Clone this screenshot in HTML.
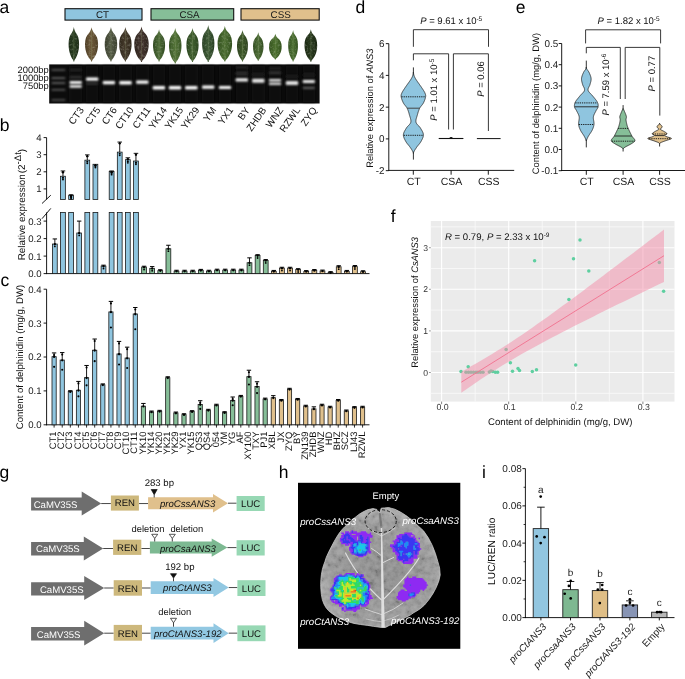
<!DOCTYPE html>
<html><head><meta charset="utf-8"><style>
html,body{margin:0;padding:0;background:#fff;}
svg{display:block;font-family:"Liberation Sans", sans-serif;}
text{opacity:0.999;text-rendering:geometricPrecision;}
</style></head><body>
<svg width="685" height="679" viewBox="0 0 685 679">
<rect x="0" y="0" width="685" height="679" fill="#fff"/>
<text x="-0.6" y="12.9" font-size="17.5" text-anchor="start" fill="#000" >a</text>
<text x="-0.3" y="130.9" font-size="17.5" text-anchor="start" fill="#000" >b</text>
<text x="0.4" y="285.8" font-size="17.5" text-anchor="start" fill="#000" >c</text>
<text x="355.6" y="12.9" font-size="17.5" text-anchor="start" fill="#000" >d</text>
<text x="515.8" y="12.9" font-size="17.5" text-anchor="start" fill="#000" >e</text>
<text x="390.8" y="222.4" font-size="17.5" text-anchor="start" fill="#000" >f</text>
<text x="-0.5" y="478" font-size="17.5" text-anchor="start" fill="#000" >g</text>
<text x="278.8" y="478" font-size="17.5" text-anchor="start" fill="#000" >h</text>
<text x="481.9" y="478" font-size="17.5" text-anchor="start" fill="#000" >i</text>
<rect x="65" y="8.7" width="77" height="11.4" fill="#8FC5DF" stroke="#111" stroke-width="1.1" />
<text x="102.5" y="17.8" font-size="9.8" text-anchor="middle" fill="#1A1A1A" >CT</text>
<rect x="151" y="8.7" width="82.7" height="11.4" fill="#86BE98" stroke="#111" stroke-width="1.1" />
<text x="189.5" y="17.8" font-size="9.8" text-anchor="middle" fill="#1A1A1A" >CSA</text>
<rect x="241" y="8.7" width="78.2" height="11.4" fill="#E0C08C" stroke="#111" stroke-width="1.1" />
<text x="280.65" y="17.8" font-size="9.8" text-anchor="middle" fill="#1A1A1A" >CSS</text>
<defs><filter id="ltexa" x="0" y="0" width="100%" height="100%"><feTurbulence type="fractalNoise" baseFrequency="0.45" numOctaves="2" seed="3"/><feColorMatrix type="matrix" values="0 0 0 0 0.85  0 0 0 0 0.88  0 0 0 0 0.8  1.8 0 0 0 -0.85"/><feComposite in2="SourceGraphic" operator="in"/></filter>
<linearGradient id="lg0" x1="0" y1="0" x2="1" y2="0"><stop offset="0" stop-color="#1A2A14"/><stop offset="0.5" stop-color="#2A3E22"/><stop offset="1" stop-color="#1A2A14"/></linearGradient>
<linearGradient id="lg1" x1="0" y1="0" x2="1" y2="0"><stop offset="0" stop-color="#4E3E26"/><stop offset="0.5" stop-color="#6E5A3A"/><stop offset="1" stop-color="#4E3E26"/></linearGradient>
<linearGradient id="lg2" x1="0" y1="0" x2="1" y2="0"><stop offset="0" stop-color="#3A3F2E"/><stop offset="0.5" stop-color="#545A45"/><stop offset="1" stop-color="#3A3F2E"/></linearGradient>
<linearGradient id="lg3" x1="0" y1="0" x2="1" y2="0"><stop offset="0" stop-color="#2E261A"/><stop offset="0.5" stop-color="#473C2C"/><stop offset="1" stop-color="#2E261A"/></linearGradient>
<linearGradient id="lg4" x1="0" y1="0" x2="1" y2="0"><stop offset="0" stop-color="#2C221C"/><stop offset="0.5" stop-color="#45362F"/><stop offset="1" stop-color="#2C221C"/></linearGradient>
<linearGradient id="lg5" x1="0" y1="0" x2="1" y2="0"><stop offset="0" stop-color="#314A22"/><stop offset="0.5" stop-color="#4C6B36"/><stop offset="1" stop-color="#314A22"/></linearGradient>
<linearGradient id="lg6" x1="0" y1="0" x2="1" y2="0"><stop offset="0" stop-color="#375424"/><stop offset="0.5" stop-color="#557539"/><stop offset="1" stop-color="#375424"/></linearGradient>
<linearGradient id="lg7" x1="0" y1="0" x2="1" y2="0"><stop offset="0" stop-color="#2A441E"/><stop offset="0.5" stop-color="#41602F"/><stop offset="1" stop-color="#2A441E"/></linearGradient>
<linearGradient id="lg8" x1="0" y1="0" x2="1" y2="0"><stop offset="0" stop-color="#273E22"/><stop offset="0.5" stop-color="#3E5A36"/><stop offset="1" stop-color="#273E22"/></linearGradient>
<linearGradient id="lg9" x1="0" y1="0" x2="1" y2="0"><stop offset="0" stop-color="#33501F"/><stop offset="0.5" stop-color="#4C6E31"/><stop offset="1" stop-color="#33501F"/></linearGradient>
<linearGradient id="lg10" x1="0" y1="0" x2="1" y2="0"><stop offset="0" stop-color="#2A3F1B"/><stop offset="0.5" stop-color="#405B2B"/><stop offset="1" stop-color="#2A3F1B"/></linearGradient>
<linearGradient id="lg11" x1="0" y1="0" x2="1" y2="0"><stop offset="0" stop-color="#334D22"/><stop offset="0.5" stop-color="#4C6C35"/><stop offset="1" stop-color="#334D22"/></linearGradient>
<linearGradient id="lg12" x1="0" y1="0" x2="1" y2="0"><stop offset="0" stop-color="#34521E"/><stop offset="0.5" stop-color="#4D712F"/><stop offset="1" stop-color="#34521E"/></linearGradient>
<linearGradient id="lg13" x1="0" y1="0" x2="1" y2="0"><stop offset="0" stop-color="#335120"/><stop offset="0.5" stop-color="#4C7032"/><stop offset="1" stop-color="#335120"/></linearGradient>
<linearGradient id="lg14" x1="0" y1="0" x2="1" y2="0"><stop offset="0" stop-color="#1A2712"/><stop offset="0.5" stop-color="#28391D"/><stop offset="1" stop-color="#1A2712"/></linearGradient>
</defs>
<path d="M73.85,27 C74.11,28.72 74.48,30.44 75.53,32.16 C78.05,35.26 79.1,38.7 79.1,44.2 C79.1,51.77 76.74,57.27 74.48,60.02 L74.25,61.4 L73.45,61.4 L73.22,60.02 C70.96,57.27 68.6,51.77 68.6,44.2 C68.6,38.7 69.65,35.26 72.17,32.16 C73.22,30.44 73.59,28.72 73.85,27 Z" fill="url(#lg0)"/>
<path d="M73.85,27 C74.11,28.72 74.48,30.44 75.53,32.16 C78.05,35.26 79.1,38.7 79.1,44.2 C79.1,51.77 76.74,57.27 74.48,60.02 L74.25,61.4 L73.45,61.4 L73.22,60.02 C70.96,57.27 68.6,51.77 68.6,44.2 C68.6,38.7 69.65,35.26 72.17,32.16 C73.22,30.44 73.59,28.72 73.85,27 Z" fill="#000" filter="url(#ltexa)" opacity="0.35"/>
<line x1="73.85" y1="30" x2="73.85" y2="60.4" stroke="#8A9A70" stroke-width="0.5" opacity="0.5"/>
<path d="M91.55,27.3 C91.88,29 92.34,30.71 93.65,32.41 C96.79,35.48 98.1,38.89 98.1,44.35 C98.1,51.85 95.15,57.31 92.34,60.04 L91.95,61.4 L91.15,61.4 L90.76,60.04 C87.95,57.31 85,51.85 85,44.35 C85,38.89 86.31,35.48 89.45,32.41 C90.76,30.71 91.22,29 91.55,27.3 Z" fill="url(#lg1)"/>
<path d="M91.55,27.3 C91.88,29 92.34,30.71 93.65,32.41 C96.79,35.48 98.1,38.89 98.1,44.35 C98.1,51.85 95.15,57.31 92.34,60.04 L91.95,61.4 L91.15,61.4 L90.76,60.04 C87.95,57.31 85,51.85 85,44.35 C85,38.89 86.31,35.48 89.45,32.41 C90.76,30.71 91.22,29 91.55,27.3 Z" fill="#000" filter="url(#ltexa)" opacity="0.35"/>
<line x1="91.55" y1="30.3" x2="91.55" y2="60.4" stroke="#8A9A70" stroke-width="0.5" opacity="0.5"/>
<path d="M110.95,27 C111.26,28.72 111.7,30.44 112.95,32.16 C115.95,35.26 117.2,38.7 117.2,44.2 C117.2,51.77 114.39,57.27 111.7,60.02 L111.35,61.4 L110.55,61.4 L110.2,60.02 C107.51,57.27 104.7,51.77 104.7,44.2 C104.7,38.7 105.95,35.26 108.95,32.16 C110.2,30.44 110.64,28.72 110.95,27 Z" fill="url(#lg2)"/>
<path d="M110.95,27 C111.26,28.72 111.7,30.44 112.95,32.16 C115.95,35.26 117.2,38.7 117.2,44.2 C117.2,51.77 114.39,57.27 111.7,60.02 L111.35,61.4 L110.55,61.4 L110.2,60.02 C107.51,57.27 104.7,51.77 104.7,44.2 C104.7,38.7 105.95,35.26 108.95,32.16 C110.2,30.44 110.64,28.72 110.95,27 Z" fill="#000" filter="url(#ltexa)" opacity="0.35"/>
<line x1="110.95" y1="30" x2="110.95" y2="60.4" stroke="#8A9A70" stroke-width="0.5" opacity="0.5"/>
<path d="M125.4,27 C125.71,28.72 126.14,30.44 127.38,32.16 C130.36,35.26 131.6,38.7 131.6,44.2 C131.6,51.77 128.81,57.27 126.14,60.02 L125.8,61.4 L125,61.4 L124.66,60.02 C121.99,57.27 119.2,51.77 119.2,44.2 C119.2,38.7 120.44,35.26 123.42,32.16 C124.66,30.44 125.09,28.72 125.4,27 Z" fill="url(#lg3)"/>
<path d="M125.4,27 C125.71,28.72 126.14,30.44 127.38,32.16 C130.36,35.26 131.6,38.7 131.6,44.2 C131.6,51.77 128.81,57.27 126.14,60.02 L125.8,61.4 L125,61.4 L124.66,60.02 C121.99,57.27 119.2,51.77 119.2,44.2 C119.2,38.7 120.44,35.26 123.42,32.16 C124.66,30.44 125.09,28.72 125.4,27 Z" fill="#000" filter="url(#ltexa)" opacity="0.35"/>
<line x1="125.4" y1="30" x2="125.4" y2="60.4" stroke="#8A9A70" stroke-width="0.5" opacity="0.5"/>
<path d="M141.5,26.6 C141.86,28.37 142.36,30.14 143.8,31.91 C147.26,35.1 148.7,38.64 148.7,44.3 C148.7,52.09 145.46,57.75 142.36,60.58 L141.9,62 L141.1,62 L140.64,60.58 C137.54,57.75 134.3,52.09 134.3,44.3 C134.3,38.64 135.74,35.1 139.2,31.91 C140.64,30.14 141.14,28.37 141.5,26.6 Z" fill="url(#lg4)"/>
<path d="M141.5,26.6 C141.86,28.37 142.36,30.14 143.8,31.91 C147.26,35.1 148.7,38.64 148.7,44.3 C148.7,52.09 145.46,57.75 142.36,60.58 L141.9,62 L141.1,62 L140.64,60.58 C137.54,57.75 134.3,52.09 134.3,44.3 C134.3,38.64 135.74,35.1 139.2,31.91 C140.64,30.14 141.14,28.37 141.5,26.6 Z" fill="#000" filter="url(#ltexa)" opacity="0.35"/>
<line x1="141.5" y1="29.6" x2="141.5" y2="61" stroke="#8A9A70" stroke-width="0.5" opacity="0.5"/>
<path d="M159.05,29.2 C159.35,30.81 159.78,32.42 160.99,34.03 C163.89,36.93 165.1,40.15 165.1,45.3 C165.1,52.38 162.38,57.54 159.78,60.11 L159.45,61.4 L158.65,61.4 L158.32,60.11 C155.72,57.54 153,52.38 153,45.3 C153,40.15 154.21,36.93 157.11,34.03 C158.32,32.42 158.75,30.81 159.05,29.2 Z" fill="url(#lg5)"/>
<path d="M159.05,29.2 C159.35,30.81 159.78,32.42 160.99,34.03 C163.89,36.93 165.1,40.15 165.1,45.3 C165.1,52.38 162.38,57.54 159.78,60.11 L159.45,61.4 L158.65,61.4 L158.32,60.11 C155.72,57.54 153,52.38 153,45.3 C153,40.15 154.21,36.93 157.11,34.03 C158.32,32.42 158.75,30.81 159.05,29.2 Z" fill="#000" filter="url(#ltexa)" opacity="0.35"/>
<line x1="159.05" y1="32.2" x2="159.05" y2="60.4" stroke="#8A9A70" stroke-width="0.5" opacity="0.5"/>
<path d="M175.25,27.9 C175.56,29.67 176,31.45 177.25,33.23 C180.25,36.42 181.5,39.97 181.5,45.65 C181.5,53.46 178.69,59.14 176,61.98 L175.65,63.4 L174.85,63.4 L174.5,61.98 C171.81,59.14 169,53.46 169,45.65 C169,39.97 170.25,36.42 173.25,33.23 C174.5,31.45 174.94,29.67 175.25,27.9 Z" fill="url(#lg6)"/>
<path d="M175.25,27.9 C175.56,29.67 176,31.45 177.25,33.23 C180.25,36.42 181.5,39.97 181.5,45.65 C181.5,53.46 178.69,59.14 176,61.98 L175.65,63.4 L174.85,63.4 L174.5,61.98 C171.81,59.14 169,53.46 169,45.65 C169,39.97 170.25,36.42 173.25,33.23 C174.5,31.45 174.94,29.67 175.25,27.9 Z" fill="#000" filter="url(#ltexa)" opacity="0.35"/>
<line x1="175.25" y1="30.9" x2="175.25" y2="62.4" stroke="#8A9A70" stroke-width="0.5" opacity="0.5"/>
<path d="M192.5,27.9 C192.81,29.6 193.23,31.31 194.45,33.02 C197.38,36.08 198.6,39.49 198.6,44.95 C198.6,52.45 195.85,57.91 193.23,60.64 L192.9,62 L192.1,62 L191.77,60.64 C189.15,57.91 186.4,52.45 186.4,44.95 C186.4,39.49 187.62,36.08 190.55,33.02 C191.77,31.31 192.19,29.6 192.5,27.9 Z" fill="url(#lg7)"/>
<path d="M192.5,27.9 C192.81,29.6 193.23,31.31 194.45,33.02 C197.38,36.08 198.6,39.49 198.6,44.95 C198.6,52.45 195.85,57.91 193.23,60.64 L192.9,62 L192.1,62 L191.77,60.64 C189.15,57.91 186.4,52.45 186.4,44.95 C186.4,39.49 187.62,36.08 190.55,33.02 C191.77,31.31 192.19,29.6 192.5,27.9 Z" fill="#000" filter="url(#ltexa)" opacity="0.35"/>
<line x1="192.5" y1="30.9" x2="192.5" y2="61" stroke="#8A9A70" stroke-width="0.5" opacity="0.5"/>
<path d="M208.25,24.9 C208.56,26.75 208.99,28.61 210.22,30.46 C213.17,33.8 214.4,37.51 214.4,43.45 C214.4,51.61 211.63,57.55 208.99,60.52 L208.65,62 L207.85,62 L207.51,60.52 C204.87,57.55 202.1,51.61 202.1,43.45 C202.1,37.51 203.33,33.8 206.28,30.46 C207.51,28.61 207.94,26.75 208.25,24.9 Z" fill="url(#lg8)"/>
<path d="M208.25,24.9 C208.56,26.75 208.99,28.61 210.22,30.46 C213.17,33.8 214.4,37.51 214.4,43.45 C214.4,51.61 211.63,57.55 208.99,60.52 L208.65,62 L207.85,62 L207.51,60.52 C204.87,57.55 202.1,51.61 202.1,43.45 C202.1,37.51 203.33,33.8 206.28,30.46 C207.51,28.61 207.94,26.75 208.25,24.9 Z" fill="#000" filter="url(#ltexa)" opacity="0.35"/>
<line x1="208.25" y1="27.9" x2="208.25" y2="61" stroke="#8A9A70" stroke-width="0.5" opacity="0.5"/>
<path d="M224.85,25.9 C225.21,27.67 225.72,29.45 227.17,31.22 C230.65,34.42 232.1,37.97 232.1,43.65 C232.1,51.46 228.84,57.14 225.72,59.98 L225.25,61.4 L224.45,61.4 L223.98,59.98 C220.86,57.14 217.6,51.46 217.6,43.65 C217.6,37.97 219.05,34.42 222.53,31.22 C223.98,29.45 224.49,27.67 224.85,25.9 Z" fill="url(#lg9)"/>
<path d="M224.85,25.9 C225.21,27.67 225.72,29.45 227.17,31.22 C230.65,34.42 232.1,37.97 232.1,43.65 C232.1,51.46 228.84,57.14 225.72,59.98 L225.25,61.4 L224.45,61.4 L223.98,59.98 C220.86,57.14 217.6,51.46 217.6,43.65 C217.6,37.97 219.05,34.42 222.53,31.22 C223.98,29.45 224.49,27.67 224.85,25.9 Z" fill="#000" filter="url(#ltexa)" opacity="0.35"/>
<line x1="224.85" y1="28.9" x2="224.85" y2="60.4" stroke="#8A9A70" stroke-width="0.5" opacity="0.5"/>
<path d="M242.5,30.1 C242.78,31.67 243.16,33.23 244.26,34.8 C246.9,37.61 248,40.74 248,45.75 C248,52.64 245.53,57.64 243.16,60.15 L242.9,61.4 L242.1,61.4 L241.84,60.15 C239.47,57.64 237,52.64 237,45.75 C237,40.74 238.1,37.61 240.74,34.8 C241.84,33.23 242.22,31.67 242.5,30.1 Z" fill="url(#lg10)"/>
<path d="M242.5,30.1 C242.78,31.67 243.16,33.23 244.26,34.8 C246.9,37.61 248,40.74 248,45.75 C248,52.64 245.53,57.64 243.16,60.15 L242.9,61.4 L242.1,61.4 L241.84,60.15 C239.47,57.64 237,52.64 237,45.75 C237,40.74 238.1,37.61 240.74,34.8 C241.84,33.23 242.22,31.67 242.5,30.1 Z" fill="#000" filter="url(#ltexa)" opacity="0.35"/>
<line x1="242.5" y1="33.1" x2="242.5" y2="60.4" stroke="#8A9A70" stroke-width="0.5" opacity="0.5"/>
<path d="M258.25,32.2 C258.51,33.63 258.88,35.06 259.93,36.49 C262.45,39.06 263.5,41.92 263.5,46.5 C263.5,52.79 261.14,57.37 258.88,59.66 L258.65,60.8 L257.85,60.8 L257.62,59.66 C255.36,57.37 253,52.79 253,46.5 C253,41.92 254.05,39.06 256.57,36.49 C257.62,35.06 257.99,33.63 258.25,32.2 Z" fill="url(#lg11)"/>
<path d="M258.25,32.2 C258.51,33.63 258.88,35.06 259.93,36.49 C262.45,39.06 263.5,41.92 263.5,46.5 C263.5,52.79 261.14,57.37 258.88,59.66 L258.65,60.8 L257.85,60.8 L257.62,59.66 C255.36,57.37 253,52.79 253,46.5 C253,41.92 254.05,39.06 256.57,36.49 C257.62,35.06 257.99,33.63 258.25,32.2 Z" fill="#000" filter="url(#ltexa)" opacity="0.35"/>
<line x1="258.25" y1="35.2" x2="258.25" y2="59.8" stroke="#8A9A70" stroke-width="0.5" opacity="0.5"/>
<path d="M275.35,33.8 C275.67,35.08 276.11,36.37 277.38,37.66 C280.43,39.97 281.7,42.54 281.7,46.65 C281.7,52.3 278.84,56.42 276.11,58.47 L275.75,59.5 L274.95,59.5 L274.59,58.47 C271.86,56.42 269,52.3 269,46.65 C269,42.54 270.27,39.97 273.32,37.66 C274.59,36.37 275.03,35.08 275.35,33.8 Z" fill="url(#lg12)"/>
<path d="M275.35,33.8 C275.67,35.08 276.11,36.37 277.38,37.66 C280.43,39.97 281.7,42.54 281.7,46.65 C281.7,52.3 278.84,56.42 276.11,58.47 L275.75,59.5 L274.95,59.5 L274.59,58.47 C271.86,56.42 269,52.3 269,46.65 C269,42.54 270.27,39.97 273.32,37.66 C274.59,36.37 275.03,35.08 275.35,33.8 Z" fill="#000" filter="url(#ltexa)" opacity="0.35"/>
<line x1="275.35" y1="36.8" x2="275.35" y2="58.5" stroke="#8A9A70" stroke-width="0.5" opacity="0.5"/>
<path d="M293.1,29.9 C293.35,31.47 293.69,33.05 294.67,34.62 C297.02,37.46 298,40.61 298,45.65 C298,52.58 295.8,57.62 293.69,60.14 L293.5,61.4 L292.7,61.4 L292.51,60.14 C290.41,57.62 288.2,52.58 288.2,45.65 C288.2,40.61 289.18,37.46 291.53,34.62 C292.51,33.05 292.86,31.47 293.1,29.9 Z" fill="url(#lg13)"/>
<path d="M293.1,29.9 C293.35,31.47 293.69,33.05 294.67,34.62 C297.02,37.46 298,40.61 298,45.65 C298,52.58 295.8,57.62 293.69,60.14 L293.5,61.4 L292.7,61.4 L292.51,60.14 C290.41,57.62 288.2,52.58 288.2,45.65 C288.2,40.61 289.18,37.46 291.53,34.62 C292.51,33.05 292.86,31.47 293.1,29.9 Z" fill="#000" filter="url(#ltexa)" opacity="0.35"/>
<line x1="293.1" y1="32.9" x2="293.1" y2="60.4" stroke="#8A9A70" stroke-width="0.5" opacity="0.5"/>
<path d="M310.85,29.2 C311.17,30.82 311.61,32.45 312.88,34.08 C315.93,37 317.2,40.25 317.2,45.45 C317.2,52.6 314.34,57.8 311.61,60.4 L311.25,61.7 L310.45,61.7 L310.09,60.4 C307.36,57.8 304.5,52.6 304.5,45.45 C304.5,40.25 305.77,37 308.82,34.08 C310.09,32.45 310.53,30.82 310.85,29.2 Z" fill="url(#lg14)"/>
<path d="M310.85,29.2 C311.17,30.82 311.61,32.45 312.88,34.08 C315.93,37 317.2,40.25 317.2,45.45 C317.2,52.6 314.34,57.8 311.61,60.4 L311.25,61.7 L310.45,61.7 L310.09,60.4 C307.36,57.8 304.5,52.6 304.5,45.45 C304.5,40.25 305.77,37 308.82,34.08 C310.09,32.45 310.53,30.82 310.85,29.2 Z" fill="#000" filter="url(#ltexa)" opacity="0.35"/>
<line x1="310.85" y1="32.2" x2="310.85" y2="60.7" stroke="#8A9A70" stroke-width="0.5" opacity="0.5"/>
<defs><filter id="blur1" x="-30%" y="-150%" width="160%" height="400%"><feGaussianBlur stdDeviation="0.95"/></filter><filter id="blur2" x="-30%" y="-30%" width="160%" height="160%"><feGaussianBlur stdDeviation="1.5"/></filter></defs>
<rect x="49.2" y="64.4" width="270.4" height="39.1" fill="#0C0C0C" stroke="none" stroke-width="0.8" />
<rect x="69.5" y="66" width="12.4" height="36" fill="#111111" stroke="none" stroke-width="0.8" filter="url(#blur2)"/>
<rect x="86" y="66" width="12.4" height="36" fill="#111111" stroke="none" stroke-width="0.8" filter="url(#blur2)"/>
<rect x="102.7" y="66" width="12.4" height="36" fill="#111111" stroke="none" stroke-width="0.8" filter="url(#blur2)"/>
<rect x="119.3" y="66" width="12.4" height="36" fill="#111111" stroke="none" stroke-width="0.8" filter="url(#blur2)"/>
<rect x="136.1" y="66" width="12.4" height="36" fill="#111111" stroke="none" stroke-width="0.8" filter="url(#blur2)"/>
<rect x="152.7" y="66" width="12.4" height="36" fill="#111111" stroke="none" stroke-width="0.8" filter="url(#blur2)"/>
<rect x="168.8" y="66" width="12.4" height="36" fill="#111111" stroke="none" stroke-width="0.8" filter="url(#blur2)"/>
<rect x="185.1" y="66" width="12.4" height="36" fill="#111111" stroke="none" stroke-width="0.8" filter="url(#blur2)"/>
<rect x="202" y="66" width="12.4" height="36" fill="#111111" stroke="none" stroke-width="0.8" filter="url(#blur2)"/>
<rect x="218.8" y="66" width="12.4" height="36" fill="#111111" stroke="none" stroke-width="0.8" filter="url(#blur2)"/>
<rect x="235.6" y="66" width="12.4" height="36" fill="#111111" stroke="none" stroke-width="0.8" filter="url(#blur2)"/>
<rect x="252.1" y="66" width="12.4" height="36" fill="#111111" stroke="none" stroke-width="0.8" filter="url(#blur2)"/>
<rect x="268.8" y="66" width="12.4" height="36" fill="#111111" stroke="none" stroke-width="0.8" filter="url(#blur2)"/>
<rect x="285.8" y="66" width="12.4" height="36" fill="#111111" stroke="none" stroke-width="0.8" filter="url(#blur2)"/>
<rect x="302.6" y="66" width="12.4" height="36" fill="#111111" stroke="none" stroke-width="0.8" filter="url(#blur2)"/>
<rect x="51.6" y="69.2" width="13.6" height="1.4" fill="#6A6A6A" stroke="none" stroke-width="0.8" filter="url(#blur1)"/>
<rect x="51.6" y="77.4" width="13.6" height="1.4" fill="#7A7A7A" stroke="none" stroke-width="0.8" filter="url(#blur1)"/>
<rect x="51.6" y="82.3" width="13.6" height="1.4" fill="#7A7A7A" stroke="none" stroke-width="0.8" filter="url(#blur1)"/>
<rect x="51.6" y="89.1" width="13.6" height="1.4" fill="#6A6A6A" stroke="none" stroke-width="0.8" filter="url(#blur1)"/>
<rect x="51.6" y="99.3" width="13.6" height="1.4" fill="#606060" stroke="none" stroke-width="0.8" filter="url(#blur1)"/>
<rect x="69.5" y="80.9" width="12.4" height="3" rx="1.2" fill="#F4F4F4" filter="url(#blur1)"/>
<rect x="69.5" y="84.9" width="12.4" height="2.8" rx="1.2" fill="#EAEAEA" filter="url(#blur1)"/>
<rect x="69.5" y="76.2" width="12.4" height="2" rx="1.2" fill="#3A3A3A" filter="url(#blur1)"/>
<rect x="69.5" y="69.2" width="12.4" height="1.6" rx="1.2" fill="#303030" filter="url(#blur1)"/>
<rect x="86" y="77.6" width="12.4" height="3.2" rx="1.2" fill="#FFFFFF" filter="url(#blur1)"/>
<rect x="86" y="82.5" width="12.4" height="2" rx="1.2" fill="#3A3A3A" filter="url(#blur1)"/>
<rect x="102.7" y="80.9" width="12.4" height="3.4" rx="1.2" fill="#FFFFFF" filter="url(#blur1)"/>
<rect x="119.3" y="81" width="12.4" height="3.4" rx="1.2" fill="#FFFFFF" filter="url(#blur1)"/>
<rect x="136.1" y="80.5" width="12.4" height="3.2" rx="1.2" fill="#FFFFFF" filter="url(#blur1)"/>
<rect x="152.7" y="86" width="12.4" height="3.4" rx="1.2" fill="#FFFFFF" filter="url(#blur1)"/>
<rect x="168.8" y="86.1" width="12.4" height="3.4" rx="1.2" fill="#FFFFFF" filter="url(#blur1)"/>
<rect x="185.1" y="86.1" width="12.4" height="3.4" rx="1.2" fill="#FFFFFF" filter="url(#blur1)"/>
<rect x="202" y="85.6" width="12.4" height="3.2" rx="1.2" fill="#FFFFFF" filter="url(#blur1)"/>
<rect x="218.8" y="85.9" width="12.4" height="3.2" rx="1.2" fill="#FFFFFF" filter="url(#blur1)"/>
<rect x="235.6" y="78.2" width="12.4" height="3.4" rx="1.2" fill="#F4F4F4" filter="url(#blur1)"/>
<rect x="235.6" y="71.5" width="12.4" height="4" rx="1.2" fill="#2C2C2C" filter="url(#blur1)"/>
<rect x="235.6" y="66.25" width="12.4" height="2.5" rx="1.2" fill="#222222" filter="url(#blur1)"/>
<rect x="252.1" y="78.7" width="12.4" height="4" rx="1.2" fill="#E8E8E8" filter="url(#blur1)"/>
<rect x="252.1" y="73" width="12.4" height="3" rx="1.2" fill="#1E1E1E" filter="url(#blur1)"/>
<rect x="268.8" y="78.9" width="12.4" height="2.6" rx="1.2" fill="#EAEAEA" filter="url(#blur1)"/>
<rect x="268.8" y="82.5" width="12.4" height="2.6" rx="1.2" fill="#DEDEDE" filter="url(#blur1)"/>
<rect x="268.8" y="71.2" width="12.4" height="3" rx="1.2" fill="#333333" filter="url(#blur1)"/>
<rect x="268.8" y="67.5" width="12.4" height="2" rx="1.2" fill="#262626" filter="url(#blur1)"/>
<rect x="285.8" y="81.1" width="12.4" height="4" rx="1.2" fill="#E4E4E4" filter="url(#blur1)"/>
<rect x="285.8" y="75" width="12.4" height="3" rx="1.2" fill="#1E1E1E" filter="url(#blur1)"/>
<rect x="302.6" y="80.1" width="12.4" height="2.8" rx="1.2" fill="#EEEEEE" filter="url(#blur1)"/>
<rect x="302.6" y="87.1" width="12.4" height="1.6" rx="1.2" fill="#707070" filter="url(#blur1)"/>
<rect x="302.6" y="73.5" width="12.4" height="3" rx="1.2" fill="#1E1E1E" filter="url(#blur1)"/>
<text x="48.8" y="72.5" font-size="9.4" text-anchor="end" fill="#111" >2000bp</text>
<text x="48.8" y="80.6" font-size="9.4" text-anchor="end" fill="#111" >1000bp</text>
<text x="48.8" y="88.8" font-size="9.4" text-anchor="end" fill="#111" >750bp</text>
<text transform="translate(84.3,110) rotate(-55)" font-size="9.9" text-anchor="end" fill="#111" >CT3</text>
<text transform="translate(100.8,110) rotate(-55)" font-size="9.9" text-anchor="end" fill="#111" >CT5</text>
<text transform="translate(117.5,110) rotate(-55)" font-size="9.9" text-anchor="end" fill="#111" >CT6</text>
<text transform="translate(134.1,110) rotate(-55)" font-size="9.9" text-anchor="end" fill="#111" >CT10</text>
<text transform="translate(150.9,110) rotate(-55)" font-size="9.9" text-anchor="end" fill="#111" >CT11</text>
<text transform="translate(167.5,110) rotate(-55)" font-size="9.9" text-anchor="end" fill="#111" >YK14</text>
<text transform="translate(183.6,110) rotate(-55)" font-size="9.9" text-anchor="end" fill="#111" >YK15</text>
<text transform="translate(199.9,110) rotate(-55)" font-size="9.9" text-anchor="end" fill="#111" >YK29</text>
<text transform="translate(216.8,110) rotate(-55)" font-size="9.9" text-anchor="end" fill="#111" >YM</text>
<text transform="translate(233.6,110) rotate(-55)" font-size="9.9" text-anchor="end" fill="#111" >YX1</text>
<text transform="translate(250.4,110) rotate(-55)" font-size="9.9" text-anchor="end" fill="#111" >BY</text>
<text transform="translate(266.9,110) rotate(-55)" font-size="9.9" text-anchor="end" fill="#111" >ZHDB</text>
<text transform="translate(283.6,110) rotate(-55)" font-size="9.9" text-anchor="end" fill="#111" >WNZ</text>
<text transform="translate(300.6,110) rotate(-55)" font-size="9.9" text-anchor="end" fill="#111" >RZWL</text>
<text transform="translate(317.4,110) rotate(-55)" font-size="9.9" text-anchor="end" fill="#111" >ZYQ</text>
<line x1="46.6" y1="137.6" x2="46.6" y2="199.5" stroke="#000" stroke-width="0.9" />
<line x1="46.6" y1="212.4" x2="46.6" y2="274.05" stroke="#000" stroke-width="0.9" />
<line x1="46.15" y1="273.6" x2="369.5" y2="273.6" stroke="#000" stroke-width="0.9" />
<line x1="43.6" y1="188.9" x2="46.6" y2="188.9" stroke="#000" stroke-width="0.9" />
<text x="41.6" y="192.3" font-size="9.6" text-anchor="end" fill="#222" >1</text>
<line x1="43.6" y1="171.8" x2="46.6" y2="171.8" stroke="#000" stroke-width="0.9" />
<text x="41.6" y="175.2" font-size="9.6" text-anchor="end" fill="#222" >2</text>
<line x1="43.6" y1="154.7" x2="46.6" y2="154.7" stroke="#000" stroke-width="0.9" />
<text x="41.6" y="158.1" font-size="9.6" text-anchor="end" fill="#222" >3</text>
<line x1="43.6" y1="137.6" x2="46.6" y2="137.6" stroke="#000" stroke-width="0.9" />
<text x="41.6" y="141" font-size="9.6" text-anchor="end" fill="#222" >4</text>
<line x1="43.6" y1="273.6" x2="46.6" y2="273.6" stroke="#000" stroke-width="0.9" />
<text x="41.6" y="277" font-size="9.6" text-anchor="end" fill="#222" >0.0</text>
<line x1="43.6" y1="256.1" x2="46.6" y2="256.1" stroke="#000" stroke-width="0.9" />
<text x="41.6" y="259.5" font-size="9.6" text-anchor="end" fill="#222" >0.1</text>
<line x1="43.6" y1="238.6" x2="46.6" y2="238.6" stroke="#000" stroke-width="0.9" />
<text x="41.6" y="242" font-size="9.6" text-anchor="end" fill="#222" >0.2</text>
<line x1="43.6" y1="221.1" x2="46.6" y2="221.1" stroke="#000" stroke-width="0.9" />
<text x="41.6" y="224.5" font-size="9.6" text-anchor="end" fill="#222" >0.3</text>
<line x1="42" y1="203.5" x2="50.8" y2="195.2" stroke="#000" stroke-width="0.9" />
<line x1="42" y1="218.7" x2="50.8" y2="208.4" stroke="#000" stroke-width="0.9" />
<text transform="translate(25.2,204.6) rotate(-90)" font-size="9.9" text-anchor="middle" fill="#111">Relative expression<tspan dx="1">(2</tspan><tspan dy="-4.6" font-size="9.6">-Δt</tspan><tspan dy="4.6">)</tspan></text>
<rect x="52.45" y="244.03" width="4.8" height="29.57" fill="#8FC5DF" stroke="#1A1A1A" stroke-width="0.8" />
<line x1="54.85" y1="238.95" x2="54.85" y2="244.03" stroke="#000" stroke-width="0.9" />
<line x1="52.65" y1="238.95" x2="57.05" y2="238.95" stroke="#000" stroke-width="1.0" />
<circle cx="54.85" cy="244.23" r="1.15" fill="#000" />
<circle cx="54.85" cy="246.43" r="0.9" fill="#000" />
<rect x="60.56" y="212.4" width="4.8" height="61.2" fill="#8FC5DF" stroke="#1A1A1A" stroke-width="0.8" />
<rect x="60.56" y="176.25" width="4.8" height="23.25" fill="#8FC5DF" stroke="#1A1A1A" stroke-width="0.8" />
<line x1="62.96" y1="170.94" x2="62.96" y2="176.25" stroke="#000" stroke-width="0.9" />
<line x1="60.66" y1="170.94" x2="65.26" y2="170.94" stroke="#000" stroke-width="0.9" />
<circle cx="62.96" cy="177.85" r="1.05" fill="#000" />
<circle cx="62.96" cy="179.45" r="0.95" fill="#000" />
<circle cx="62.96" cy="172.25" r="1.2" fill="#000" />
<rect x="68.67" y="212.4" width="4.8" height="61.2" fill="#8FC5DF" stroke="#1A1A1A" stroke-width="0.8" />
<rect x="68.67" y="195.57" width="4.8" height="3.93" fill="#8FC5DF" stroke="#1A1A1A" stroke-width="0.8" />
<line x1="71.07" y1="194.71" x2="71.07" y2="195.57" stroke="#000" stroke-width="0.9" />
<line x1="68.77" y1="194.71" x2="73.37" y2="194.71" stroke="#000" stroke-width="0.9" />
<circle cx="71.07" cy="197.17" r="1.05" fill="#000" />
<circle cx="71.07" cy="198.77" r="0.95" fill="#000" />
<circle cx="71.07" cy="196.01" r="1.2" fill="#000" />
<rect x="76.78" y="233" width="4.8" height="40.6" fill="#8FC5DF" stroke="#1A1A1A" stroke-width="0.8" />
<line x1="79.18" y1="221.1" x2="79.18" y2="233" stroke="#000" stroke-width="0.9" />
<line x1="76.98" y1="221.1" x2="81.38" y2="221.1" stroke="#000" stroke-width="1.0" />
<circle cx="79.18" cy="233.2" r="1.15" fill="#000" />
<circle cx="79.18" cy="235.4" r="0.9" fill="#000" />
<rect x="84.89" y="212.4" width="4.8" height="61.2" fill="#8FC5DF" stroke="#1A1A1A" stroke-width="0.8" />
<rect x="84.89" y="160.17" width="4.8" height="39.33" fill="#8FC5DF" stroke="#1A1A1A" stroke-width="0.8" />
<line x1="87.29" y1="154.87" x2="87.29" y2="160.17" stroke="#000" stroke-width="0.9" />
<line x1="84.99" y1="154.87" x2="89.59" y2="154.87" stroke="#000" stroke-width="0.9" />
<circle cx="87.29" cy="161.77" r="1.05" fill="#000" />
<circle cx="87.29" cy="163.37" r="0.95" fill="#000" />
<circle cx="87.29" cy="156.17" r="1.2" fill="#000" />
<rect x="93" y="212.4" width="4.8" height="61.2" fill="#8FC5DF" stroke="#1A1A1A" stroke-width="0.8" />
<rect x="93" y="164.28" width="4.8" height="35.22" fill="#8FC5DF" stroke="#1A1A1A" stroke-width="0.8" />
<circle cx="95.4" cy="165.88" r="1.05" fill="#000" />
<circle cx="95.4" cy="167.48" r="0.95" fill="#000" />
<circle cx="95.4" cy="165.23" r="1.2" fill="#000" />
<rect x="101.11" y="266.08" width="4.8" height="7.52" fill="#8FC5DF" stroke="#1A1A1A" stroke-width="0.8" />
<line x1="103.51" y1="265.18" x2="103.51" y2="266.08" stroke="#000" stroke-width="0.9" />
<line x1="101.31" y1="265.18" x2="105.71" y2="265.18" stroke="#000" stroke-width="1.0" />
<circle cx="103.51" cy="266.28" r="1.15" fill="#000" />
<circle cx="103.51" cy="268.48" r="0.9" fill="#000" />
<rect x="109.22" y="212.4" width="4.8" height="61.2" fill="#8FC5DF" stroke="#1A1A1A" stroke-width="0.8" />
<rect x="109.22" y="171.46" width="4.8" height="28.04" fill="#8FC5DF" stroke="#1A1A1A" stroke-width="0.8" />
<line x1="111.62" y1="170.94" x2="111.62" y2="171.46" stroke="#000" stroke-width="0.9" />
<line x1="109.32" y1="170.94" x2="113.92" y2="170.94" stroke="#000" stroke-width="0.9" />
<circle cx="111.62" cy="173.06" r="1.05" fill="#000" />
<circle cx="111.62" cy="174.66" r="0.95" fill="#000" />
<circle cx="111.62" cy="172.25" r="1.2" fill="#000" />
<rect x="117.33" y="212.4" width="4.8" height="61.2" fill="#8FC5DF" stroke="#1A1A1A" stroke-width="0.8" />
<rect x="117.33" y="152.13" width="4.8" height="47.37" fill="#8FC5DF" stroke="#1A1A1A" stroke-width="0.8" />
<line x1="119.73" y1="142.05" x2="119.73" y2="152.13" stroke="#000" stroke-width="0.9" />
<line x1="117.43" y1="142.05" x2="122.03" y2="142.05" stroke="#000" stroke-width="0.9" />
<circle cx="119.73" cy="153.73" r="1.05" fill="#000" />
<circle cx="119.73" cy="155.33" r="0.95" fill="#000" />
<circle cx="119.73" cy="143.35" r="1.2" fill="#000" />
<rect x="125.44" y="212.4" width="4.8" height="61.2" fill="#8FC5DF" stroke="#1A1A1A" stroke-width="0.8" />
<rect x="125.44" y="159.66" width="4.8" height="39.84" fill="#8FC5DF" stroke="#1A1A1A" stroke-width="0.8" />
<line x1="127.84" y1="157.78" x2="127.84" y2="159.66" stroke="#000" stroke-width="0.9" />
<line x1="125.54" y1="157.78" x2="130.14" y2="157.78" stroke="#000" stroke-width="0.9" />
<circle cx="127.84" cy="161.26" r="1.05" fill="#000" />
<circle cx="127.84" cy="162.86" r="0.95" fill="#000" />
<circle cx="127.84" cy="159.08" r="1.2" fill="#000" />
<rect x="133.55" y="212.4" width="4.8" height="61.2" fill="#8FC5DF" stroke="#1A1A1A" stroke-width="0.8" />
<rect x="133.55" y="161.03" width="4.8" height="38.47" fill="#8FC5DF" stroke="#1A1A1A" stroke-width="0.8" />
<line x1="135.95" y1="153.33" x2="135.95" y2="161.03" stroke="#000" stroke-width="0.9" />
<line x1="133.65" y1="153.33" x2="138.25" y2="153.33" stroke="#000" stroke-width="0.9" />
<circle cx="135.95" cy="162.63" r="1.05" fill="#000" />
<circle cx="135.95" cy="164.23" r="0.95" fill="#000" />
<circle cx="135.95" cy="154.63" r="1.2" fill="#000" />
<rect x="141.66" y="267.12" width="4.8" height="6.48" fill="#86BE98" stroke="#1A1A1A" stroke-width="0.8" />
<line x1="144.06" y1="266.23" x2="144.06" y2="267.12" stroke="#000" stroke-width="0.9" />
<line x1="141.86" y1="266.23" x2="146.26" y2="266.23" stroke="#000" stroke-width="1.0" />
<circle cx="144.06" cy="267.32" r="1.15" fill="#000" />
<circle cx="144.06" cy="269.52" r="0.9" fill="#000" />
<rect x="149.77" y="268.35" width="4.8" height="5.25" fill="#86BE98" stroke="#1A1A1A" stroke-width="0.8" />
<line x1="152.17" y1="266.6" x2="152.17" y2="268.35" stroke="#000" stroke-width="0.9" />
<line x1="149.97" y1="266.6" x2="154.37" y2="266.6" stroke="#000" stroke-width="1.0" />
<circle cx="152.17" cy="268.55" r="1.15" fill="#000" />
<circle cx="152.17" cy="270.75" r="0.9" fill="#000" />
<rect x="157.88" y="270.62" width="4.8" height="2.98" fill="#86BE98" stroke="#1A1A1A" stroke-width="0.8" />
<line x1="160.28" y1="269.73" x2="160.28" y2="270.62" stroke="#000" stroke-width="0.9" />
<line x1="158.08" y1="269.73" x2="162.48" y2="269.73" stroke="#000" stroke-width="1.0" />
<circle cx="160.28" cy="270.82" r="1.15" fill="#000" />
<rect x="165.99" y="248.75" width="4.8" height="24.85" fill="#86BE98" stroke="#1A1A1A" stroke-width="0.8" />
<line x1="168.39" y1="245.25" x2="168.39" y2="248.75" stroke="#000" stroke-width="0.9" />
<line x1="166.19" y1="245.25" x2="170.59" y2="245.25" stroke="#000" stroke-width="1.0" />
<circle cx="168.39" cy="248.95" r="1.15" fill="#000" />
<circle cx="168.39" cy="251.15" r="0.9" fill="#000" />
<rect x="174.1" y="271.15" width="4.8" height="2.45" fill="#86BE98" stroke="#1A1A1A" stroke-width="0.8" />
<line x1="176.5" y1="270.25" x2="176.5" y2="271.15" stroke="#000" stroke-width="0.9" />
<line x1="174.3" y1="270.25" x2="178.7" y2="270.25" stroke="#000" stroke-width="1.0" />
<circle cx="176.5" cy="271.35" r="1.15" fill="#000" />
<rect x="182.21" y="271.15" width="4.8" height="2.45" fill="#86BE98" stroke="#1A1A1A" stroke-width="0.8" />
<line x1="184.61" y1="270.25" x2="184.61" y2="271.15" stroke="#000" stroke-width="0.9" />
<line x1="182.41" y1="270.25" x2="186.81" y2="270.25" stroke="#000" stroke-width="1.0" />
<circle cx="184.61" cy="271.35" r="1.15" fill="#000" />
<rect x="190.32" y="271.15" width="4.8" height="2.45" fill="#86BE98" stroke="#1A1A1A" stroke-width="0.8" />
<line x1="192.72" y1="270.25" x2="192.72" y2="271.15" stroke="#000" stroke-width="0.9" />
<line x1="190.52" y1="270.25" x2="194.92" y2="270.25" stroke="#000" stroke-width="1.0" />
<circle cx="192.72" cy="271.35" r="1.15" fill="#000" />
<rect x="198.43" y="270.28" width="4.8" height="3.32" fill="#86BE98" stroke="#1A1A1A" stroke-width="0.8" />
<line x1="200.83" y1="269.38" x2="200.83" y2="270.28" stroke="#000" stroke-width="0.9" />
<line x1="198.63" y1="269.38" x2="203.03" y2="269.38" stroke="#000" stroke-width="1.0" />
<circle cx="200.83" cy="270.48" r="1.15" fill="#000" />
<rect x="206.54" y="271.15" width="4.8" height="2.45" fill="#86BE98" stroke="#1A1A1A" stroke-width="0.8" />
<line x1="208.94" y1="270.25" x2="208.94" y2="271.15" stroke="#000" stroke-width="0.9" />
<line x1="206.74" y1="270.25" x2="211.14" y2="270.25" stroke="#000" stroke-width="1.0" />
<circle cx="208.94" cy="271.35" r="1.15" fill="#000" />
<rect x="214.65" y="270.1" width="4.8" height="3.5" fill="#86BE98" stroke="#1A1A1A" stroke-width="0.8" />
<line x1="217.05" y1="269.2" x2="217.05" y2="270.1" stroke="#000" stroke-width="0.9" />
<line x1="214.85" y1="269.2" x2="219.25" y2="269.2" stroke="#000" stroke-width="1.0" />
<circle cx="217.05" cy="270.3" r="1.15" fill="#000" />
<rect x="222.76" y="270.1" width="4.8" height="3.5" fill="#86BE98" stroke="#1A1A1A" stroke-width="0.8" />
<line x1="225.16" y1="269.2" x2="225.16" y2="270.1" stroke="#000" stroke-width="0.9" />
<line x1="222.96" y1="269.2" x2="227.36" y2="269.2" stroke="#000" stroke-width="1.0" />
<circle cx="225.16" cy="270.3" r="1.15" fill="#000" />
<rect x="230.87" y="270.1" width="4.8" height="3.5" fill="#86BE98" stroke="#1A1A1A" stroke-width="0.8" />
<line x1="233.27" y1="269.2" x2="233.27" y2="270.1" stroke="#000" stroke-width="0.9" />
<line x1="231.07" y1="269.2" x2="235.47" y2="269.2" stroke="#000" stroke-width="1.0" />
<circle cx="233.27" cy="270.3" r="1.15" fill="#000" />
<rect x="238.98" y="270.1" width="4.8" height="3.5" fill="#86BE98" stroke="#1A1A1A" stroke-width="0.8" />
<line x1="241.38" y1="269.2" x2="241.38" y2="270.1" stroke="#000" stroke-width="0.9" />
<line x1="239.18" y1="269.2" x2="243.58" y2="269.2" stroke="#000" stroke-width="1.0" />
<circle cx="241.38" cy="270.3" r="1.15" fill="#000" />
<rect x="247.09" y="262.75" width="4.8" height="10.85" fill="#86BE98" stroke="#1A1A1A" stroke-width="0.8" />
<line x1="249.49" y1="257.85" x2="249.49" y2="262.75" stroke="#000" stroke-width="0.9" />
<line x1="247.29" y1="257.85" x2="251.69" y2="257.85" stroke="#000" stroke-width="1.0" />
<circle cx="249.49" cy="262.95" r="1.15" fill="#000" />
<circle cx="249.49" cy="265.15" r="0.9" fill="#000" />
<rect x="255.2" y="255.58" width="4.8" height="18.03" fill="#86BE98" stroke="#1A1A1A" stroke-width="0.8" />
<line x1="257.6" y1="254.68" x2="257.6" y2="255.58" stroke="#000" stroke-width="0.9" />
<line x1="255.4" y1="254.68" x2="259.8" y2="254.68" stroke="#000" stroke-width="1.0" />
<circle cx="257.6" cy="255.78" r="1.15" fill="#000" />
<circle cx="257.6" cy="257.98" r="0.9" fill="#000" />
<rect x="263.31" y="260.48" width="4.8" height="13.12" fill="#86BE98" stroke="#1A1A1A" stroke-width="0.8" />
<line x1="265.71" y1="259.58" x2="265.71" y2="260.48" stroke="#000" stroke-width="0.9" />
<line x1="263.51" y1="259.58" x2="267.91" y2="259.58" stroke="#000" stroke-width="1.0" />
<circle cx="265.71" cy="260.68" r="1.15" fill="#000" />
<circle cx="265.71" cy="262.88" r="0.9" fill="#000" />
<rect x="271.42" y="271.33" width="4.8" height="2.27" fill="#E0C08C" stroke="#1A1A1A" stroke-width="0.8" />
<line x1="273.82" y1="270.43" x2="273.82" y2="271.33" stroke="#000" stroke-width="0.9" />
<line x1="271.62" y1="270.43" x2="276.02" y2="270.43" stroke="#000" stroke-width="1.0" />
<circle cx="273.82" cy="271.53" r="1.15" fill="#000" />
<rect x="279.53" y="268.18" width="4.8" height="5.43" fill="#E0C08C" stroke="#1A1A1A" stroke-width="0.8" />
<line x1="281.93" y1="267.28" x2="281.93" y2="268.18" stroke="#000" stroke-width="0.9" />
<line x1="279.73" y1="267.28" x2="284.13" y2="267.28" stroke="#000" stroke-width="1.0" />
<circle cx="281.93" cy="268.38" r="1.15" fill="#000" />
<circle cx="281.93" cy="270.57" r="0.9" fill="#000" />
<rect x="287.64" y="268.18" width="4.8" height="5.43" fill="#E0C08C" stroke="#1A1A1A" stroke-width="0.8" />
<line x1="290.04" y1="267.28" x2="290.04" y2="268.18" stroke="#000" stroke-width="0.9" />
<line x1="287.84" y1="267.28" x2="292.24" y2="267.28" stroke="#000" stroke-width="1.0" />
<circle cx="290.04" cy="268.38" r="1.15" fill="#000" />
<circle cx="290.04" cy="270.57" r="0.9" fill="#000" />
<rect x="295.75" y="269.58" width="4.8" height="4.02" fill="#E0C08C" stroke="#1A1A1A" stroke-width="0.8" />
<line x1="298.15" y1="268.68" x2="298.15" y2="269.58" stroke="#000" stroke-width="0.9" />
<line x1="295.95" y1="268.68" x2="300.35" y2="268.68" stroke="#000" stroke-width="1.0" />
<circle cx="298.15" cy="269.78" r="1.15" fill="#000" />
<circle cx="298.15" cy="271.98" r="0.9" fill="#000" />
<rect x="303.86" y="271.5" width="4.8" height="2.1" fill="#E0C08C" stroke="#1A1A1A" stroke-width="0.8" />
<line x1="306.26" y1="270.6" x2="306.26" y2="271.5" stroke="#000" stroke-width="0.9" />
<line x1="304.06" y1="270.6" x2="308.46" y2="270.6" stroke="#000" stroke-width="1.0" />
<circle cx="306.26" cy="271.7" r="1.15" fill="#000" />
<rect x="311.97" y="270.45" width="4.8" height="3.15" fill="#E0C08C" stroke="#1A1A1A" stroke-width="0.8" />
<line x1="314.37" y1="269.55" x2="314.37" y2="270.45" stroke="#000" stroke-width="0.9" />
<line x1="312.17" y1="269.55" x2="316.57" y2="269.55" stroke="#000" stroke-width="1.0" />
<circle cx="314.37" cy="270.65" r="1.15" fill="#000" />
<rect x="320.08" y="270.98" width="4.8" height="2.62" fill="#E0C08C" stroke="#1A1A1A" stroke-width="0.8" />
<line x1="322.48" y1="270.08" x2="322.48" y2="270.98" stroke="#000" stroke-width="0.9" />
<line x1="320.28" y1="270.08" x2="324.68" y2="270.08" stroke="#000" stroke-width="1.0" />
<circle cx="322.48" cy="271.18" r="1.15" fill="#000" />
<rect x="328.19" y="272.55" width="4.8" height="1.05" fill="#E0C08C" stroke="#1A1A1A" stroke-width="0.8" />
<line x1="330.59" y1="271.65" x2="330.59" y2="272.55" stroke="#000" stroke-width="0.9" />
<line x1="328.39" y1="271.65" x2="332.79" y2="271.65" stroke="#000" stroke-width="1.0" />
<circle cx="330.59" cy="272.75" r="1.15" fill="#000" />
<rect x="336.3" y="266.78" width="4.8" height="6.82" fill="#E0C08C" stroke="#1A1A1A" stroke-width="0.8" />
<line x1="338.7" y1="265.73" x2="338.7" y2="266.78" stroke="#000" stroke-width="0.9" />
<line x1="336.5" y1="265.73" x2="340.9" y2="265.73" stroke="#000" stroke-width="1.0" />
<circle cx="338.7" cy="266.98" r="1.15" fill="#000" />
<circle cx="338.7" cy="269.18" r="0.9" fill="#000" />
<rect x="344.41" y="271.33" width="4.8" height="2.27" fill="#E0C08C" stroke="#1A1A1A" stroke-width="0.8" />
<line x1="346.81" y1="270.43" x2="346.81" y2="271.33" stroke="#000" stroke-width="0.9" />
<line x1="344.61" y1="270.43" x2="349.01" y2="270.43" stroke="#000" stroke-width="1.0" />
<circle cx="346.81" cy="271.53" r="1.15" fill="#000" />
<rect x="352.52" y="266.6" width="4.8" height="7" fill="#E0C08C" stroke="#1A1A1A" stroke-width="0.8" />
<line x1="354.92" y1="265.55" x2="354.92" y2="266.6" stroke="#000" stroke-width="0.9" />
<line x1="352.72" y1="265.55" x2="357.12" y2="265.55" stroke="#000" stroke-width="1.0" />
<circle cx="354.92" cy="266.8" r="1.15" fill="#000" />
<circle cx="354.92" cy="269" r="0.9" fill="#000" />
<rect x="360.63" y="271.68" width="4.8" height="1.93" fill="#E0C08C" stroke="#1A1A1A" stroke-width="0.8" />
<line x1="363.03" y1="270.78" x2="363.03" y2="271.68" stroke="#000" stroke-width="0.9" />
<line x1="360.83" y1="270.78" x2="365.23" y2="270.78" stroke="#000" stroke-width="1.0" />
<circle cx="363.03" cy="271.88" r="1.15" fill="#000" />
<line x1="46.6" y1="289.2" x2="46.6" y2="425.25" stroke="#000" stroke-width="0.9" />
<line x1="46.15" y1="424.8" x2="369.5" y2="424.8" stroke="#000" stroke-width="0.9" />
<line x1="43.6" y1="424.8" x2="46.6" y2="424.8" stroke="#000" stroke-width="0.9" />
<text x="41.6" y="428.2" font-size="9.6" text-anchor="end" fill="#222" >0.0</text>
<line x1="43.6" y1="390.9" x2="46.6" y2="390.9" stroke="#000" stroke-width="0.9" />
<text x="41.6" y="394.3" font-size="9.6" text-anchor="end" fill="#222" >0.1</text>
<line x1="43.6" y1="357" x2="46.6" y2="357" stroke="#000" stroke-width="0.9" />
<text x="41.6" y="360.4" font-size="9.6" text-anchor="end" fill="#222" >0.2</text>
<line x1="43.6" y1="323.1" x2="46.6" y2="323.1" stroke="#000" stroke-width="0.9" />
<text x="41.6" y="326.5" font-size="9.6" text-anchor="end" fill="#222" >0.3</text>
<line x1="43.6" y1="289.2" x2="46.6" y2="289.2" stroke="#000" stroke-width="0.9" />
<text x="41.6" y="292.6" font-size="9.6" text-anchor="end" fill="#222" >0.4</text>
<text transform="translate(22.9,357) rotate(-90)" font-size="9.6" text-anchor="middle" fill="#111" >Content of delphinidin (mg/g, DW)</text>
<rect x="52" y="356.66" width="4.2" height="68.14" fill="#8FC5DF" stroke="#1A1A1A" stroke-width="0.8" />
<line x1="54.1" y1="352.93" x2="54.1" y2="356.66" stroke="#000" stroke-width="0.9" />
<line x1="51.9" y1="352.93" x2="56.3" y2="352.93" stroke="#000" stroke-width="1.0" />
<circle cx="54.1" cy="356.96" r="1.15" fill="#000" />
<circle cx="54.1" cy="354.93" r="1.05" fill="#000" />
<circle cx="54.1" cy="366.84" r="1.05" fill="#000" />
<line x1="54.1" y1="424.8" x2="54.1" y2="427.6" stroke="#000" stroke-width="0.8" />
<text transform="translate(56.2,431.6) rotate(-90)" font-size="9.4" text-anchor="end" fill="#111" >CT1</text>
<rect x="60.12" y="360.05" width="4.2" height="64.75" fill="#8FC5DF" stroke="#1A1A1A" stroke-width="0.8" />
<line x1="62.22" y1="352.59" x2="62.22" y2="360.05" stroke="#000" stroke-width="0.9" />
<line x1="60.02" y1="352.59" x2="64.42" y2="352.59" stroke="#000" stroke-width="1.0" />
<circle cx="62.22" cy="360.35" r="1.15" fill="#000" />
<circle cx="62.22" cy="354.59" r="1.05" fill="#000" />
<circle cx="62.22" cy="369.82" r="1.05" fill="#000" />
<line x1="62.22" y1="424.8" x2="62.22" y2="427.6" stroke="#000" stroke-width="0.8" />
<text transform="translate(64.32,431.6) rotate(-90)" font-size="9.4" text-anchor="end" fill="#111" >CT2</text>
<rect x="68.24" y="391.58" width="4.2" height="33.22" fill="#8FC5DF" stroke="#1A1A1A" stroke-width="0.8" />
<line x1="70.34" y1="390.68" x2="70.34" y2="391.58" stroke="#000" stroke-width="0.9" />
<line x1="68.14" y1="390.68" x2="72.54" y2="390.68" stroke="#000" stroke-width="1.0" />
<circle cx="70.34" cy="391.88" r="1.15" fill="#000" />
<line x1="70.34" y1="424.8" x2="70.34" y2="427.6" stroke="#000" stroke-width="0.8" />
<text transform="translate(72.44,431.6) rotate(-90)" font-size="9.4" text-anchor="end" fill="#111" >CT3</text>
<rect x="76.35" y="390.22" width="4.2" height="34.58" fill="#8FC5DF" stroke="#1A1A1A" stroke-width="0.8" />
<line x1="78.45" y1="381.41" x2="78.45" y2="390.22" stroke="#000" stroke-width="0.9" />
<line x1="76.25" y1="381.41" x2="80.65" y2="381.41" stroke="#000" stroke-width="1.0" />
<circle cx="78.45" cy="390.52" r="1.15" fill="#000" />
<circle cx="78.45" cy="383.41" r="1.05" fill="#000" />
<circle cx="78.45" cy="396.37" r="1.05" fill="#000" />
<line x1="78.45" y1="424.8" x2="78.45" y2="427.6" stroke="#000" stroke-width="0.8" />
<text transform="translate(80.55,431.6) rotate(-90)" font-size="9.4" text-anchor="end" fill="#111" >CT4</text>
<rect x="84.47" y="377.68" width="4.2" height="47.12" fill="#8FC5DF" stroke="#1A1A1A" stroke-width="0.8" />
<line x1="86.57" y1="365.48" x2="86.57" y2="377.68" stroke="#000" stroke-width="0.9" />
<line x1="84.37" y1="365.48" x2="88.77" y2="365.48" stroke="#000" stroke-width="1.0" />
<circle cx="86.57" cy="377.98" r="1.15" fill="#000" />
<circle cx="86.57" cy="367.48" r="1.05" fill="#000" />
<circle cx="86.57" cy="385.33" r="1.05" fill="#000" />
<line x1="86.57" y1="424.8" x2="86.57" y2="427.6" stroke="#000" stroke-width="0.8" />
<text transform="translate(88.67,431.6) rotate(-90)" font-size="9.4" text-anchor="end" fill="#111" >CT5</text>
<rect x="92.59" y="350.22" width="4.2" height="74.58" fill="#8FC5DF" stroke="#1A1A1A" stroke-width="0.8" />
<line x1="94.69" y1="339.03" x2="94.69" y2="350.22" stroke="#000" stroke-width="0.9" />
<line x1="92.49" y1="339.03" x2="96.89" y2="339.03" stroke="#000" stroke-width="1.0" />
<circle cx="94.69" cy="350.52" r="1.15" fill="#000" />
<circle cx="94.69" cy="341.03" r="1.05" fill="#000" />
<circle cx="94.69" cy="361.17" r="1.05" fill="#000" />
<line x1="94.69" y1="424.8" x2="94.69" y2="427.6" stroke="#000" stroke-width="0.8" />
<text transform="translate(96.79,431.6) rotate(-90)" font-size="9.4" text-anchor="end" fill="#111" >CT6</text>
<rect x="100.71" y="384.8" width="4.2" height="40" fill="#8FC5DF" stroke="#1A1A1A" stroke-width="0.8" />
<line x1="102.81" y1="383.9" x2="102.81" y2="384.8" stroke="#000" stroke-width="0.9" />
<line x1="100.61" y1="383.9" x2="105.01" y2="383.9" stroke="#000" stroke-width="1.0" />
<circle cx="102.81" cy="385.1" r="1.15" fill="#000" />
<line x1="102.81" y1="424.8" x2="102.81" y2="427.6" stroke="#000" stroke-width="0.8" />
<text transform="translate(104.91,431.6) rotate(-90)" font-size="9.4" text-anchor="end" fill="#111" >CT7</text>
<rect x="108.83" y="311.91" width="4.2" height="112.89" fill="#8FC5DF" stroke="#1A1A1A" stroke-width="0.8" />
<line x1="110.93" y1="301.4" x2="110.93" y2="311.91" stroke="#000" stroke-width="0.9" />
<line x1="108.73" y1="301.4" x2="113.13" y2="301.4" stroke="#000" stroke-width="1.0" />
<circle cx="110.93" cy="312.21" r="1.15" fill="#000" />
<circle cx="110.93" cy="303.4" r="1.05" fill="#000" />
<circle cx="110.93" cy="327.46" r="1.05" fill="#000" />
<line x1="110.93" y1="424.8" x2="110.93" y2="427.6" stroke="#000" stroke-width="0.8" />
<text transform="translate(113.03,431.6) rotate(-90)" font-size="9.4" text-anchor="end" fill="#111" >CT8</text>
<rect x="116.94" y="353.95" width="4.2" height="70.85" fill="#8FC5DF" stroke="#1A1A1A" stroke-width="0.8" />
<line x1="119.04" y1="341.41" x2="119.04" y2="353.95" stroke="#000" stroke-width="0.9" />
<line x1="116.84" y1="341.41" x2="121.24" y2="341.41" stroke="#000" stroke-width="1.0" />
<circle cx="119.04" cy="354.25" r="1.15" fill="#000" />
<circle cx="119.04" cy="343.41" r="1.05" fill="#000" />
<circle cx="119.04" cy="364.45" r="1.05" fill="#000" />
<line x1="119.04" y1="424.8" x2="119.04" y2="427.6" stroke="#000" stroke-width="0.8" />
<text transform="translate(121.14,431.6) rotate(-90)" font-size="9.4" text-anchor="end" fill="#111" >CT9</text>
<rect x="125.06" y="358.02" width="4.2" height="66.78" fill="#8FC5DF" stroke="#1A1A1A" stroke-width="0.8" />
<line x1="127.16" y1="347.17" x2="127.16" y2="358.02" stroke="#000" stroke-width="0.9" />
<line x1="124.96" y1="347.17" x2="129.36" y2="347.17" stroke="#000" stroke-width="1.0" />
<circle cx="127.16" cy="358.32" r="1.15" fill="#000" />
<circle cx="127.16" cy="349.17" r="1.05" fill="#000" />
<circle cx="127.16" cy="368.03" r="1.05" fill="#000" />
<line x1="127.16" y1="424.8" x2="127.16" y2="427.6" stroke="#000" stroke-width="0.8" />
<text transform="translate(129.26,431.6) rotate(-90)" font-size="9.4" text-anchor="end" fill="#111" >CT10</text>
<rect x="133.18" y="313.95" width="4.2" height="110.85" fill="#8FC5DF" stroke="#1A1A1A" stroke-width="0.8" />
<line x1="135.28" y1="307.51" x2="135.28" y2="313.95" stroke="#000" stroke-width="0.9" />
<line x1="133.08" y1="307.51" x2="137.48" y2="307.51" stroke="#000" stroke-width="1.0" />
<circle cx="135.28" cy="314.25" r="1.15" fill="#000" />
<circle cx="135.28" cy="309.51" r="1.05" fill="#000" />
<circle cx="135.28" cy="329.25" r="1.05" fill="#000" />
<line x1="135.28" y1="424.8" x2="135.28" y2="427.6" stroke="#000" stroke-width="0.8" />
<text transform="translate(137.38,431.6) rotate(-90)" font-size="9.4" text-anchor="end" fill="#111" >CT11</text>
<rect x="141.3" y="406.16" width="4.2" height="18.64" fill="#86BE98" stroke="#1A1A1A" stroke-width="0.8" />
<line x1="143.4" y1="403.44" x2="143.4" y2="406.16" stroke="#000" stroke-width="0.9" />
<line x1="141.2" y1="403.44" x2="145.6" y2="403.44" stroke="#000" stroke-width="1.0" />
<circle cx="143.4" cy="406.46" r="1.15" fill="#000" />
<line x1="143.4" y1="424.8" x2="143.4" y2="427.6" stroke="#000" stroke-width="0.8" />
<text transform="translate(145.5,431.6) rotate(-90)" font-size="9.4" text-anchor="end" fill="#111" >YK10</text>
<rect x="149.42" y="411.92" width="4.2" height="12.88" fill="#86BE98" stroke="#1A1A1A" stroke-width="0.8" />
<line x1="151.52" y1="411.02" x2="151.52" y2="411.92" stroke="#000" stroke-width="0.9" />
<line x1="149.32" y1="411.02" x2="153.72" y2="411.02" stroke="#000" stroke-width="1.0" />
<circle cx="151.52" cy="412.22" r="1.15" fill="#000" />
<line x1="151.52" y1="424.8" x2="151.52" y2="427.6" stroke="#000" stroke-width="0.8" />
<text transform="translate(153.62,431.6) rotate(-90)" font-size="9.4" text-anchor="end" fill="#111" >YK14</text>
<rect x="157.53" y="411.24" width="4.2" height="13.56" fill="#86BE98" stroke="#1A1A1A" stroke-width="0.8" />
<line x1="159.63" y1="410.34" x2="159.63" y2="411.24" stroke="#000" stroke-width="0.9" />
<line x1="157.43" y1="410.34" x2="161.83" y2="410.34" stroke="#000" stroke-width="1.0" />
<circle cx="159.63" cy="411.54" r="1.15" fill="#000" />
<line x1="159.63" y1="424.8" x2="159.63" y2="427.6" stroke="#000" stroke-width="0.8" />
<text transform="translate(161.73,431.6) rotate(-90)" font-size="9.4" text-anchor="end" fill="#111" >YK20</text>
<rect x="165.65" y="377.68" width="4.2" height="47.12" fill="#86BE98" stroke="#1A1A1A" stroke-width="0.8" />
<line x1="167.75" y1="376.78" x2="167.75" y2="377.68" stroke="#000" stroke-width="0.9" />
<line x1="165.55" y1="376.78" x2="169.95" y2="376.78" stroke="#000" stroke-width="1.0" />
<circle cx="167.75" cy="377.98" r="1.15" fill="#000" />
<line x1="167.75" y1="424.8" x2="167.75" y2="427.6" stroke="#000" stroke-width="0.8" />
<text transform="translate(169.85,431.6) rotate(-90)" font-size="9.4" text-anchor="end" fill="#111" >YK21</text>
<rect x="173.77" y="412.94" width="4.2" height="11.87" fill="#86BE98" stroke="#1A1A1A" stroke-width="0.8" />
<line x1="175.87" y1="412.04" x2="175.87" y2="412.94" stroke="#000" stroke-width="0.9" />
<line x1="173.67" y1="412.04" x2="178.07" y2="412.04" stroke="#000" stroke-width="1.0" />
<circle cx="175.87" cy="413.24" r="1.15" fill="#000" />
<line x1="175.87" y1="424.8" x2="175.87" y2="427.6" stroke="#000" stroke-width="0.8" />
<text transform="translate(177.97,431.6) rotate(-90)" font-size="9.4" text-anchor="end" fill="#111" >YK29</text>
<rect x="181.89" y="414.63" width="4.2" height="10.17" fill="#86BE98" stroke="#1A1A1A" stroke-width="0.8" />
<line x1="183.99" y1="413.73" x2="183.99" y2="414.63" stroke="#000" stroke-width="0.9" />
<line x1="181.79" y1="413.73" x2="186.19" y2="413.73" stroke="#000" stroke-width="1.0" />
<circle cx="183.99" cy="414.93" r="1.15" fill="#000" />
<line x1="183.99" y1="424.8" x2="183.99" y2="427.6" stroke="#000" stroke-width="0.8" />
<text transform="translate(186.09,431.6) rotate(-90)" font-size="9.4" text-anchor="end" fill="#111" >YX1</text>
<rect x="190.01" y="411.58" width="4.2" height="13.22" fill="#86BE98" stroke="#1A1A1A" stroke-width="0.8" />
<line x1="192.11" y1="410.68" x2="192.11" y2="411.58" stroke="#000" stroke-width="0.9" />
<line x1="189.91" y1="410.68" x2="194.31" y2="410.68" stroke="#000" stroke-width="1.0" />
<circle cx="192.11" cy="411.88" r="1.15" fill="#000" />
<line x1="192.11" y1="424.8" x2="192.11" y2="427.6" stroke="#000" stroke-width="0.8" />
<text transform="translate(194.21,431.6) rotate(-90)" font-size="9.4" text-anchor="end" fill="#111" >YK15</text>
<rect x="198.12" y="404.46" width="4.2" height="20.34" fill="#86BE98" stroke="#1A1A1A" stroke-width="0.8" />
<line x1="200.22" y1="400.73" x2="200.22" y2="404.46" stroke="#000" stroke-width="0.9" />
<line x1="198.02" y1="400.73" x2="202.42" y2="400.73" stroke="#000" stroke-width="1.0" />
<circle cx="200.22" cy="404.76" r="1.15" fill="#000" />
<circle cx="200.22" cy="402.73" r="1.05" fill="#000" />
<circle cx="200.22" cy="408.9" r="1.05" fill="#000" />
<line x1="200.22" y1="424.8" x2="200.22" y2="427.6" stroke="#000" stroke-width="0.8" />
<text transform="translate(202.32,431.6) rotate(-90)" font-size="9.4" text-anchor="end" fill="#111" >QS3</text>
<rect x="206.24" y="410.22" width="4.2" height="14.58" fill="#86BE98" stroke="#1A1A1A" stroke-width="0.8" />
<line x1="208.34" y1="409.32" x2="208.34" y2="410.22" stroke="#000" stroke-width="0.9" />
<line x1="206.14" y1="409.32" x2="210.54" y2="409.32" stroke="#000" stroke-width="1.0" />
<circle cx="208.34" cy="410.52" r="1.15" fill="#000" />
<line x1="208.34" y1="424.8" x2="208.34" y2="427.6" stroke="#000" stroke-width="0.8" />
<text transform="translate(210.44,431.6) rotate(-90)" font-size="9.4" text-anchor="end" fill="#111" >QS4</text>
<rect x="214.36" y="405.14" width="4.2" height="19.66" fill="#86BE98" stroke="#1A1A1A" stroke-width="0.8" />
<line x1="216.46" y1="404.24" x2="216.46" y2="405.14" stroke="#000" stroke-width="0.9" />
<line x1="214.26" y1="404.24" x2="218.66" y2="404.24" stroke="#000" stroke-width="1.0" />
<circle cx="216.46" cy="405.44" r="1.15" fill="#000" />
<line x1="216.46" y1="424.8" x2="216.46" y2="427.6" stroke="#000" stroke-width="0.8" />
<text transform="translate(218.56,431.6) rotate(-90)" font-size="9.4" text-anchor="end" fill="#111" >054</text>
<rect x="222.48" y="412.6" width="4.2" height="12.2" fill="#86BE98" stroke="#1A1A1A" stroke-width="0.8" />
<line x1="224.58" y1="411.7" x2="224.58" y2="412.6" stroke="#000" stroke-width="0.9" />
<line x1="222.38" y1="411.7" x2="226.78" y2="411.7" stroke="#000" stroke-width="1.0" />
<circle cx="224.58" cy="412.9" r="1.15" fill="#000" />
<line x1="224.58" y1="424.8" x2="224.58" y2="427.6" stroke="#000" stroke-width="0.8" />
<text transform="translate(226.68,431.6) rotate(-90)" font-size="9.4" text-anchor="end" fill="#111" >YM</text>
<rect x="230.6" y="400.39" width="4.2" height="24.41" fill="#86BE98" stroke="#1A1A1A" stroke-width="0.8" />
<line x1="232.7" y1="397" x2="232.7" y2="400.39" stroke="#000" stroke-width="0.9" />
<line x1="230.5" y1="397" x2="234.9" y2="397" stroke="#000" stroke-width="1.0" />
<circle cx="232.7" cy="400.69" r="1.15" fill="#000" />
<circle cx="232.7" cy="399" r="1.05" fill="#000" />
<circle cx="232.7" cy="405.32" r="1.05" fill="#000" />
<line x1="232.7" y1="424.8" x2="232.7" y2="427.6" stroke="#000" stroke-width="0.8" />
<text transform="translate(234.8,431.6) rotate(-90)" font-size="9.4" text-anchor="end" fill="#111" >YG</text>
<rect x="238.71" y="396.32" width="4.2" height="28.48" fill="#86BE98" stroke="#1A1A1A" stroke-width="0.8" />
<line x1="240.81" y1="395.42" x2="240.81" y2="396.32" stroke="#000" stroke-width="0.9" />
<line x1="238.61" y1="395.42" x2="243.01" y2="395.42" stroke="#000" stroke-width="1.0" />
<circle cx="240.81" cy="396.62" r="1.15" fill="#000" />
<line x1="240.81" y1="424.8" x2="240.81" y2="427.6" stroke="#000" stroke-width="0.8" />
<text transform="translate(242.91,431.6) rotate(-90)" font-size="9.4" text-anchor="end" fill="#111" >AF</text>
<rect x="246.83" y="376.66" width="4.2" height="48.14" fill="#86BE98" stroke="#1A1A1A" stroke-width="0.8" />
<line x1="248.93" y1="370.22" x2="248.93" y2="376.66" stroke="#000" stroke-width="0.9" />
<line x1="246.73" y1="370.22" x2="251.13" y2="370.22" stroke="#000" stroke-width="1.0" />
<circle cx="248.93" cy="376.96" r="1.15" fill="#000" />
<circle cx="248.93" cy="372.22" r="1.05" fill="#000" />
<circle cx="248.93" cy="384.44" r="1.05" fill="#000" />
<line x1="248.93" y1="424.8" x2="248.93" y2="427.6" stroke="#000" stroke-width="0.8" />
<text transform="translate(251.03,431.6) rotate(-90)" font-size="9.4" text-anchor="end" fill="#111" >XY100</text>
<rect x="254.95" y="386.49" width="4.2" height="38.31" fill="#86BE98" stroke="#1A1A1A" stroke-width="0.8" />
<line x1="257.05" y1="381.75" x2="257.05" y2="386.49" stroke="#000" stroke-width="0.9" />
<line x1="254.85" y1="381.75" x2="259.25" y2="381.75" stroke="#000" stroke-width="1.0" />
<circle cx="257.05" cy="386.79" r="1.15" fill="#000" />
<circle cx="257.05" cy="383.75" r="1.05" fill="#000" />
<circle cx="257.05" cy="393.09" r="1.05" fill="#000" />
<line x1="257.05" y1="424.8" x2="257.05" y2="427.6" stroke="#000" stroke-width="0.8" />
<text transform="translate(259.15,431.6) rotate(-90)" font-size="9.4" text-anchor="end" fill="#111" >TXY</text>
<rect x="263.07" y="399.04" width="4.2" height="25.76" fill="#86BE98" stroke="#1A1A1A" stroke-width="0.8" />
<line x1="265.17" y1="398.14" x2="265.17" y2="399.04" stroke="#000" stroke-width="0.9" />
<line x1="262.97" y1="398.14" x2="267.37" y2="398.14" stroke="#000" stroke-width="1.0" />
<circle cx="265.17" cy="399.34" r="1.15" fill="#000" />
<line x1="265.17" y1="424.8" x2="265.17" y2="427.6" stroke="#000" stroke-width="0.8" />
<text transform="translate(267.27,431.6) rotate(-90)" font-size="9.4" text-anchor="end" fill="#111" >PJ1</text>
<rect x="271.19" y="397.68" width="4.2" height="27.12" fill="#E0C08C" stroke="#1A1A1A" stroke-width="0.8" />
<line x1="273.29" y1="395.65" x2="273.29" y2="397.68" stroke="#000" stroke-width="0.9" />
<line x1="271.09" y1="395.65" x2="275.49" y2="395.65" stroke="#000" stroke-width="1.0" />
<circle cx="273.29" cy="397.98" r="1.15" fill="#000" />
<line x1="273.29" y1="424.8" x2="273.29" y2="427.6" stroke="#000" stroke-width="0.8" />
<text transform="translate(275.39,431.6) rotate(-90)" font-size="9.4" text-anchor="end" fill="#111" >XBL</text>
<rect x="279.3" y="400.39" width="4.2" height="24.41" fill="#E0C08C" stroke="#1A1A1A" stroke-width="0.8" />
<line x1="281.4" y1="399.49" x2="281.4" y2="400.39" stroke="#000" stroke-width="0.9" />
<line x1="279.2" y1="399.49" x2="283.6" y2="399.49" stroke="#000" stroke-width="1.0" />
<circle cx="281.4" cy="400.69" r="1.15" fill="#000" />
<line x1="281.4" y1="424.8" x2="281.4" y2="427.6" stroke="#000" stroke-width="0.8" />
<text transform="translate(283.5,431.6) rotate(-90)" font-size="9.4" text-anchor="end" fill="#111" >JX</text>
<rect x="287.42" y="389.21" width="4.2" height="35.59" fill="#E0C08C" stroke="#1A1A1A" stroke-width="0.8" />
<line x1="289.52" y1="388.31" x2="289.52" y2="389.21" stroke="#000" stroke-width="0.9" />
<line x1="287.32" y1="388.31" x2="291.72" y2="388.31" stroke="#000" stroke-width="1.0" />
<circle cx="289.52" cy="389.51" r="1.15" fill="#000" />
<line x1="289.52" y1="424.8" x2="289.52" y2="427.6" stroke="#000" stroke-width="0.8" />
<text transform="translate(291.62,431.6) rotate(-90)" font-size="9.4" text-anchor="end" fill="#111" >ZYQ</text>
<rect x="295.54" y="399.38" width="4.2" height="25.43" fill="#E0C08C" stroke="#1A1A1A" stroke-width="0.8" />
<line x1="297.64" y1="398.48" x2="297.64" y2="399.38" stroke="#000" stroke-width="0.9" />
<line x1="295.44" y1="398.48" x2="299.84" y2="398.48" stroke="#000" stroke-width="1.0" />
<circle cx="297.64" cy="399.68" r="1.15" fill="#000" />
<line x1="297.64" y1="424.8" x2="297.64" y2="427.6" stroke="#000" stroke-width="0.8" />
<text transform="translate(299.74,431.6) rotate(-90)" font-size="9.4" text-anchor="end" fill="#111" >BY</text>
<rect x="303.66" y="406.16" width="4.2" height="18.64" fill="#E0C08C" stroke="#1A1A1A" stroke-width="0.8" />
<line x1="305.76" y1="405.26" x2="305.76" y2="406.16" stroke="#000" stroke-width="0.9" />
<line x1="303.56" y1="405.26" x2="307.96" y2="405.26" stroke="#000" stroke-width="1.0" />
<circle cx="305.76" cy="406.46" r="1.15" fill="#000" />
<line x1="305.76" y1="424.8" x2="305.76" y2="427.6" stroke="#000" stroke-width="0.8" />
<text transform="translate(307.86,431.6) rotate(-90)" font-size="9.4" text-anchor="end" fill="#111" >ZN139</text>
<rect x="311.78" y="408.87" width="4.2" height="15.93" fill="#E0C08C" stroke="#1A1A1A" stroke-width="0.8" />
<line x1="313.88" y1="406.83" x2="313.88" y2="408.87" stroke="#000" stroke-width="0.9" />
<line x1="311.68" y1="406.83" x2="316.08" y2="406.83" stroke="#000" stroke-width="1.0" />
<circle cx="313.88" cy="409.17" r="1.15" fill="#000" />
<line x1="313.88" y1="424.8" x2="313.88" y2="427.6" stroke="#000" stroke-width="0.8" />
<text transform="translate(315.98,431.6) rotate(-90)" font-size="9.4" text-anchor="end" fill="#111" >ZHDB</text>
<rect x="319.89" y="405.14" width="4.2" height="19.66" fill="#E0C08C" stroke="#1A1A1A" stroke-width="0.8" />
<line x1="321.99" y1="404.24" x2="321.99" y2="405.14" stroke="#000" stroke-width="0.9" />
<line x1="319.79" y1="404.24" x2="324.19" y2="404.24" stroke="#000" stroke-width="1.0" />
<circle cx="321.99" cy="405.44" r="1.15" fill="#000" />
<line x1="321.99" y1="424.8" x2="321.99" y2="427.6" stroke="#000" stroke-width="0.8" />
<text transform="translate(324.09,431.6) rotate(-90)" font-size="9.4" text-anchor="end" fill="#111" >WNZ</text>
<rect x="328.01" y="407.17" width="4.2" height="17.63" fill="#E0C08C" stroke="#1A1A1A" stroke-width="0.8" />
<line x1="330.11" y1="406.27" x2="330.11" y2="407.17" stroke="#000" stroke-width="0.9" />
<line x1="327.91" y1="406.27" x2="332.31" y2="406.27" stroke="#000" stroke-width="1.0" />
<circle cx="330.11" cy="407.47" r="1.15" fill="#000" />
<line x1="330.11" y1="424.8" x2="330.11" y2="427.6" stroke="#000" stroke-width="0.8" />
<text transform="translate(332.21,431.6) rotate(-90)" font-size="9.4" text-anchor="end" fill="#111" >HD</text>
<rect x="336.13" y="400.39" width="4.2" height="24.41" fill="#E0C08C" stroke="#1A1A1A" stroke-width="0.8" />
<line x1="338.23" y1="399.49" x2="338.23" y2="400.39" stroke="#000" stroke-width="0.9" />
<line x1="336.03" y1="399.49" x2="340.43" y2="399.49" stroke="#000" stroke-width="1.0" />
<circle cx="338.23" cy="400.69" r="1.15" fill="#000" />
<line x1="338.23" y1="424.8" x2="338.23" y2="427.6" stroke="#000" stroke-width="0.8" />
<text transform="translate(340.33,431.6) rotate(-90)" font-size="9.4" text-anchor="end" fill="#111" >BHZ</text>
<rect x="344.25" y="410.9" width="4.2" height="13.9" fill="#E0C08C" stroke="#1A1A1A" stroke-width="0.8" />
<line x1="346.35" y1="410" x2="346.35" y2="410.9" stroke="#000" stroke-width="0.9" />
<line x1="344.15" y1="410" x2="348.55" y2="410" stroke="#000" stroke-width="1.0" />
<circle cx="346.35" cy="411.2" r="1.15" fill="#000" />
<line x1="346.35" y1="424.8" x2="346.35" y2="427.6" stroke="#000" stroke-width="0.8" />
<text transform="translate(348.45,431.6) rotate(-90)" font-size="9.4" text-anchor="end" fill="#111" >SCZ</text>
<rect x="352.37" y="407.51" width="4.2" height="17.29" fill="#E0C08C" stroke="#1A1A1A" stroke-width="0.8" />
<line x1="354.47" y1="406.61" x2="354.47" y2="407.51" stroke="#000" stroke-width="0.9" />
<line x1="352.27" y1="406.61" x2="356.67" y2="406.61" stroke="#000" stroke-width="1.0" />
<circle cx="354.47" cy="407.81" r="1.15" fill="#000" />
<line x1="354.47" y1="424.8" x2="354.47" y2="427.6" stroke="#000" stroke-width="0.8" />
<text transform="translate(356.57,431.6) rotate(-90)" font-size="9.4" text-anchor="end" fill="#111" >LJ43</text>
<rect x="360.48" y="407.17" width="4.2" height="17.63" fill="#E0C08C" stroke="#1A1A1A" stroke-width="0.8" />
<line x1="362.58" y1="406.27" x2="362.58" y2="407.17" stroke="#000" stroke-width="0.9" />
<line x1="360.38" y1="406.27" x2="364.78" y2="406.27" stroke="#000" stroke-width="1.0" />
<circle cx="362.58" cy="407.47" r="1.15" fill="#000" />
<line x1="362.58" y1="424.8" x2="362.58" y2="427.6" stroke="#000" stroke-width="0.8" />
<text transform="translate(364.68,431.6) rotate(-90)" font-size="9.4" text-anchor="end" fill="#111" >RZWL</text>
<line x1="388.8" y1="43.65" x2="388.8" y2="170.85" stroke="#000" stroke-width="0.9" />
<line x1="388.35" y1="170.4" x2="514.2" y2="170.4" stroke="#000" stroke-width="0.9" />
<line x1="385.8" y1="43.65" x2="388.8" y2="43.65" stroke="#000" stroke-width="0.9" />
<text x="384.6" y="47.15" font-size="9.9" text-anchor="end" fill="#222" >6</text>
<line x1="385.8" y1="75.4" x2="388.8" y2="75.4" stroke="#000" stroke-width="0.9" />
<text x="384.6" y="78.9" font-size="9.9" text-anchor="end" fill="#222" >4</text>
<line x1="385.8" y1="107.15" x2="388.8" y2="107.15" stroke="#000" stroke-width="0.9" />
<text x="384.6" y="110.65" font-size="9.9" text-anchor="end" fill="#222" >2</text>
<line x1="385.8" y1="138.9" x2="388.8" y2="138.9" stroke="#000" stroke-width="0.9" />
<text x="384.6" y="142.4" font-size="9.9" text-anchor="end" fill="#222" >0</text>
<line x1="385.8" y1="170.65" x2="388.8" y2="170.65" stroke="#000" stroke-width="0.9" />
<text x="384.6" y="174.15" font-size="9.9" text-anchor="end" fill="#222" >-2</text>
<line x1="413.3" y1="170.4" x2="413.3" y2="174.7" stroke="#000" stroke-width="0.9" />
<text x="413.7" y="184.8" font-size="10.5" text-anchor="middle" fill="#222" >CT</text>
<line x1="451.1" y1="170.4" x2="451.1" y2="174.7" stroke="#000" stroke-width="0.9" />
<text x="451.5" y="184.8" font-size="10.5" text-anchor="middle" fill="#222" >CSA</text>
<line x1="488.3" y1="170.4" x2="488.3" y2="174.7" stroke="#000" stroke-width="0.9" />
<text x="488.7" y="184.8" font-size="10.5" text-anchor="middle" fill="#222" >CSS</text>
<text transform="translate(373.3,108.2) rotate(-90)" font-size="9.4" text-anchor="middle" fill="#111">Relative expression of <tspan font-style="italic">ANS3</tspan></text>
<line x1="413.4" y1="67.4" x2="413.4" y2="159.6" stroke="#000" stroke-width="0.8" />
<polygon points="413.4,72 413.43,72.21 413.46,72.47 413.49,72.78 413.53,73.12 413.57,73.5 413.63,73.9 413.7,74.3 413.78,74.71 413.88,75.11 414,75.5 414.11,75.81 414.22,76.1 414.33,76.39 414.45,76.67 414.58,76.96 414.72,77.26 414.88,77.57 415.05,77.9 415.25,78.26 415.47,78.64 415.72,79.05 416,79.5 416.18,79.78 416.37,80.07 416.58,80.38 416.8,80.71 417.03,81.04 417.27,81.39 417.52,81.74 417.78,82.1 418.04,82.47 418.31,82.84 418.58,83.22 418.85,83.6 419.12,83.97 419.39,84.35 419.65,84.72 419.92,85.09 420.17,85.45 420.42,85.8 420.66,86.15 420.88,86.48 421.1,86.8 421.36,87.19 421.62,87.57 421.87,87.95 422.13,88.32 422.38,88.69 422.63,89.06 422.87,89.42 423.1,89.77 423.33,90.12 423.55,90.47 423.76,90.81 423.97,91.14 424.16,91.47 424.34,91.78 424.51,92.1 424.66,92.4 424.8,92.7 424.98,93.1 425.14,93.46 425.27,93.8 425.39,94.12 425.49,94.43 425.57,94.73 425.63,95.03 425.66,95.34 425.68,95.67 425.67,96.02 425.65,96.39 425.6,96.8 425.55,97.09 425.5,97.4 425.42,97.72 425.34,98.06 425.25,98.4 425.14,98.75 425.03,99.1 424.91,99.47 424.78,99.83 424.65,100.2 424.5,100.56 424.36,100.93 424.2,101.29 424.05,101.65 423.89,102 423.73,102.34 423.56,102.68 423.4,103 423.19,103.37 422.97,103.73 422.73,104.08 422.48,104.42 422.23,104.76 421.96,105.08 421.69,105.41 421.42,105.74 421.15,106.07 420.89,106.4 420.63,106.74 420.37,107.09 420.13,107.44 419.91,107.81 419.7,108.2 419.54,108.51 419.39,108.83 419.25,109.16 419.11,109.48 418.97,109.82 418.84,110.15 418.71,110.49 418.59,110.84 418.47,111.19 418.35,111.54 418.23,111.89 418.12,112.25 418.01,112.61 417.91,112.97 417.8,113.33 417.7,113.7 417.6,114.06 417.5,114.43 417.4,114.8 417.31,115.12 417.22,115.45 417.12,115.78 417.01,116.12 416.91,116.46 416.8,116.8 416.69,117.15 416.58,117.5 416.48,117.85 416.38,118.2 416.28,118.55 416.19,118.9 416.11,119.25 416.04,119.59 415.99,119.94 415.94,120.28 415.91,120.61 415.89,120.94 415.89,121.27 415.91,121.58 415.94,121.9 416,122.2 416.11,122.58 416.26,122.95 416.45,123.31 416.67,123.66 416.91,124 417.18,124.33 417.47,124.66 417.77,124.98 418.08,125.31 418.4,125.63 418.72,125.95 419.03,126.28 419.34,126.61 419.63,126.94 419.91,127.29 420.17,127.64 420.4,128 420.59,128.31 420.78,128.63 420.98,128.96 421.17,129.28 421.37,129.61 421.57,129.95 421.76,130.28 421.96,130.62 422.14,130.96 422.32,131.3 422.49,131.64 422.65,131.98 422.8,132.33 422.93,132.67 423.06,133.01 423.16,133.35 423.25,133.69 423.32,134.03 423.37,134.37 423.4,134.7 423.41,135.05 423.39,135.4 423.36,135.76 423.3,136.11 423.23,136.46 423.14,136.82 423.03,137.17 422.91,137.52 422.78,137.87 422.64,138.23 422.49,138.58 422.33,138.92 422.16,139.27 421.99,139.62 421.81,139.96 421.64,140.3 421.46,140.64 421.28,140.97 421.1,141.3 420.89,141.67 420.67,142.04 420.43,142.4 420.17,142.77 419.91,143.14 419.63,143.5 419.35,143.86 419.07,144.22 418.78,144.57 418.5,144.92 418.21,145.26 417.93,145.6 417.66,145.94 417.4,146.26 417.15,146.58 416.92,146.9 416.7,147.2 416.41,147.62 416.13,148.04 415.86,148.44 415.6,148.84 415.35,149.22 415.11,149.59 414.89,149.95 414.68,150.3 414.49,150.62 414.31,150.93 414.15,151.23 414,151.5 413.77,151.99 413.62,152.41 413.53,152.77 413.48,153.07 413.44,153.31 413.4,153.5 413.4,153.5 413.36,153.31 413.32,153.07 413.27,152.77 413.18,152.41 413.03,151.99 412.8,151.5 412.65,151.23 412.49,150.93 412.31,150.62 412.12,150.3 411.91,149.95 411.69,149.59 411.45,149.22 411.2,148.84 410.94,148.44 410.67,148.04 410.39,147.62 410.1,147.2 409.88,146.9 409.65,146.58 409.4,146.26 409.14,145.94 408.87,145.6 408.59,145.26 408.3,144.92 408.02,144.57 407.73,144.22 407.45,143.86 407.17,143.5 406.89,143.14 406.63,142.77 406.37,142.4 406.13,142.04 405.91,141.67 405.7,141.3 405.52,140.97 405.34,140.64 405.16,140.3 404.99,139.96 404.81,139.62 404.64,139.27 404.47,138.92 404.31,138.58 404.16,138.23 404.02,137.87 403.89,137.52 403.77,137.17 403.66,136.82 403.57,136.46 403.5,136.11 403.44,135.76 403.41,135.4 403.39,135.05 403.4,134.7 403.43,134.37 403.48,134.03 403.55,133.69 403.64,133.35 403.74,133.01 403.87,132.67 404,132.33 404.15,131.98 404.31,131.64 404.48,131.3 404.66,130.96 404.84,130.62 405.04,130.28 405.23,129.95 405.43,129.61 405.63,129.28 405.82,128.96 406.02,128.63 406.21,128.31 406.4,128 406.63,127.64 406.89,127.29 407.17,126.94 407.46,126.61 407.77,126.28 408.08,125.95 408.4,125.63 408.72,125.31 409.03,124.98 409.33,124.66 409.62,124.33 409.89,124 410.13,123.66 410.35,123.31 410.54,122.95 410.69,122.58 410.8,122.2 410.86,121.9 410.89,121.58 410.91,121.27 410.91,120.94 410.89,120.61 410.86,120.28 410.81,119.94 410.76,119.59 410.69,119.25 410.61,118.9 410.52,118.55 410.42,118.2 410.32,117.85 410.22,117.5 410.11,117.15 410,116.8 409.89,116.46 409.79,116.12 409.68,115.78 409.58,115.45 409.49,115.12 409.4,114.8 409.3,114.43 409.2,114.06 409.1,113.7 409,113.33 408.89,112.97 408.79,112.61 408.68,112.25 408.57,111.89 408.45,111.54 408.33,111.19 408.21,110.84 408.09,110.49 407.96,110.15 407.83,109.82 407.69,109.48 407.55,109.16 407.41,108.83 407.26,108.51 407.1,108.2 406.89,107.81 406.67,107.44 406.43,107.09 406.17,106.74 405.91,106.4 405.65,106.07 405.38,105.74 405.11,105.41 404.84,105.08 404.57,104.76 404.32,104.42 404.07,104.08 403.83,103.73 403.61,103.37 403.4,103 403.24,102.68 403.07,102.34 402.91,102 402.75,101.65 402.6,101.29 402.44,100.93 402.3,100.56 402.15,100.2 402.02,99.83 401.89,99.47 401.77,99.1 401.66,98.75 401.55,98.4 401.46,98.06 401.38,97.72 401.3,97.4 401.25,97.09 401.2,96.8 401.15,96.39 401.13,96.02 401.12,95.67 401.14,95.34 401.17,95.03 401.23,94.73 401.31,94.43 401.41,94.12 401.53,93.8 401.66,93.46 401.82,93.1 402,92.7 402.14,92.4 402.29,92.1 402.46,91.78 402.64,91.47 402.83,91.14 403.04,90.81 403.25,90.47 403.47,90.12 403.7,89.77 403.93,89.42 404.17,89.06 404.42,88.69 404.67,88.32 404.93,87.95 405.18,87.57 405.44,87.19 405.7,86.8 405.92,86.48 406.14,86.15 406.38,85.8 406.63,85.45 406.88,85.09 407.15,84.72 407.41,84.35 407.68,83.97 407.95,83.6 408.22,83.22 408.49,82.84 408.76,82.47 409.02,82.1 409.28,81.74 409.53,81.39 409.77,81.04 410,80.71 410.22,80.38 410.43,80.07 410.62,79.78 410.8,79.5 411.08,79.05 411.33,78.64 411.55,78.26 411.75,77.9 411.92,77.57 412.08,77.26 412.22,76.96 412.35,76.67 412.47,76.39 412.58,76.1 412.69,75.81 412.8,75.5 412.92,75.11 413.02,74.71 413.1,74.3 413.17,73.9 413.22,73.5 413.27,73.12 413.31,72.78 413.34,72.47 413.37,72.21 413.4,72" fill="#8FC5DF" stroke="#222" stroke-width="0.8" stroke-linejoin="round"/>
<line x1="401.4" y1="96.8" x2="425.4" y2="96.8" stroke="#111" stroke-width="0.9" stroke-dasharray="1.3,0.9"/>
<line x1="407.1" y1="108.2" x2="419.7" y2="108.2" stroke="#444" stroke-width="1.0" />
<line x1="403.7" y1="135.3" x2="423.1" y2="135.3" stroke="#111" stroke-width="0.9" stroke-dasharray="1.3,0.9"/>
<line x1="438.7" y1="138.5" x2="463.4" y2="138.5" stroke="#111" stroke-width="1.1" />
<ellipse cx="451.1" cy="137.9" rx="1.6" ry="0.9" fill="#111"/>
<line x1="476.9" y1="138.6" x2="500.6" y2="138.6" stroke="#111" stroke-width="1.0" />
<polyline points="413.4,46.8 413.4,29.7 488.5,29.7 488.5,46.8" fill="none" stroke="#222" stroke-width="0.9"/>
<polyline points="413.4,60.3 413.4,53.8 448.6,53.8 448.6,129.5" fill="none" stroke="#222" stroke-width="0.9"/>
<polyline points="453.4,129.5 453.4,53.8 488.4,53.8 488.4,131" fill="none" stroke="#222" stroke-width="0.9"/>
<text x="420.2" y="24.4" font-size="9.5" fill="#111"><tspan font-style="italic">P</tspan> = 9.61 x 10<tspan dy="-3.2" font-size="6.5">-5</tspan></text>
<text transform="translate(437.2,120.7) rotate(-90)" font-size="9.5" fill="#111"><tspan font-style="italic">P</tspan> = 1.01 x 10<tspan dy="-3.2" font-size="6.5">-5</tspan></text>
<text transform="translate(483.5,96.8) rotate(-90)" font-size="9.5" fill="#111"><tspan font-style="italic">P</tspan> = 0.06</text>
<line x1="561.7" y1="43.5" x2="561.7" y2="170.95" stroke="#000" stroke-width="0.9" />
<line x1="561.25" y1="170.5" x2="685" y2="170.5" stroke="#000" stroke-width="0.9" />
<line x1="558.7" y1="43.5" x2="561.7" y2="43.5" stroke="#000" stroke-width="0.9" />
<text x="558.3" y="47" font-size="9.9" text-anchor="end" fill="#222" >0.5</text>
<line x1="558.7" y1="64.7" x2="561.7" y2="64.7" stroke="#000" stroke-width="0.9" />
<text x="558.3" y="68.2" font-size="9.9" text-anchor="end" fill="#222" >0.4</text>
<line x1="558.7" y1="85.9" x2="561.7" y2="85.9" stroke="#000" stroke-width="0.9" />
<text x="558.3" y="89.4" font-size="9.9" text-anchor="end" fill="#222" >0.3</text>
<line x1="558.7" y1="107.1" x2="561.7" y2="107.1" stroke="#000" stroke-width="0.9" />
<text x="558.3" y="110.6" font-size="9.9" text-anchor="end" fill="#222" >0.2</text>
<line x1="558.7" y1="128.3" x2="561.7" y2="128.3" stroke="#000" stroke-width="0.9" />
<text x="558.3" y="131.8" font-size="9.9" text-anchor="end" fill="#222" >0.1</text>
<line x1="558.7" y1="149.5" x2="561.7" y2="149.5" stroke="#000" stroke-width="0.9" />
<text x="558.3" y="153" font-size="9.9" text-anchor="end" fill="#222" >0.0</text>
<line x1="558.7" y1="170.7" x2="561.7" y2="170.7" stroke="#000" stroke-width="0.9" />
<text x="558.3" y="174.2" font-size="9.9" text-anchor="end" fill="#222" >-0.1</text>
<line x1="586.3" y1="170.5" x2="586.3" y2="174.8" stroke="#000" stroke-width="0.9" />
<text x="586.7" y="184.7" font-size="10.5" text-anchor="middle" fill="#222" >CT</text>
<line x1="623.1" y1="170.5" x2="623.1" y2="174.8" stroke="#000" stroke-width="0.9" />
<text x="623.5" y="184.7" font-size="10.5" text-anchor="middle" fill="#222" >CSA</text>
<line x1="659.6" y1="170.5" x2="659.6" y2="174.8" stroke="#000" stroke-width="0.9" />
<text x="660" y="184.7" font-size="10.5" text-anchor="middle" fill="#222" >CSS</text>
<text transform="translate(539.4,103.6) rotate(-90)" font-size="9.4" text-anchor="middle" fill="#111" >Content of delphinidin (mg/g, DW)</text>
<line x1="586.3" y1="60.6" x2="586.3" y2="147.4" stroke="#000" stroke-width="0.8" />
<polygon points="586.3,67 586.33,67.2 586.36,67.46 586.4,67.77 586.47,68.13 586.6,68.55 586.8,69 586.95,69.26 587.13,69.54 587.33,69.83 587.55,70.13 587.79,70.44 588.04,70.77 588.28,71.12 588.53,71.49 588.77,71.87 588.99,72.27 589.2,72.7 589.33,72.99 589.46,73.29 589.6,73.61 589.74,73.94 589.89,74.27 590.03,74.62 590.17,74.97 590.3,75.33 590.43,75.69 590.56,76.06 590.67,76.43 590.78,76.8 590.87,77.17 590.95,77.53 591.02,77.89 591.07,78.25 591.1,78.6 591.11,78.95 591.11,79.29 591.1,79.64 591.06,79.99 591.02,80.34 590.97,80.69 590.9,81.03 590.83,81.38 590.75,81.73 590.66,82.08 590.57,82.43 590.47,82.77 590.38,83.12 590.28,83.46 590.18,83.81 590.09,84.16 590,84.5 589.9,84.84 589.77,85.19 589.63,85.53 589.47,85.87 589.3,86.21 589.12,86.55 588.94,86.89 588.77,87.23 588.6,87.57 588.44,87.91 588.31,88.25 588.19,88.59 588.1,88.93 588.04,89.27 588.02,89.61 588.04,89.96 588.1,90.3 588.21,90.64 588.36,90.99 588.55,91.34 588.78,91.68 589.03,92.03 589.32,92.37 589.62,92.72 589.94,93.07 590.27,93.42 590.62,93.77 590.97,94.11 591.31,94.46 591.66,94.81 591.99,95.16 592.31,95.51 592.62,95.85 592.9,96.2 593.18,96.55 593.46,96.9 593.75,97.26 594.04,97.61 594.33,97.97 594.63,98.33 594.92,98.69 595.21,99.05 595.49,99.4 595.76,99.76 596.03,100.11 596.28,100.45 596.52,100.79 596.74,101.13 596.95,101.46 597.14,101.78 597.3,102.1 597.48,102.47 597.63,102.84 597.76,103.2 597.88,103.54 597.97,103.89 598.05,104.22 598.11,104.56 598.16,104.88 598.18,105.21 598.2,105.53 598.19,105.85 598.17,106.17 598.14,106.48 598.1,106.8 598.02,107.16 597.91,107.51 597.77,107.85 597.6,108.17 597.41,108.5 597.21,108.83 596.99,109.15 596.77,109.49 596.54,109.84 596.32,110.21 596.1,110.59 595.9,111 595.76,111.3 595.6,111.61 595.44,111.92 595.27,112.24 595.09,112.57 594.91,112.9 594.74,113.24 594.56,113.58 594.39,113.93 594.22,114.29 594.07,114.65 593.92,115.01 593.78,115.38 593.66,115.75 593.55,116.13 593.47,116.51 593.4,116.9 593.36,117.22 593.35,117.55 593.34,117.88 593.36,118.22 593.38,118.57 593.42,118.92 593.46,119.28 593.51,119.64 593.57,120 593.63,120.37 593.69,120.73 593.75,121.1 593.81,121.46 593.86,121.82 593.91,122.18 593.96,122.53 593.99,122.88 594.01,123.22 594.02,123.55 594.02,123.88 594,124.2 593.96,124.58 593.91,124.96 593.85,125.32 593.78,125.68 593.7,126.04 593.62,126.39 593.52,126.73 593.42,127.07 593.31,127.41 593.2,127.74 593.07,128.07 592.94,128.41 592.81,128.74 592.66,129.08 592.51,129.41 592.36,129.76 592.2,130.1 592.03,130.45 591.84,130.81 591.64,131.17 591.42,131.53 591.19,131.9 590.96,132.27 590.72,132.64 590.47,133.01 590.23,133.37 589.98,133.73 589.74,134.08 589.51,134.43 589.28,134.76 589.06,135.09 588.86,135.41 588.67,135.71 588.5,136 588.26,136.43 588.04,136.84 587.83,137.23 587.65,137.61 587.47,137.97 587.32,138.3 587.17,138.62 587.04,138.92 586.92,139.2 586.8,139.46 586.7,139.7 586.45,140.36 586.35,140.75 586.3,141 586.3,141 586.25,140.75 586.15,140.36 585.9,139.7 585.8,139.46 585.68,139.2 585.56,138.92 585.43,138.62 585.28,138.3 585.13,137.97 584.95,137.61 584.77,137.23 584.56,136.84 584.34,136.43 584.1,136 583.93,135.71 583.74,135.41 583.54,135.09 583.32,134.76 583.09,134.43 582.86,134.08 582.62,133.73 582.37,133.37 582.13,133.01 581.88,132.64 581.64,132.27 581.41,131.9 581.18,131.53 580.96,131.17 580.76,130.81 580.57,130.45 580.4,130.1 580.24,129.76 580.09,129.41 579.94,129.08 579.79,128.74 579.66,128.41 579.53,128.07 579.4,127.74 579.29,127.41 579.18,127.07 579.08,126.73 578.98,126.39 578.9,126.04 578.82,125.68 578.75,125.32 578.69,124.96 578.64,124.58 578.6,124.2 578.58,123.88 578.58,123.55 578.59,123.22 578.61,122.88 578.64,122.53 578.69,122.18 578.74,121.82 578.79,121.46 578.85,121.1 578.91,120.73 578.97,120.37 579.03,120 579.09,119.64 579.14,119.28 579.18,118.92 579.22,118.57 579.24,118.22 579.26,117.88 579.25,117.55 579.24,117.22 579.2,116.9 579.13,116.51 579.05,116.13 578.94,115.75 578.82,115.38 578.68,115.01 578.53,114.65 578.38,114.29 578.21,113.93 578.04,113.58 577.86,113.24 577.69,112.9 577.51,112.57 577.33,112.24 577.16,111.92 577,111.61 576.84,111.3 576.7,111 576.5,110.59 576.28,110.21 576.06,109.84 575.83,109.49 575.61,109.15 575.39,108.83 575.19,108.5 575,108.17 574.83,107.85 574.69,107.51 574.58,107.16 574.5,106.8 574.46,106.48 574.43,106.17 574.41,105.85 574.4,105.53 574.42,105.21 574.44,104.88 574.49,104.56 574.55,104.22 574.63,103.89 574.72,103.54 574.84,103.2 574.97,102.84 575.12,102.47 575.3,102.1 575.46,101.78 575.65,101.46 575.86,101.13 576.08,100.79 576.32,100.45 576.57,100.11 576.84,99.76 577.11,99.4 577.39,99.05 577.68,98.69 577.97,98.33 578.27,97.97 578.56,97.61 578.85,97.26 579.14,96.9 579.42,96.55 579.7,96.2 579.98,95.85 580.29,95.51 580.61,95.16 580.94,94.81 581.29,94.46 581.63,94.11 581.98,93.77 582.33,93.42 582.66,93.07 582.98,92.72 583.28,92.37 583.57,92.03 583.82,91.68 584.05,91.34 584.24,90.99 584.39,90.64 584.5,90.3 584.56,89.96 584.58,89.61 584.56,89.27 584.5,88.93 584.41,88.59 584.29,88.25 584.16,87.91 584,87.57 583.83,87.23 583.66,86.89 583.48,86.55 583.3,86.21 583.13,85.87 582.97,85.53 582.83,85.19 582.7,84.84 582.6,84.5 582.51,84.16 582.42,83.81 582.32,83.46 582.22,83.12 582.13,82.77 582.03,82.43 581.94,82.08 581.85,81.73 581.77,81.38 581.7,81.03 581.63,80.69 581.58,80.34 581.54,79.99 581.5,79.64 581.49,79.29 581.49,78.95 581.5,78.6 581.53,78.25 581.58,77.89 581.65,77.53 581.73,77.17 581.82,76.8 581.93,76.43 582.04,76.06 582.17,75.69 582.3,75.33 582.43,74.97 582.57,74.62 582.71,74.27 582.86,73.94 583,73.61 583.14,73.29 583.27,72.99 583.4,72.7 583.61,72.27 583.83,71.87 584.07,71.49 584.32,71.12 584.56,70.77 584.81,70.44 585.05,70.13 585.27,69.83 585.47,69.54 585.65,69.26 585.8,69 586,68.55 586.13,68.13 586.2,67.77 586.24,67.46 586.27,67.2 586.3,67" fill="#8FC5DF" stroke="#222" stroke-width="0.8" stroke-linejoin="round"/>
<line x1="575.3" y1="102.9" x2="597.3" y2="102.9" stroke="#111" stroke-width="0.9" stroke-dasharray="1.3,0.9"/>
<line x1="574.6" y1="106.8" x2="598" y2="106.8" stroke="#222" stroke-width="0.9" />
<line x1="578.7" y1="124.5" x2="593.9" y2="124.5" stroke="#111" stroke-width="0.9" stroke-dasharray="1.3,0.9"/>
<line x1="623.1" y1="105.1" x2="623.1" y2="151.5" stroke="#000" stroke-width="0.8" />
<polygon points="623.1,108.5 623.2,108.71 623.34,108.97 623.5,109.29 623.68,109.66 623.88,110.07 624.09,110.52 624.3,111 624.42,111.29 624.56,111.61 624.71,111.95 624.86,112.32 625.02,112.7 625.18,113.09 625.34,113.48 625.49,113.86 625.64,114.23 625.77,114.59 625.9,114.93 626.01,115.23 626.1,115.5 626.24,115.97 626.34,116.34 626.39,116.64 626.41,116.9 626.41,117.18 626.4,117.5 626.36,117.84 626.27,118.17 626.17,118.5 626.07,118.87 626.01,119.29 626,119.8 626.02,120.07 626.05,120.36 626.09,120.67 626.13,121 626.19,121.34 626.25,121.69 626.32,122.05 626.39,122.41 626.46,122.78 626.54,123.14 626.63,123.5 626.71,123.86 626.8,124.2 626.89,124.53 626.97,124.85 627.06,125.15 627.14,125.46 627.23,125.76 627.33,126.06 627.43,126.37 627.54,126.69 627.66,127.02 627.8,127.38 627.95,127.76 628.11,128.16 628.3,128.6 628.42,128.88 628.55,129.17 628.69,129.48 628.83,129.8 628.99,130.14 629.15,130.48 629.31,130.84 629.48,131.2 629.65,131.56 629.83,131.93 630.01,132.3 630.19,132.67 630.37,133.04 630.55,133.4 630.73,133.76 630.9,134.12 631.08,134.46 631.25,134.8 631.42,135.12 631.59,135.43 631.75,135.72 631.9,136 632.17,136.44 632.45,136.86 632.76,137.25 633.06,137.62 633.37,137.97 633.67,138.31 633.95,138.63 634.21,138.95 634.44,139.25 634.63,139.54 634.77,139.83 634.87,140.12 634.9,140.4 634.85,140.79 634.71,141.15 634.48,141.48 634.18,141.8 633.81,142.1 633.39,142.41 632.92,142.72 632.42,143.05 631.9,143.4 631.37,143.74 630.74,144.11 630.05,144.5 629.31,144.89 628.55,145.28 627.8,145.67 627.07,146.04 626.4,146.39 625.8,146.71 625.3,147 624.54,147.49 624,147.9 623.61,148.23 623.33,148.5 623.1,148.7 623.1,148.7 622.87,148.5 622.59,148.23 622.2,147.9 621.66,147.49 620.9,147 620.4,146.71 619.8,146.39 619.13,146.04 618.4,145.67 617.65,145.28 616.89,144.89 616.15,144.5 615.46,144.11 614.83,143.74 614.3,143.4 613.78,143.05 613.28,142.72 612.81,142.41 612.39,142.1 612.02,141.8 611.72,141.48 611.49,141.15 611.35,140.79 611.3,140.4 611.33,140.12 611.43,139.83 611.57,139.54 611.76,139.25 611.99,138.95 612.25,138.63 612.53,138.31 612.83,137.97 613.14,137.62 613.44,137.25 613.75,136.86 614.03,136.44 614.3,136 614.45,135.72 614.61,135.43 614.78,135.12 614.95,134.8 615.12,134.46 615.3,134.12 615.47,133.76 615.65,133.4 615.83,133.04 616.01,132.67 616.19,132.3 616.37,131.93 616.55,131.56 616.72,131.2 616.89,130.84 617.05,130.48 617.21,130.14 617.37,129.8 617.51,129.48 617.65,129.17 617.78,128.88 617.9,128.6 618.09,128.16 618.25,127.76 618.4,127.38 618.54,127.02 618.66,126.69 618.77,126.37 618.87,126.06 618.97,125.76 619.06,125.46 619.14,125.15 619.23,124.85 619.31,124.53 619.4,124.2 619.49,123.86 619.57,123.5 619.66,123.14 619.74,122.78 619.81,122.41 619.88,122.05 619.95,121.69 620.01,121.34 620.07,121 620.11,120.67 620.15,120.36 620.18,120.07 620.2,119.8 620.19,119.29 620.13,118.87 620.03,118.5 619.93,118.17 619.84,117.84 619.8,117.5 619.79,117.18 619.79,116.9 619.81,116.64 619.86,116.34 619.96,115.97 620.1,115.5 620.19,115.23 620.3,114.93 620.43,114.59 620.56,114.23 620.71,113.86 620.86,113.48 621.02,113.09 621.18,112.7 621.34,112.32 621.49,111.95 621.64,111.61 621.78,111.29 621.9,111 622.11,110.52 622.32,110.07 622.52,109.66 622.7,109.29 622.86,108.97 623,108.71 623.1,108.5" fill="#86BE98" stroke="#222" stroke-width="0.8" stroke-linejoin="round"/>
<line x1="618.1" y1="128.4" x2="628.1" y2="128.4" stroke="#111" stroke-width="0.9" stroke-dasharray="1.3,0.9"/>
<line x1="614.4" y1="136" x2="631.8" y2="136" stroke="#222" stroke-width="0.9" />
<line x1="611.7" y1="141.2" x2="634.5" y2="141.2" stroke="#111" stroke-width="0.9" stroke-dasharray="1.3,0.9"/>
<line x1="659.6" y1="123.1" x2="659.6" y2="146.5" stroke="#000" stroke-width="0.8" />
<polygon points="659.6,124 659.94,124.19 660.42,124.47 660.9,124.9 661.15,125.19 661.45,125.54 661.75,125.93 662,126.33 662.17,126.72 662.2,127.1 662.01,127.46 661.61,127.81 661.12,128.16 660.67,128.51 660.35,128.86 660.3,129.2 660.56,129.54 661.04,129.89 661.67,130.23 662.36,130.57 663.03,130.89 663.6,131.2 664.34,131.64 665.06,132.05 665.7,132.44 666.2,132.8 666.69,133.23 666.96,133.61 666.9,134 666.19,134.39 665.14,134.77 664.6,135.2 664.8,135.57 665.32,135.97 666.06,136.38 666.9,136.8 667.83,137.13 669.05,137.46 670.26,137.79 671.18,138.14 671.5,138.5 671.19,138.82 670.47,139.14 669.47,139.48 668.33,139.82 667.2,140.16 666.2,140.5 665.27,140.84 664.29,141.2 663.3,141.56 662.37,141.91 661.55,142.22 660.9,142.5 660.12,142.94 659.79,143.28 659.6,143.5 659.6,143.5 659.41,143.28 659.08,142.94 658.3,142.5 657.65,142.22 656.83,141.91 655.9,141.56 654.91,141.2 653.93,140.84 653,140.5 652,140.16 650.87,139.82 649.73,139.48 648.73,139.14 648.01,138.82 647.7,138.5 648.02,138.14 648.94,137.79 650.15,137.46 651.37,137.13 652.3,136.8 653.14,136.38 653.88,135.97 654.4,135.57 654.6,135.2 654.06,134.77 653.01,134.39 652.3,134 652.24,133.61 652.51,133.23 653,132.8 653.5,132.44 654.14,132.05 654.86,131.64 655.6,131.2 656.17,130.89 656.84,130.57 657.53,130.23 658.16,129.89 658.64,129.54 658.9,129.2 658.85,128.86 658.53,128.51 658.08,128.16 657.59,127.81 657.19,127.46 657,127.1 657.03,126.72 657.2,126.33 657.45,125.93 657.75,125.54 658.05,125.19 658.3,124.9 658.78,124.47 659.26,124.19 659.6,124" fill="#E0C08C" stroke="#222" stroke-width="0.8" stroke-linejoin="round"/>
<line x1="652.6" y1="134" x2="666.6" y2="134" stroke="#111" stroke-width="0.9" stroke-dasharray="1.3,0.9"/>
<line x1="654.8" y1="135.6" x2="664.4" y2="135.6" stroke="#222" stroke-width="0.9" />
<line x1="649.1" y1="138.7" x2="670.1" y2="138.7" stroke="#111" stroke-width="0.9" stroke-dasharray="1.3,0.9"/>
<polyline points="585.6,43.4 585.6,29.8 660.6,29.8 660.6,43.4" fill="none" stroke="#222" stroke-width="0.9"/>
<polyline points="586.3,53.3 586.3,47.4 620.3,47.4 620.3,99" fill="none" stroke="#222" stroke-width="0.9"/>
<polyline points="625.2,99 625.2,47.4 659.8,47.4 659.8,115.6" fill="none" stroke="#222" stroke-width="0.9"/>
<text x="597.6" y="24.4" font-size="9.5" fill="#111"><tspan font-style="italic">P</tspan> = 1.82 x 10<tspan dy="-3.2" font-size="6.5">-5</tspan></text>
<text transform="translate(609.2,115.6) rotate(-90)" font-size="9.5" fill="#111"><tspan font-style="italic">P</tspan> = 7.59 x 10<tspan dy="-3.2" font-size="6.5">-6</tspan></text>
<text transform="translate(654.9,91.5) rotate(-90)" font-size="9.5" fill="#111"><tspan font-style="italic">P</tspan> = 0.77</text>
<rect x="430.8" y="221" width="243.7" height="180.6" fill="#EBEBEB" stroke="none" stroke-width="0.8" />
<line x1="475.15" y1="221" x2="475.15" y2="401.6" stroke="#FAFAFA" stroke-width="0.8" />
<line x1="542.25" y1="221" x2="542.25" y2="401.6" stroke="#FAFAFA" stroke-width="0.8" />
<line x1="609.35" y1="221" x2="609.35" y2="401.6" stroke="#FAFAFA" stroke-width="0.8" />
<line x1="430.8" y1="393.3" x2="674.5" y2="393.3" stroke="#FAFAFA" stroke-width="0.8" />
<line x1="430.8" y1="351.7" x2="674.5" y2="351.7" stroke="#FAFAFA" stroke-width="0.8" />
<line x1="430.8" y1="310.1" x2="674.5" y2="310.1" stroke="#FAFAFA" stroke-width="0.8" />
<line x1="430.8" y1="268.5" x2="674.5" y2="268.5" stroke="#FAFAFA" stroke-width="0.8" />
<line x1="430.8" y1="226.9" x2="674.5" y2="226.9" stroke="#FAFAFA" stroke-width="0.8" />
<line x1="441.6" y1="221" x2="441.6" y2="401.6" stroke="#FFFFFF" stroke-width="1.1" />
<line x1="508.7" y1="221" x2="508.7" y2="401.6" stroke="#FFFFFF" stroke-width="1.1" />
<line x1="575.8" y1="221" x2="575.8" y2="401.6" stroke="#FFFFFF" stroke-width="1.1" />
<line x1="642.9" y1="221" x2="642.9" y2="401.6" stroke="#FFFFFF" stroke-width="1.1" />
<line x1="430.8" y1="372.5" x2="674.5" y2="372.5" stroke="#FFFFFF" stroke-width="1.1" />
<line x1="430.8" y1="330.9" x2="674.5" y2="330.9" stroke="#FFFFFF" stroke-width="1.1" />
<line x1="430.8" y1="289.3" x2="674.5" y2="289.3" stroke="#FFFFFF" stroke-width="1.1" />
<line x1="430.8" y1="247.7" x2="674.5" y2="247.7" stroke="#FFFFFF" stroke-width="1.1" />
<line x1="441.6" y1="401.6" x2="441.6" y2="404.2" stroke="#333" stroke-width="0.6" />
<text x="442.5" y="410.3" font-size="8.8" text-anchor="middle" fill="#333" >0.0</text>
<line x1="508.7" y1="401.6" x2="508.7" y2="404.2" stroke="#333" stroke-width="0.6" />
<text x="509.6" y="410.3" font-size="8.8" text-anchor="middle" fill="#333" >0.1</text>
<line x1="575.8" y1="401.6" x2="575.8" y2="404.2" stroke="#333" stroke-width="0.6" />
<text x="576.7" y="410.3" font-size="8.8" text-anchor="middle" fill="#333" >0.2</text>
<line x1="642.9" y1="401.6" x2="642.9" y2="404.2" stroke="#333" stroke-width="0.6" />
<text x="643.8" y="410.3" font-size="8.8" text-anchor="middle" fill="#333" >0.3</text>
<line x1="429" y1="372.5" x2="430.8" y2="372.5" stroke="#555" stroke-width="0.6" />
<text x="428" y="375.6" font-size="8.6" text-anchor="end" fill="#333" >0</text>
<line x1="429" y1="330.9" x2="430.8" y2="330.9" stroke="#555" stroke-width="0.6" />
<text x="428" y="334" font-size="8.6" text-anchor="end" fill="#333" >1</text>
<line x1="429" y1="289.3" x2="430.8" y2="289.3" stroke="#555" stroke-width="0.6" />
<text x="428" y="292.4" font-size="8.6" text-anchor="end" fill="#333" >2</text>
<line x1="429" y1="247.7" x2="430.8" y2="247.7" stroke="#555" stroke-width="0.6" />
<text x="428" y="250.8" font-size="8.6" text-anchor="end" fill="#333" >3</text>
<text transform="translate(417.6,302.3) rotate(-90)" font-size="9.4" text-anchor="middle" fill="#111">Relative expression of <tspan font-style="italic">CsANS3</tspan></text>
<text x="560.3" y="425.2" font-size="9.6" text-anchor="middle" fill="#111" >Content of delphinidin (mg/g, DW)</text>
<text x="445.0" y="240.1" font-size="9.6" fill="#111"><tspan font-style="italic">R</tspan> = 0.79, <tspan font-style="italic">P</tspan> = 2.33 x 10<tspan dy="-3.2" font-size="6.5">-9</tspan></text>
<circle cx="461" cy="371.4" r="1.75" fill="#5ECFA0" />
<circle cx="468.2" cy="366.7" r="1.75" fill="#5ECFA0" />
<circle cx="466" cy="372.3" r="1.75" fill="#5ECFA0" />
<circle cx="468.5" cy="372.3" r="1.75" fill="#5ECFA0" />
<circle cx="471" cy="372.3" r="1.75" fill="#5ECFA0" />
<circle cx="473.5" cy="372.3" r="1.75" fill="#5ECFA0" />
<circle cx="476" cy="372.3" r="1.75" fill="#5ECFA0" />
<circle cx="478" cy="372.3" r="1.75" fill="#5ECFA0" />
<circle cx="480.5" cy="372.3" r="1.75" fill="#5ECFA0" />
<circle cx="483" cy="372.3" r="1.75" fill="#5ECFA0" />
<circle cx="489.3" cy="372" r="1.75" fill="#5ECFA0" />
<circle cx="491" cy="371" r="1.75" fill="#5ECFA0" />
<circle cx="492.8" cy="371.6" r="1.75" fill="#5ECFA0" />
<circle cx="495.4" cy="372.3" r="1.75" fill="#5ECFA0" />
<circle cx="497.6" cy="372.3" r="1.75" fill="#5ECFA0" />
<circle cx="506.1" cy="349.5" r="1.75" fill="#5ECFA0" />
<circle cx="510.4" cy="362.8" r="1.75" fill="#5ECFA0" />
<circle cx="512.5" cy="371.3" r="1.75" fill="#5ECFA0" />
<circle cx="518" cy="368.6" r="1.75" fill="#5ECFA0" />
<circle cx="519.5" cy="370.6" r="1.75" fill="#5ECFA0" />
<circle cx="532.3" cy="371.6" r="1.75" fill="#5ECFA0" />
<circle cx="536.5" cy="369.7" r="1.75" fill="#5ECFA0" />
<circle cx="534.6" cy="260.7" r="1.75" fill="#5ECFA0" />
<circle cx="568.9" cy="299.5" r="1.75" fill="#5ECFA0" />
<circle cx="573.5" cy="258.7" r="1.75" fill="#5ECFA0" />
<circle cx="575.7" cy="365.1" r="1.75" fill="#5ECFA0" />
<circle cx="580" cy="240.1" r="1.75" fill="#5ECFA0" />
<circle cx="588.8" cy="271" r="1.75" fill="#5ECFA0" />
<circle cx="659.3" cy="262.4" r="1.75" fill="#5ECFA0" />
<circle cx="663.6" cy="291.2" r="1.75" fill="#5ECFA0" />
<polygon points="461.3,371.67 466.37,368.88 471.44,366.05 476.5,363.18 481.57,360.25 486.64,357.26 491.7,354.22 496.77,351.11 501.84,347.94 506.91,344.7 511.98,341.41 517.04,338.05 522.11,334.64 527.18,331.18 532.25,327.67 537.31,324.12 542.38,320.53 547.45,316.91 552.51,313.25 557.58,309.58 562.65,305.87 567.72,302.15 572.78,298.41 577.85,294.66 582.92,290.89 587.99,287.1 593.06,283.31 598.12,279.51 603.19,275.69 608.26,271.87 613.33,268.05 618.39,264.21 623.46,260.37 628.53,256.53 633.6,252.68 638.66,248.83 643.73,244.97 648.8,241.11 653.87,237.24 658.93,233.38 664,229.51 664,281.89 658.93,284.35 653.87,286.81 648.8,289.27 643.73,291.73 638.66,294.2 633.6,296.67 628.53,299.15 623.46,301.63 618.39,304.11 613.33,306.6 608.26,309.1 603.19,311.61 598.12,314.12 593.06,316.64 587.99,319.17 582.92,321.71 577.85,324.27 572.78,326.84 567.72,329.42 562.65,332.03 557.58,334.65 552.51,337.3 547.45,339.97 542.38,342.67 537.31,345.41 532.25,348.18 527.18,351 522.11,353.86 517.04,356.77 511.98,359.74 506.91,362.77 501.84,365.86 496.77,369.02 491.7,372.23 486.64,375.51 481.57,378.85 476.5,382.25 471.44,385.7 466.37,389.19 461.3,392.73" fill="#F48BA8" fill-opacity="0.5"/>
<line x1="461.3" y1="382.2" x2="664" y2="255.7" stroke="#F2708E" stroke-width="0.9" />
<line x1="101.2" y1="503.55" x2="110.9" y2="503.55" stroke="#333" stroke-width="0.9" />
<line x1="138.9" y1="503.55" x2="148.1" y2="503.55" stroke="#333" stroke-width="0.9" />
<line x1="228" y1="503.2" x2="236.6" y2="503.2" stroke="#333" stroke-width="0.9" />
<polygon points="31.1,497.6 81.7,497.6 81.7,491.5 101.2,503.55 81.7,515.6 81.7,510.5 31.1,510.5" fill="#6E6E6E"/>
<text x="33.7" y="507.8" font-size="9.6" text-anchor="start" fill="#FFFFFF" >CaMV35S</text>
<rect x="110.9" y="495.5" width="28" height="15.1" fill="#CDB87C" stroke="none" stroke-width="0.8" />
<text x="124.9" y="506.4" font-size="9.6" text-anchor="middle" fill="#111" >REN</text>
<polygon points="148.1,497.3 213,497.3 213,493.9 228,503.2 213,512.5 213,509.2 148.1,509.2" fill="#E0C08C"/>
<text x="159.9" y="507" font-size="9.6" text-anchor="start" fill="#111" font-style="italic" >proCssANS3</text>
<rect x="236.6" y="496" width="28.1" height="15" fill="#97D8B4" stroke="none" stroke-width="0.8" />
<text x="250.65" y="506.7" font-size="9.6" text-anchor="middle" fill="#111" >LUC</text>
<line x1="103.2" y1="548.5" x2="113.1" y2="548.5" stroke="#333" stroke-width="0.9" />
<line x1="141.3" y1="548.5" x2="149.9" y2="548.5" stroke="#333" stroke-width="0.9" />
<line x1="227.4" y1="547.6" x2="236.6" y2="547.6" stroke="#333" stroke-width="0.9" />
<polygon points="31.1,541.9 83.8,541.9 83.8,536.4 103.2,548.5 83.8,560.6 83.8,555.4 31.1,555.4" fill="#6E6E6E"/>
<text x="36" y="552.4" font-size="9.6" text-anchor="start" fill="#FFFFFF" >CaMV35S</text>
<rect x="113.1" y="539.7" width="28.2" height="15.2" fill="#CDB87C" stroke="none" stroke-width="0.8" />
<text x="127.2" y="550.7" font-size="9.6" text-anchor="middle" fill="#111" >REN</text>
<polygon points="149.9,541.5 211.7,541.5 211.7,538.4 227.4,547.6 211.7,556.8 211.7,553.6 149.9,553.6" fill="#7DB992"/>
<text x="159.9" y="551.5" font-size="9.6" text-anchor="start" fill="#111" font-style="italic" >proCsaANS3</text>
<rect x="236.6" y="540.2" width="28.1" height="15.3" fill="#97D8B4" stroke="none" stroke-width="0.8" />
<text x="250.65" y="551.2" font-size="9.6" text-anchor="middle" fill="#111" >LUC</text>
<line x1="104.2" y1="588" x2="113.7" y2="588" stroke="#333" stroke-width="0.9" />
<line x1="142" y1="588" x2="150.7" y2="588" stroke="#333" stroke-width="0.9" />
<line x1="228.7" y1="587.55" x2="237.4" y2="587.55" stroke="#333" stroke-width="0.9" />
<polygon points="31.1,582.2 84.2,582.2 84.2,576 104.2,588 84.2,600 84.2,595.5 31.1,595.5" fill="#6E6E6E"/>
<text x="39.9" y="592.8" font-size="9.6" text-anchor="start" fill="#FFFFFF" >CaMV35S</text>
<rect x="113.7" y="580.2" width="28.3" height="15.5" fill="#CDB87C" stroke="none" stroke-width="0.8" />
<text x="127.85" y="591.5" font-size="9.6" text-anchor="middle" fill="#111" >REN</text>
<polygon points="150.7,581.3 213.5,581.3 213.5,578.1 228.7,587.55 213.5,597 213.5,593.9 150.7,593.9" fill="#92C8E2"/>
<text x="163.1" y="591.3" font-size="9.6" text-anchor="start" fill="#111" font-style="italic" >proCtANS3</text>
<rect x="237.4" y="580.2" width="28.1" height="15.8" fill="#97D8B4" stroke="none" stroke-width="0.8" />
<text x="251.45" y="591.7" font-size="9.6" text-anchor="middle" fill="#111" >LUC</text>
<line x1="104.2" y1="633.2" x2="113.7" y2="633.2" stroke="#333" stroke-width="0.9" />
<line x1="142" y1="633.2" x2="150.7" y2="633.2" stroke="#333" stroke-width="0.9" />
<line x1="228.7" y1="633.15" x2="237.4" y2="633.15" stroke="#333" stroke-width="0.9" />
<polygon points="31.1,626.9 84.2,626.9 84.2,620.8 104.2,633.2 84.2,645.6 84.2,640.4 31.1,640.4" fill="#6E6E6E"/>
<text x="36.8" y="637.5" font-size="9.6" text-anchor="start" fill="#FFFFFF" >CaMV35S</text>
<rect x="113.7" y="624.9" width="28.3" height="15.8" fill="#CDB87C" stroke="none" stroke-width="0.8" />
<text x="127.85" y="636.5" font-size="9.6" text-anchor="middle" fill="#111" >REN</text>
<polygon points="150.7,626.7 213.5,626.7 213.5,623.3 228.7,633.15 213.5,643 213.5,639.4 150.7,639.4" fill="#92C8E2"/>
<text x="153.9" y="637.3" font-size="9.6" text-anchor="start" fill="#111" font-style="italic" >proCtANS3-192</text>
<rect x="237.4" y="625.4" width="28.1" height="15.8" fill="#97D8B4" stroke="none" stroke-width="0.8" />
<text x="251.45" y="636.9" font-size="9.6" text-anchor="middle" fill="#111" >LUC</text>
<polygon points="151.2,489.5 157.2,489.5 154.2,494.7" fill="#111" stroke="#111" stroke-width="0.7"/>
<line x1="154.2" y1="494.7" x2="154.2" y2="497.5" stroke="#111" stroke-width="0.8" />
<text x="144.7" y="486.3" font-size="9.6" text-anchor="start" fill="#111" >283 bp</text>
<polygon points="151.7,534.3 157.7,534.3 154.7,538.4" fill="#FFF" stroke="#111" stroke-width="0.7"/>
<line x1="154.7" y1="538.4" x2="154.7" y2="541.5" stroke="#111" stroke-width="0.8" />
<polygon points="169.3,534.3 175.3,534.3 172.3,538.4" fill="#FFF" stroke="#111" stroke-width="0.7"/>
<line x1="172.3" y1="538.4" x2="172.3" y2="541.5" stroke="#111" stroke-width="0.8" />
<text x="131.5" y="531.8" font-size="9.4" text-anchor="start" fill="#111" >deletion</text>
<text x="170.4" y="531.8" font-size="9.4" text-anchor="start" fill="#111" >deletion</text>
<polygon points="170.5,573.7 176.5,573.7 173.5,578.1" fill="#111" stroke="#111" stroke-width="0.7"/>
<line x1="173.5" y1="578.1" x2="173.5" y2="581.3" stroke="#111" stroke-width="0.8" />
<text x="165.2" y="569.7" font-size="9.6" text-anchor="start" fill="#111" >192 bp</text>
<polygon points="170.5,618.3 176.5,618.3 173.5,622.8" fill="#FFF" stroke="#111" stroke-width="0.7"/>
<line x1="173.5" y1="622.8" x2="173.5" y2="626.7" stroke="#111" stroke-width="0.8" />
<text x="158.3" y="615.4" font-size="9.4" text-anchor="start" fill="#111" >deletion</text>
<defs><radialGradient id="leafg" cx="0.5" cy="0.55" r="0.58"><stop offset="0" stop-color="#8A8A8A"/><stop offset="0.72" stop-color="#969696"/><stop offset="1" stop-color="#B2B2B2"/></radialGradient><filter id="hb1" x="-30%" y="-30%" width="160%" height="160%"><feGaussianBlur stdDeviation="0.6"/></filter><filter id="hb2" x="-30%" y="-30%" width="160%" height="160%"><feGaussianBlur stdDeviation="1.0"/></filter><clipPath id="hclip"><rect x="298" y="482.8" width="162.3" height="166"/></clipPath></defs>
<rect x="298" y="482.8" width="162.3" height="166" fill="#000000" stroke="none" stroke-width="0.8" />
<polygon points="381.2,508.2 379.6,513 376.8,509.4 373,508.6 368,509.6 363.7,511.6 359.5,514 355.8,516.9 351.5,520.3 347.8,523.9 344.5,527 341.8,529.9 339.2,533.2 336.9,536.8 334.3,541.2 331.9,545.8 329.8,549.8 327.9,553.7 326.2,557.6 324.9,561.7 323.4,565.8 322.3,569.7 321.4,574.7 320.9,579.6 320.7,584.6 320.9,589.6 321.4,594.6 322.3,599.5 323.8,603.7 325.9,607.5 328.6,610.7 331.9,613.4 336.5,616.6 341.8,619.4 347.8,621.6 353.8,623.4 360.5,624.5 367.7,625.4 373.8,626.4 381.5,627.4 385.5,627.4 390,625 394,623.2 400,620.5 405.5,617.5 410,615.2 414,612.5 417,610.8 420.5,608.5 424.5,605 429,599.5 433,593.5 436.2,587.5 438.8,581 440.2,575 439.6,568 437.8,561.5 435.4,553.5 432.3,545.5 428.3,537.8 423.5,530.8 418.5,526.2 413.5,521.6 407.5,516.6 401.4,512.6 395,509.3 388.7,507.6 384.5,507.9" fill="url(#leafg)" stroke="#C8C8C8" stroke-width="0.8"/>
<defs><filter id="ltex" x="0" y="0" width="100%" height="100%"><feTurbulence type="fractalNoise" baseFrequency="0.16" numOctaves="3" seed="7"/><feColorMatrix type="matrix" values="1.8 0 0 0 -0.4  1.8 0 0 0 -0.4  1.8 0 0 0 -0.4  0 0 0 0 1"/><feComposite in2="SourceGraphic" operator="in"/></filter></defs>
<polygon points="381.2,508.2 379.6,513 376.8,509.4 373,508.6 368,509.6 363.7,511.6 359.5,514 355.8,516.9 351.5,520.3 347.8,523.9 344.5,527 341.8,529.9 339.2,533.2 336.9,536.8 334.3,541.2 331.9,545.8 329.8,549.8 327.9,553.7 326.2,557.6 324.9,561.7 323.4,565.8 322.3,569.7 321.4,574.7 320.9,579.6 320.7,584.6 320.9,589.6 321.4,594.6 322.3,599.5 323.8,603.7 325.9,607.5 328.6,610.7 331.9,613.4 336.5,616.6 341.8,619.4 347.8,621.6 353.8,623.4 360.5,624.5 367.7,625.4 373.8,626.4 381.5,627.4 385.5,627.4 390,625 394,623.2 400,620.5 405.5,617.5 410,615.2 414,612.5 417,610.8 420.5,608.5 424.5,605 429,599.5 433,593.5 436.2,587.5 438.8,581 440.2,575 439.6,568 437.8,561.5 435.4,553.5 432.3,545.5 428.3,537.8 423.5,530.8 418.5,526.2 413.5,521.6 407.5,516.6 401.4,512.6 395,509.3 388.7,507.6 384.5,507.9" fill="#000" filter="url(#ltex)" opacity="0.16"/>
<g stroke="#E8E8E8" fill="none" stroke-linecap="round" opacity="0.9"><path d="M380.9,526 L382.1,526 L384.8,627.5 L381.4,627.5 Z" fill="#E8E8E8" stroke="none"/><path d="M379.8,514 L381.4,527" stroke="#6A6A6A" stroke-width="2.2" opacity="0.8"/><path d="M381.8,556 Q376,551 371.6,548.5" stroke-width="0.9"/><path d="M381.6,600 C370,590 355,572 345.5,553" stroke-width="1.1"/><path d="M382.3,563 Q388,560 393.6,557.5" stroke-width="0.9"/><path d="M382.8,600 C395,588 410,573 419,558" stroke-width="1.1"/><path d="M383,615 Q373,612 365,609" stroke-width="0.8"/><path d="M383,614 Q394,610 403,603" stroke-width="0.8"/><path d="M381.5,536 Q375,533 368,528" stroke-width="0.6"/><path d="M381.6,536 Q388,533 395,528" stroke-width="0.6"/><path d="M382.9,622 Q374,621 366,619" stroke-width="0.6"/><path d="M383.1,621 Q392,619 399,615" stroke-width="0.6"/></g>
<ellipse cx="380.7" cy="521.1" rx="15.6" ry="11.4" fill="none" stroke="#111" stroke-width="0.9" stroke-dasharray="3,2"/>
<defs><filter id="hb0" x="-10%" y="-10%" width="120%" height="120%"><feGaussianBlur stdDeviation="0.45"/></filter></defs>
<g filter="url(#hb0)">
<path d="M351.6,529.9h1.45v1.45h-1.45zM345.1,531.2h1.45v1.45h-1.45zM346.4,531.2h1.45v1.45h-1.45zM347.7,531.2h1.45v1.45h-1.45zM350.3,531.2h1.45v1.45h-1.45zM352.9,531.2h1.45v1.45h-1.45zM354.2,531.2h1.45v1.45h-1.45zM355.5,531.2h1.45v1.45h-1.45zM360.7,531.2h1.45v1.45h-1.45zM362,531.2h1.45v1.45h-1.45zM363.3,531.2h1.45v1.45h-1.45zM364.6,531.2h1.45v1.45h-1.45zM341.2,532.5h1.45v1.45h-1.45zM342.5,532.5h1.45v1.45h-1.45zM345.1,532.5h1.45v1.45h-1.45zM347.7,532.5h1.45v1.45h-1.45zM349,532.5h1.45v1.45h-1.45zM350.3,532.5h1.45v1.45h-1.45zM351.6,532.5h1.45v1.45h-1.45zM352.9,532.5h1.45v1.45h-1.45zM354.2,532.5h1.45v1.45h-1.45zM355.5,532.5h1.45v1.45h-1.45zM356.8,532.5h1.45v1.45h-1.45zM358.1,532.5h1.45v1.45h-1.45zM359.4,532.5h1.45v1.45h-1.45zM360.7,532.5h1.45v1.45h-1.45zM362,532.5h1.45v1.45h-1.45zM363.3,532.5h1.45v1.45h-1.45zM364.6,532.5h1.45v1.45h-1.45zM365.9,532.5h1.45v1.45h-1.45zM369.8,532.5h1.45v1.45h-1.45zM342.5,533.8h1.45v1.45h-1.45zM343.8,533.8h1.45v1.45h-1.45zM349,533.8h1.45v1.45h-1.45zM350.3,533.8h1.45v1.45h-1.45zM355.5,533.8h1.45v1.45h-1.45zM356.8,533.8h1.45v1.45h-1.45zM358.1,533.8h1.45v1.45h-1.45zM359.4,533.8h1.45v1.45h-1.45zM360.7,533.8h1.45v1.45h-1.45zM362,533.8h1.45v1.45h-1.45zM363.3,533.8h1.45v1.45h-1.45zM364.6,533.8h1.45v1.45h-1.45zM365.9,533.8h1.45v1.45h-1.45zM367.2,533.8h1.45v1.45h-1.45zM368.5,533.8h1.45v1.45h-1.45zM369.8,533.8h1.45v1.45h-1.45zM341.2,535.1h1.45v1.45h-1.45zM342.5,535.1h1.45v1.45h-1.45zM350.3,535.1h1.45v1.45h-1.45zM351.6,535.1h1.45v1.45h-1.45zM352.9,535.1h1.45v1.45h-1.45zM354.2,535.1h1.45v1.45h-1.45zM355.5,535.1h1.45v1.45h-1.45zM356.8,535.1h1.45v1.45h-1.45zM358.1,535.1h1.45v1.45h-1.45zM362,535.1h1.45v1.45h-1.45zM363.3,535.1h1.45v1.45h-1.45zM364.6,535.1h1.45v1.45h-1.45zM365.9,535.1h1.45v1.45h-1.45zM367.2,535.1h1.45v1.45h-1.45zM368.5,535.1h1.45v1.45h-1.45zM369.8,535.1h1.45v1.45h-1.45zM371.1,535.1h1.45v1.45h-1.45zM341.2,536.4h1.45v1.45h-1.45zM342.5,536.4h1.45v1.45h-1.45zM346.4,536.4h1.45v1.45h-1.45zM351.6,536.4h1.45v1.45h-1.45zM352.9,536.4h1.45v1.45h-1.45zM354.2,536.4h1.45v1.45h-1.45zM355.5,536.4h1.45v1.45h-1.45zM358.1,536.4h1.45v1.45h-1.45zM363.3,536.4h1.45v1.45h-1.45zM364.6,536.4h1.45v1.45h-1.45zM365.9,536.4h1.45v1.45h-1.45zM368.5,536.4h1.45v1.45h-1.45zM369.8,536.4h1.45v1.45h-1.45zM371.1,536.4h1.45v1.45h-1.45zM339.9,537.7h1.45v1.45h-1.45zM341.2,537.7h1.45v1.45h-1.45zM346.4,537.7h1.45v1.45h-1.45zM352.9,537.7h1.45v1.45h-1.45zM354.2,537.7h1.45v1.45h-1.45zM355.5,537.7h1.45v1.45h-1.45zM358.1,537.7h1.45v1.45h-1.45zM363.3,537.7h1.45v1.45h-1.45zM364.6,537.7h1.45v1.45h-1.45zM365.9,537.7h1.45v1.45h-1.45zM368.5,537.7h1.45v1.45h-1.45zM339.9,539h1.45v1.45h-1.45zM343.8,539h1.45v1.45h-1.45zM346.4,539h1.45v1.45h-1.45zM347.7,539h1.45v1.45h-1.45zM349,539h1.45v1.45h-1.45zM354.2,539h1.45v1.45h-1.45zM355.5,539h1.45v1.45h-1.45zM358.1,539h1.45v1.45h-1.45zM359.4,539h1.45v1.45h-1.45zM363.3,539h1.45v1.45h-1.45zM364.6,539h1.45v1.45h-1.45zM368.5,539h1.45v1.45h-1.45zM339.9,540.3h1.45v1.45h-1.45zM341.2,540.3h1.45v1.45h-1.45zM349,540.3h1.45v1.45h-1.45zM355.5,540.3h1.45v1.45h-1.45zM356.8,540.3h1.45v1.45h-1.45zM363.3,540.3h1.45v1.45h-1.45zM364.6,540.3h1.45v1.45h-1.45zM365.9,540.3h1.45v1.45h-1.45zM368.5,540.3h1.45v1.45h-1.45zM341.2,541.6h1.45v1.45h-1.45zM350.3,541.6h1.45v1.45h-1.45zM351.6,541.6h1.45v1.45h-1.45zM362,541.6h1.45v1.45h-1.45zM363.3,541.6h1.45v1.45h-1.45zM364.6,541.6h1.45v1.45h-1.45zM368.5,541.6h1.45v1.45h-1.45zM369.8,541.6h1.45v1.45h-1.45zM341.2,542.9h1.45v1.45h-1.45zM342.5,542.9h1.45v1.45h-1.45zM343.8,542.9h1.45v1.45h-1.45zM345.1,542.9h1.45v1.45h-1.45zM347.7,542.9h1.45v1.45h-1.45zM349,542.9h1.45v1.45h-1.45zM350.3,542.9h1.45v1.45h-1.45zM351.6,542.9h1.45v1.45h-1.45zM368.5,542.9h1.45v1.45h-1.45zM345.1,544.2h1.45v1.45h-1.45zM346.4,544.2h1.45v1.45h-1.45zM347.7,544.2h1.45v1.45h-1.45zM350.3,544.2h1.45v1.45h-1.45zM368.5,544.2h1.45v1.45h-1.45zM350.3,545.5h1.45v1.45h-1.45zM368.5,545.5h1.45v1.45h-1.45zM349,546.8h1.45v1.45h-1.45zM368.5,546.8h1.45v1.45h-1.45zM349,548.1h1.45v1.45h-1.45zM350.3,548.1h1.45v1.45h-1.45zM368.5,548.1h1.45v1.45h-1.45zM349,549.4h1.45v1.45h-1.45zM350.3,549.4h1.45v1.45h-1.45zM351.6,549.4h1.45v1.45h-1.45zM368.5,549.4h1.45v1.45h-1.45zM350.3,550.7h1.45v1.45h-1.45zM351.6,550.7h1.45v1.45h-1.45zM367.2,550.7h1.45v1.45h-1.45zM368.5,550.7h1.45v1.45h-1.45zM369.8,550.7h1.45v1.45h-1.45zM350.3,552h1.45v1.45h-1.45zM368.5,552h1.45v1.45h-1.45zM369.8,552h1.45v1.45h-1.45zM351.6,553.3h1.45v1.45h-1.45zM352.9,553.3h1.45v1.45h-1.45zM365.9,553.3h1.45v1.45h-1.45zM355.5,554.6h1.45v1.45h-1.45zM363.3,554.6h1.45v1.45h-1.45zM364.6,554.6h1.45v1.45h-1.45zM358.1,555.9h1.45v1.45h-1.45zM359.4,555.9h1.45v1.45h-1.45zM360.7,555.9h1.45v1.45h-1.45zM362,555.9h1.45v1.45h-1.45z" fill="#8E2CF2"/>
<path d="M351.6,531.2h1.45v1.45h-1.45zM346.4,532.5h1.45v1.45h-1.45zM345.1,533.8h1.45v1.45h-1.45zM346.4,533.8h1.45v1.45h-1.45zM347.7,533.8h1.45v1.45h-1.45zM343.8,535.1h1.45v1.45h-1.45zM345.1,535.1h1.45v1.45h-1.45zM346.4,535.1h1.45v1.45h-1.45zM347.7,535.1h1.45v1.45h-1.45zM349,535.1h1.45v1.45h-1.45zM359.4,535.1h1.45v1.45h-1.45zM360.7,535.1h1.45v1.45h-1.45zM343.8,536.4h1.45v1.45h-1.45zM345.1,536.4h1.45v1.45h-1.45zM347.7,536.4h1.45v1.45h-1.45zM349,536.4h1.45v1.45h-1.45zM350.3,536.4h1.45v1.45h-1.45zM359.4,536.4h1.45v1.45h-1.45zM360.7,536.4h1.45v1.45h-1.45zM362,536.4h1.45v1.45h-1.45zM367.2,536.4h1.45v1.45h-1.45zM342.5,537.7h1.45v1.45h-1.45zM343.8,537.7h1.45v1.45h-1.45zM345.1,537.7h1.45v1.45h-1.45zM347.7,537.7h1.45v1.45h-1.45zM349,537.7h1.45v1.45h-1.45zM350.3,537.7h1.45v1.45h-1.45zM351.6,537.7h1.45v1.45h-1.45zM359.4,537.7h1.45v1.45h-1.45zM360.7,537.7h1.45v1.45h-1.45zM362,537.7h1.45v1.45h-1.45zM367.2,537.7h1.45v1.45h-1.45zM341.2,539h1.45v1.45h-1.45zM342.5,539h1.45v1.45h-1.45zM345.1,539h1.45v1.45h-1.45zM350.3,539h1.45v1.45h-1.45zM351.6,539h1.45v1.45h-1.45zM352.9,539h1.45v1.45h-1.45zM360.7,539h1.45v1.45h-1.45zM362,539h1.45v1.45h-1.45zM365.9,539h1.45v1.45h-1.45zM367.2,539h1.45v1.45h-1.45zM342.5,540.3h1.45v1.45h-1.45zM343.8,540.3h1.45v1.45h-1.45zM345.1,540.3h1.45v1.45h-1.45zM346.4,540.3h1.45v1.45h-1.45zM347.7,540.3h1.45v1.45h-1.45zM350.3,540.3h1.45v1.45h-1.45zM351.6,540.3h1.45v1.45h-1.45zM352.9,540.3h1.45v1.45h-1.45zM354.2,540.3h1.45v1.45h-1.45zM358.1,540.3h1.45v1.45h-1.45zM359.4,540.3h1.45v1.45h-1.45zM360.7,540.3h1.45v1.45h-1.45zM362,540.3h1.45v1.45h-1.45zM367.2,540.3h1.45v1.45h-1.45zM342.5,541.6h1.45v1.45h-1.45zM343.8,541.6h1.45v1.45h-1.45zM345.1,541.6h1.45v1.45h-1.45zM346.4,541.6h1.45v1.45h-1.45zM347.7,541.6h1.45v1.45h-1.45zM349,541.6h1.45v1.45h-1.45zM352.9,541.6h1.45v1.45h-1.45zM354.2,541.6h1.45v1.45h-1.45zM355.5,541.6h1.45v1.45h-1.45zM356.8,541.6h1.45v1.45h-1.45zM360.7,541.6h1.45v1.45h-1.45zM365.9,541.6h1.45v1.45h-1.45zM367.2,541.6h1.45v1.45h-1.45zM346.4,542.9h1.45v1.45h-1.45zM352.9,542.9h1.45v1.45h-1.45zM356.8,542.9h1.45v1.45h-1.45zM364.6,542.9h1.45v1.45h-1.45zM365.9,542.9h1.45v1.45h-1.45zM367.2,542.9h1.45v1.45h-1.45zM351.6,544.2h1.45v1.45h-1.45zM356.8,544.2h1.45v1.45h-1.45zM367.2,544.2h1.45v1.45h-1.45zM351.6,545.5h1.45v1.45h-1.45zM367.2,545.5h1.45v1.45h-1.45zM350.3,546.8h1.45v1.45h-1.45zM351.6,546.8h1.45v1.45h-1.45zM352.9,546.8h1.45v1.45h-1.45zM354.2,546.8h1.45v1.45h-1.45zM365.9,546.8h1.45v1.45h-1.45zM367.2,546.8h1.45v1.45h-1.45zM351.6,548.1h1.45v1.45h-1.45zM352.9,548.1h1.45v1.45h-1.45zM365.9,548.1h1.45v1.45h-1.45zM367.2,548.1h1.45v1.45h-1.45zM352.9,549.4h1.45v1.45h-1.45zM367.2,549.4h1.45v1.45h-1.45zM352.9,550.7h1.45v1.45h-1.45zM365.9,550.7h1.45v1.45h-1.45zM351.6,552h1.45v1.45h-1.45zM352.9,552h1.45v1.45h-1.45zM356.8,552h1.45v1.45h-1.45zM364.6,552h1.45v1.45h-1.45zM365.9,552h1.45v1.45h-1.45zM354.2,553.3h1.45v1.45h-1.45zM355.5,553.3h1.45v1.45h-1.45zM356.8,553.3h1.45v1.45h-1.45zM358.1,553.3h1.45v1.45h-1.45zM359.4,553.3h1.45v1.45h-1.45zM360.7,553.3h1.45v1.45h-1.45zM362,553.3h1.45v1.45h-1.45zM363.3,553.3h1.45v1.45h-1.45zM364.6,553.3h1.45v1.45h-1.45zM356.8,554.6h1.45v1.45h-1.45zM358.1,554.6h1.45v1.45h-1.45zM359.4,554.6h1.45v1.45h-1.45zM360.7,554.6h1.45v1.45h-1.45zM362,554.6h1.45v1.45h-1.45z" fill="#3A36F2"/>
<path d="M358.1,541.6h1.45v1.45h-1.45zM359.4,541.6h1.45v1.45h-1.45zM354.2,542.9h1.45v1.45h-1.45zM355.5,542.9h1.45v1.45h-1.45zM358.1,542.9h1.45v1.45h-1.45zM360.7,542.9h1.45v1.45h-1.45zM362,542.9h1.45v1.45h-1.45zM363.3,542.9h1.45v1.45h-1.45zM352.9,544.2h1.45v1.45h-1.45zM355.5,544.2h1.45v1.45h-1.45zM358.1,544.2h1.45v1.45h-1.45zM365.9,544.2h1.45v1.45h-1.45zM352.9,545.5h1.45v1.45h-1.45zM354.2,545.5h1.45v1.45h-1.45zM355.5,545.5h1.45v1.45h-1.45zM356.8,545.5h1.45v1.45h-1.45zM364.6,545.5h1.45v1.45h-1.45zM365.9,545.5h1.45v1.45h-1.45zM355.5,546.8h1.45v1.45h-1.45zM364.6,546.8h1.45v1.45h-1.45zM354.2,548.1h1.45v1.45h-1.45zM355.5,548.1h1.45v1.45h-1.45zM364.6,548.1h1.45v1.45h-1.45zM355.5,549.4h1.45v1.45h-1.45zM356.8,549.4h1.45v1.45h-1.45zM362,549.4h1.45v1.45h-1.45zM365.9,549.4h1.45v1.45h-1.45zM355.5,550.7h1.45v1.45h-1.45zM356.8,550.7h1.45v1.45h-1.45zM362,550.7h1.45v1.45h-1.45zM363.3,550.7h1.45v1.45h-1.45zM364.6,550.7h1.45v1.45h-1.45zM354.2,552h1.45v1.45h-1.45zM355.5,552h1.45v1.45h-1.45zM358.1,552h1.45v1.45h-1.45zM360.7,552h1.45v1.45h-1.45zM362,552h1.45v1.45h-1.45zM363.3,552h1.45v1.45h-1.45z" fill="#1C8CF4"/>
<path d="M359.4,542.9h1.45v1.45h-1.45zM354.2,544.2h1.45v1.45h-1.45zM359.4,544.2h1.45v1.45h-1.45zM360.7,544.2h1.45v1.45h-1.45zM362,544.2h1.45v1.45h-1.45zM363.3,544.2h1.45v1.45h-1.45zM364.6,544.2h1.45v1.45h-1.45zM358.1,545.5h1.45v1.45h-1.45zM359.4,545.5h1.45v1.45h-1.45zM360.7,545.5h1.45v1.45h-1.45zM362,545.5h1.45v1.45h-1.45zM363.3,545.5h1.45v1.45h-1.45zM356.8,546.8h1.45v1.45h-1.45zM358.1,546.8h1.45v1.45h-1.45zM359.4,546.8h1.45v1.45h-1.45zM360.7,546.8h1.45v1.45h-1.45zM362,546.8h1.45v1.45h-1.45zM363.3,546.8h1.45v1.45h-1.45zM356.8,548.1h1.45v1.45h-1.45zM358.1,548.1h1.45v1.45h-1.45zM359.4,548.1h1.45v1.45h-1.45zM360.7,548.1h1.45v1.45h-1.45zM362,548.1h1.45v1.45h-1.45zM363.3,548.1h1.45v1.45h-1.45zM354.2,549.4h1.45v1.45h-1.45zM358.1,549.4h1.45v1.45h-1.45zM360.7,549.4h1.45v1.45h-1.45zM363.3,549.4h1.45v1.45h-1.45zM364.6,549.4h1.45v1.45h-1.45zM354.2,550.7h1.45v1.45h-1.45zM358.1,550.7h1.45v1.45h-1.45zM359.4,550.7h1.45v1.45h-1.45zM360.7,550.7h1.45v1.45h-1.45zM359.4,552h1.45v1.45h-1.45z" fill="#18C8E8"/>
<path d="M359.4,549.4h1.45v1.45h-1.45z" fill="#2EDC62"/>
</g>
<g filter="url(#hb0)">
<path d="M404.3,532.6h1.45v1.45h-1.45zM405.6,532.6h1.45v1.45h-1.45zM406.9,532.6h1.45v1.45h-1.45zM408.2,532.6h1.45v1.45h-1.45zM409.5,532.6h1.45v1.45h-1.45zM410.8,532.6h1.45v1.45h-1.45zM399.1,533.9h1.45v1.45h-1.45zM400.4,533.9h1.45v1.45h-1.45zM401.7,533.9h1.45v1.45h-1.45zM403,533.9h1.45v1.45h-1.45zM406.9,533.9h1.45v1.45h-1.45zM408.2,533.9h1.45v1.45h-1.45zM409.5,533.9h1.45v1.45h-1.45zM410.8,533.9h1.45v1.45h-1.45zM412.1,533.9h1.45v1.45h-1.45zM396.5,535.2h1.45v1.45h-1.45zM397.8,535.2h1.45v1.45h-1.45zM399.1,535.2h1.45v1.45h-1.45zM400.4,535.2h1.45v1.45h-1.45zM408.2,535.2h1.45v1.45h-1.45zM409.5,535.2h1.45v1.45h-1.45zM413.4,535.2h1.45v1.45h-1.45zM396.5,536.5h1.45v1.45h-1.45zM397.8,536.5h1.45v1.45h-1.45zM399.1,536.5h1.45v1.45h-1.45zM400.4,536.5h1.45v1.45h-1.45zM409.5,536.5h1.45v1.45h-1.45zM410.8,536.5h1.45v1.45h-1.45zM412.1,536.5h1.45v1.45h-1.45zM413.4,536.5h1.45v1.45h-1.45zM396.5,537.8h1.45v1.45h-1.45zM400.4,537.8h1.45v1.45h-1.45zM413.4,537.8h1.45v1.45h-1.45zM414.7,537.8h1.45v1.45h-1.45zM418.6,537.8h1.45v1.45h-1.45zM395.2,539.1h1.45v1.45h-1.45zM396.5,539.1h1.45v1.45h-1.45zM397.8,539.1h1.45v1.45h-1.45zM414.7,539.1h1.45v1.45h-1.45zM392.6,540.4h1.45v1.45h-1.45zM393.9,540.4h1.45v1.45h-1.45zM395.2,540.4h1.45v1.45h-1.45zM396.5,540.4h1.45v1.45h-1.45zM397.8,540.4h1.45v1.45h-1.45zM414.7,540.4h1.45v1.45h-1.45zM416,540.4h1.45v1.45h-1.45zM393.9,541.7h1.45v1.45h-1.45zM395.2,541.7h1.45v1.45h-1.45zM417.3,541.7h1.45v1.45h-1.45zM393.9,543h1.45v1.45h-1.45zM395.2,543h1.45v1.45h-1.45zM418.6,543h1.45v1.45h-1.45zM390,544.3h1.45v1.45h-1.45zM391.3,544.3h1.45v1.45h-1.45zM392.6,544.3h1.45v1.45h-1.45zM393.9,544.3h1.45v1.45h-1.45zM418.6,544.3h1.45v1.45h-1.45zM390,545.6h1.45v1.45h-1.45zM391.3,545.6h1.45v1.45h-1.45zM400.4,545.6h1.45v1.45h-1.45zM417.3,545.6h1.45v1.45h-1.45zM418.6,545.6h1.45v1.45h-1.45zM391.3,546.9h1.45v1.45h-1.45zM392.6,546.9h1.45v1.45h-1.45zM418.6,546.9h1.45v1.45h-1.45zM392.6,548.2h1.45v1.45h-1.45zM393.9,548.2h1.45v1.45h-1.45zM397.8,548.2h1.45v1.45h-1.45zM419.9,548.2h1.45v1.45h-1.45zM392.6,549.5h1.45v1.45h-1.45zM393.9,549.5h1.45v1.45h-1.45zM418.6,549.5h1.45v1.45h-1.45zM392.6,550.8h1.45v1.45h-1.45zM393.9,550.8h1.45v1.45h-1.45zM395.2,550.8h1.45v1.45h-1.45zM413.4,550.8h1.45v1.45h-1.45zM417.3,550.8h1.45v1.45h-1.45zM395.2,552.1h1.45v1.45h-1.45zM396.5,552.1h1.45v1.45h-1.45zM413.4,552.1h1.45v1.45h-1.45zM417.3,552.1h1.45v1.45h-1.45zM395.2,553.4h1.45v1.45h-1.45zM396.5,553.4h1.45v1.45h-1.45zM397.8,553.4h1.45v1.45h-1.45zM403,553.4h1.45v1.45h-1.45zM413.4,553.4h1.45v1.45h-1.45zM417.3,553.4h1.45v1.45h-1.45zM396.5,554.7h1.45v1.45h-1.45zM397.8,554.7h1.45v1.45h-1.45zM413.4,554.7h1.45v1.45h-1.45zM414.7,554.7h1.45v1.45h-1.45zM416,554.7h1.45v1.45h-1.45zM396.5,556h1.45v1.45h-1.45zM413.4,556h1.45v1.45h-1.45zM414.7,556h1.45v1.45h-1.45zM416,556h1.45v1.45h-1.45zM396.5,557.3h1.45v1.45h-1.45zM410.8,557.3h1.45v1.45h-1.45zM412.1,557.3h1.45v1.45h-1.45zM413.4,557.3h1.45v1.45h-1.45zM414.7,557.3h1.45v1.45h-1.45zM416,557.3h1.45v1.45h-1.45zM396.5,558.6h1.45v1.45h-1.45zM397.8,558.6h1.45v1.45h-1.45zM403,558.6h1.45v1.45h-1.45zM408.2,558.6h1.45v1.45h-1.45zM409.5,558.6h1.45v1.45h-1.45zM410.8,558.6h1.45v1.45h-1.45zM412.1,558.6h1.45v1.45h-1.45zM397.8,559.9h1.45v1.45h-1.45zM399.1,559.9h1.45v1.45h-1.45zM400.4,559.9h1.45v1.45h-1.45zM401.7,559.9h1.45v1.45h-1.45zM408.2,559.9h1.45v1.45h-1.45zM409.5,559.9h1.45v1.45h-1.45zM410.8,559.9h1.45v1.45h-1.45zM412.1,559.9h1.45v1.45h-1.45zM401.7,561.2h1.45v1.45h-1.45zM404.3,561.2h1.45v1.45h-1.45zM405.6,561.2h1.45v1.45h-1.45zM406.9,561.2h1.45v1.45h-1.45zM408.2,561.2h1.45v1.45h-1.45zM409.5,561.2h1.45v1.45h-1.45zM410.8,561.2h1.45v1.45h-1.45zM412.1,561.2h1.45v1.45h-1.45zM403,562.5h1.45v1.45h-1.45zM404.3,562.5h1.45v1.45h-1.45zM405.6,562.5h1.45v1.45h-1.45zM406.9,562.5h1.45v1.45h-1.45zM408.2,562.5h1.45v1.45h-1.45zM409.5,562.5h1.45v1.45h-1.45zM410.8,562.5h1.45v1.45h-1.45z" fill="#8E2CF2"/>
<path d="M404.3,533.9h1.45v1.45h-1.45zM405.6,533.9h1.45v1.45h-1.45zM401.7,535.2h1.45v1.45h-1.45zM403,535.2h1.45v1.45h-1.45zM404.3,535.2h1.45v1.45h-1.45zM405.6,535.2h1.45v1.45h-1.45zM406.9,535.2h1.45v1.45h-1.45zM401.7,536.5h1.45v1.45h-1.45zM403,536.5h1.45v1.45h-1.45zM404.3,536.5h1.45v1.45h-1.45zM405.6,536.5h1.45v1.45h-1.45zM406.9,536.5h1.45v1.45h-1.45zM408.2,536.5h1.45v1.45h-1.45zM397.8,537.8h1.45v1.45h-1.45zM399.1,537.8h1.45v1.45h-1.45zM401.7,537.8h1.45v1.45h-1.45zM403,537.8h1.45v1.45h-1.45zM404.3,537.8h1.45v1.45h-1.45zM405.6,537.8h1.45v1.45h-1.45zM406.9,537.8h1.45v1.45h-1.45zM408.2,537.8h1.45v1.45h-1.45zM409.5,537.8h1.45v1.45h-1.45zM410.8,537.8h1.45v1.45h-1.45zM412.1,537.8h1.45v1.45h-1.45zM399.1,539.1h1.45v1.45h-1.45zM400.4,539.1h1.45v1.45h-1.45zM401.7,539.1h1.45v1.45h-1.45zM403,539.1h1.45v1.45h-1.45zM404.3,539.1h1.45v1.45h-1.45zM405.6,539.1h1.45v1.45h-1.45zM406.9,539.1h1.45v1.45h-1.45zM408.2,539.1h1.45v1.45h-1.45zM409.5,539.1h1.45v1.45h-1.45zM410.8,539.1h1.45v1.45h-1.45zM412.1,539.1h1.45v1.45h-1.45zM413.4,539.1h1.45v1.45h-1.45zM399.1,540.4h1.45v1.45h-1.45zM401.7,540.4h1.45v1.45h-1.45zM403,540.4h1.45v1.45h-1.45zM404.3,540.4h1.45v1.45h-1.45zM405.6,540.4h1.45v1.45h-1.45zM406.9,540.4h1.45v1.45h-1.45zM408.2,540.4h1.45v1.45h-1.45zM409.5,540.4h1.45v1.45h-1.45zM410.8,540.4h1.45v1.45h-1.45zM412.1,540.4h1.45v1.45h-1.45zM413.4,540.4h1.45v1.45h-1.45zM396.5,541.7h1.45v1.45h-1.45zM397.8,541.7h1.45v1.45h-1.45zM399.1,541.7h1.45v1.45h-1.45zM403,541.7h1.45v1.45h-1.45zM404.3,541.7h1.45v1.45h-1.45zM408.2,541.7h1.45v1.45h-1.45zM409.5,541.7h1.45v1.45h-1.45zM410.8,541.7h1.45v1.45h-1.45zM412.1,541.7h1.45v1.45h-1.45zM413.4,541.7h1.45v1.45h-1.45zM414.7,541.7h1.45v1.45h-1.45zM416,541.7h1.45v1.45h-1.45zM396.5,543h1.45v1.45h-1.45zM403,543h1.45v1.45h-1.45zM408.2,543h1.45v1.45h-1.45zM409.5,543h1.45v1.45h-1.45zM410.8,543h1.45v1.45h-1.45zM412.1,543h1.45v1.45h-1.45zM413.4,543h1.45v1.45h-1.45zM417.3,543h1.45v1.45h-1.45zM395.2,544.3h1.45v1.45h-1.45zM396.5,544.3h1.45v1.45h-1.45zM400.4,544.3h1.45v1.45h-1.45zM401.7,544.3h1.45v1.45h-1.45zM403,544.3h1.45v1.45h-1.45zM408.2,544.3h1.45v1.45h-1.45zM409.5,544.3h1.45v1.45h-1.45zM410.8,544.3h1.45v1.45h-1.45zM412.1,544.3h1.45v1.45h-1.45zM413.4,544.3h1.45v1.45h-1.45zM414.7,544.3h1.45v1.45h-1.45zM416,544.3h1.45v1.45h-1.45zM417.3,544.3h1.45v1.45h-1.45zM392.6,545.6h1.45v1.45h-1.45zM393.9,545.6h1.45v1.45h-1.45zM395.2,545.6h1.45v1.45h-1.45zM396.5,545.6h1.45v1.45h-1.45zM399.1,545.6h1.45v1.45h-1.45zM401.7,545.6h1.45v1.45h-1.45zM403,545.6h1.45v1.45h-1.45zM406.9,545.6h1.45v1.45h-1.45zM408.2,545.6h1.45v1.45h-1.45zM409.5,545.6h1.45v1.45h-1.45zM410.8,545.6h1.45v1.45h-1.45zM412.1,545.6h1.45v1.45h-1.45zM414.7,545.6h1.45v1.45h-1.45zM416,545.6h1.45v1.45h-1.45zM393.9,546.9h1.45v1.45h-1.45zM395.2,546.9h1.45v1.45h-1.45zM396.5,546.9h1.45v1.45h-1.45zM397.8,546.9h1.45v1.45h-1.45zM399.1,546.9h1.45v1.45h-1.45zM400.4,546.9h1.45v1.45h-1.45zM401.7,546.9h1.45v1.45h-1.45zM403,546.9h1.45v1.45h-1.45zM404.3,546.9h1.45v1.45h-1.45zM406.9,546.9h1.45v1.45h-1.45zM408.2,546.9h1.45v1.45h-1.45zM409.5,546.9h1.45v1.45h-1.45zM410.8,546.9h1.45v1.45h-1.45zM412.1,546.9h1.45v1.45h-1.45zM414.7,546.9h1.45v1.45h-1.45zM416,546.9h1.45v1.45h-1.45zM417.3,546.9h1.45v1.45h-1.45zM395.2,548.2h1.45v1.45h-1.45zM396.5,548.2h1.45v1.45h-1.45zM399.1,548.2h1.45v1.45h-1.45zM400.4,548.2h1.45v1.45h-1.45zM401.7,548.2h1.45v1.45h-1.45zM403,548.2h1.45v1.45h-1.45zM404.3,548.2h1.45v1.45h-1.45zM405.6,548.2h1.45v1.45h-1.45zM406.9,548.2h1.45v1.45h-1.45zM408.2,548.2h1.45v1.45h-1.45zM409.5,548.2h1.45v1.45h-1.45zM410.8,548.2h1.45v1.45h-1.45zM412.1,548.2h1.45v1.45h-1.45zM416,548.2h1.45v1.45h-1.45zM417.3,548.2h1.45v1.45h-1.45zM418.6,548.2h1.45v1.45h-1.45zM395.2,549.5h1.45v1.45h-1.45zM396.5,549.5h1.45v1.45h-1.45zM397.8,549.5h1.45v1.45h-1.45zM399.1,549.5h1.45v1.45h-1.45zM400.4,549.5h1.45v1.45h-1.45zM401.7,549.5h1.45v1.45h-1.45zM403,549.5h1.45v1.45h-1.45zM404.3,549.5h1.45v1.45h-1.45zM405.6,549.5h1.45v1.45h-1.45zM406.9,549.5h1.45v1.45h-1.45zM408.2,549.5h1.45v1.45h-1.45zM409.5,549.5h1.45v1.45h-1.45zM410.8,549.5h1.45v1.45h-1.45zM412.1,549.5h1.45v1.45h-1.45zM413.4,549.5h1.45v1.45h-1.45zM414.7,549.5h1.45v1.45h-1.45zM416,549.5h1.45v1.45h-1.45zM417.3,549.5h1.45v1.45h-1.45zM396.5,550.8h1.45v1.45h-1.45zM397.8,550.8h1.45v1.45h-1.45zM403,550.8h1.45v1.45h-1.45zM404.3,550.8h1.45v1.45h-1.45zM405.6,550.8h1.45v1.45h-1.45zM406.9,550.8h1.45v1.45h-1.45zM408.2,550.8h1.45v1.45h-1.45zM409.5,550.8h1.45v1.45h-1.45zM410.8,550.8h1.45v1.45h-1.45zM412.1,550.8h1.45v1.45h-1.45zM414.7,550.8h1.45v1.45h-1.45zM416,550.8h1.45v1.45h-1.45zM397.8,552.1h1.45v1.45h-1.45zM399.1,552.1h1.45v1.45h-1.45zM401.7,552.1h1.45v1.45h-1.45zM403,552.1h1.45v1.45h-1.45zM404.3,552.1h1.45v1.45h-1.45zM405.6,552.1h1.45v1.45h-1.45zM406.9,552.1h1.45v1.45h-1.45zM410.8,552.1h1.45v1.45h-1.45zM412.1,552.1h1.45v1.45h-1.45zM414.7,552.1h1.45v1.45h-1.45zM416,552.1h1.45v1.45h-1.45zM399.1,553.4h1.45v1.45h-1.45zM401.7,553.4h1.45v1.45h-1.45zM404.3,553.4h1.45v1.45h-1.45zM412.1,553.4h1.45v1.45h-1.45zM414.7,553.4h1.45v1.45h-1.45zM416,553.4h1.45v1.45h-1.45zM399.1,554.7h1.45v1.45h-1.45zM401.7,554.7h1.45v1.45h-1.45zM403,554.7h1.45v1.45h-1.45zM404.3,554.7h1.45v1.45h-1.45zM405.6,554.7h1.45v1.45h-1.45zM410.8,554.7h1.45v1.45h-1.45zM412.1,554.7h1.45v1.45h-1.45zM397.8,556h1.45v1.45h-1.45zM399.1,556h1.45v1.45h-1.45zM400.4,556h1.45v1.45h-1.45zM401.7,556h1.45v1.45h-1.45zM403,556h1.45v1.45h-1.45zM404.3,556h1.45v1.45h-1.45zM405.6,556h1.45v1.45h-1.45zM406.9,556h1.45v1.45h-1.45zM409.5,556h1.45v1.45h-1.45zM410.8,556h1.45v1.45h-1.45zM412.1,556h1.45v1.45h-1.45zM397.8,557.3h1.45v1.45h-1.45zM399.1,557.3h1.45v1.45h-1.45zM400.4,557.3h1.45v1.45h-1.45zM401.7,557.3h1.45v1.45h-1.45zM403,557.3h1.45v1.45h-1.45zM404.3,557.3h1.45v1.45h-1.45zM405.6,557.3h1.45v1.45h-1.45zM406.9,557.3h1.45v1.45h-1.45zM408.2,557.3h1.45v1.45h-1.45zM409.5,557.3h1.45v1.45h-1.45zM399.1,558.6h1.45v1.45h-1.45zM400.4,558.6h1.45v1.45h-1.45zM401.7,558.6h1.45v1.45h-1.45zM404.3,558.6h1.45v1.45h-1.45zM405.6,558.6h1.45v1.45h-1.45zM406.9,558.6h1.45v1.45h-1.45zM403,559.9h1.45v1.45h-1.45zM404.3,559.9h1.45v1.45h-1.45zM405.6,559.9h1.45v1.45h-1.45zM406.9,559.9h1.45v1.45h-1.45zM403,561.2h1.45v1.45h-1.45z" fill="#3A36F2"/>
<path d="M400.4,540.4h1.45v1.45h-1.45zM400.4,541.7h1.45v1.45h-1.45zM401.7,541.7h1.45v1.45h-1.45zM405.6,541.7h1.45v1.45h-1.45zM406.9,541.7h1.45v1.45h-1.45zM397.8,543h1.45v1.45h-1.45zM399.1,543h1.45v1.45h-1.45zM400.4,543h1.45v1.45h-1.45zM401.7,543h1.45v1.45h-1.45zM404.3,543h1.45v1.45h-1.45zM405.6,543h1.45v1.45h-1.45zM406.9,543h1.45v1.45h-1.45zM414.7,543h1.45v1.45h-1.45zM416,543h1.45v1.45h-1.45zM397.8,544.3h1.45v1.45h-1.45zM399.1,544.3h1.45v1.45h-1.45zM404.3,544.3h1.45v1.45h-1.45zM405.6,544.3h1.45v1.45h-1.45zM406.9,544.3h1.45v1.45h-1.45zM397.8,545.6h1.45v1.45h-1.45zM404.3,545.6h1.45v1.45h-1.45zM405.6,545.6h1.45v1.45h-1.45zM413.4,545.6h1.45v1.45h-1.45zM405.6,546.9h1.45v1.45h-1.45zM413.4,546.9h1.45v1.45h-1.45zM413.4,548.2h1.45v1.45h-1.45zM414.7,548.2h1.45v1.45h-1.45zM399.1,550.8h1.45v1.45h-1.45zM400.4,550.8h1.45v1.45h-1.45zM401.7,550.8h1.45v1.45h-1.45zM400.4,552.1h1.45v1.45h-1.45zM408.2,552.1h1.45v1.45h-1.45zM409.5,552.1h1.45v1.45h-1.45zM400.4,553.4h1.45v1.45h-1.45zM405.6,553.4h1.45v1.45h-1.45zM406.9,553.4h1.45v1.45h-1.45zM409.5,553.4h1.45v1.45h-1.45zM410.8,553.4h1.45v1.45h-1.45zM400.4,554.7h1.45v1.45h-1.45zM406.9,554.7h1.45v1.45h-1.45zM408.2,554.7h1.45v1.45h-1.45zM409.5,554.7h1.45v1.45h-1.45zM408.2,556h1.45v1.45h-1.45z" fill="#1C8CF4"/>
<path d="M408.2,553.4h1.45v1.45h-1.45z" fill="#18C8E8"/>
</g>
<g filter="url(#hb0)">
<path d="M345.5,572.9h1.45v1.45h-1.45zM346.8,572.9h1.45v1.45h-1.45zM348.1,572.9h1.45v1.45h-1.45zM349.4,572.9h1.45v1.45h-1.45zM350.7,572.9h1.45v1.45h-1.45zM352,572.9h1.45v1.45h-1.45zM353.3,572.9h1.45v1.45h-1.45zM357.2,572.9h1.45v1.45h-1.45zM339,574.2h1.45v1.45h-1.45zM340.3,574.2h1.45v1.45h-1.45zM344.2,574.2h1.45v1.45h-1.45zM352,574.2h1.45v1.45h-1.45zM353.3,574.2h1.45v1.45h-1.45zM355.9,574.2h1.45v1.45h-1.45zM357.2,574.2h1.45v1.45h-1.45zM358.5,574.2h1.45v1.45h-1.45zM359.8,574.2h1.45v1.45h-1.45zM362.4,574.2h1.45v1.45h-1.45zM336.4,575.5h1.45v1.45h-1.45zM354.6,575.5h1.45v1.45h-1.45zM362.4,575.5h1.45v1.45h-1.45zM335.1,576.8h1.45v1.45h-1.45zM361.1,576.8h1.45v1.45h-1.45zM333.8,578.1h1.45v1.45h-1.45zM335.1,578.1h1.45v1.45h-1.45zM363.7,578.1h1.45v1.45h-1.45zM333.8,579.4h1.45v1.45h-1.45zM365,579.4h1.45v1.45h-1.45zM333.8,580.7h1.45v1.45h-1.45zM366.3,580.7h1.45v1.45h-1.45zM366.3,582h1.45v1.45h-1.45zM367.6,582h1.45v1.45h-1.45zM332.5,584.6h1.45v1.45h-1.45zM368.9,584.6h1.45v1.45h-1.45zM368.9,585.9h1.45v1.45h-1.45zM331.2,587.2h1.45v1.45h-1.45zM368.9,587.2h1.45v1.45h-1.45zM329.9,588.5h1.45v1.45h-1.45zM329.9,589.8h1.45v1.45h-1.45zM367.6,589.8h1.45v1.45h-1.45zM331.2,591.1h1.45v1.45h-1.45zM368.9,591.1h1.45v1.45h-1.45zM368.9,592.4h1.45v1.45h-1.45zM368.9,593.7h1.45v1.45h-1.45zM331.2,595h1.45v1.45h-1.45zM368.9,595h1.45v1.45h-1.45zM370.2,595h1.45v1.45h-1.45zM329.9,596.3h1.45v1.45h-1.45zM368.9,596.3h1.45v1.45h-1.45zM370.2,596.3h1.45v1.45h-1.45zM329.9,597.6h1.45v1.45h-1.45zM368.9,597.6h1.45v1.45h-1.45zM370.2,597.6h1.45v1.45h-1.45zM371.5,597.6h1.45v1.45h-1.45zM329.9,598.9h1.45v1.45h-1.45zM367.6,598.9h1.45v1.45h-1.45zM368.9,598.9h1.45v1.45h-1.45zM331.2,600.2h1.45v1.45h-1.45zM332.5,600.2h1.45v1.45h-1.45zM335.1,600.2h1.45v1.45h-1.45zM336.4,600.2h1.45v1.45h-1.45zM367.6,600.2h1.45v1.45h-1.45zM332.5,601.5h1.45v1.45h-1.45zM333.8,601.5h1.45v1.45h-1.45zM335.1,601.5h1.45v1.45h-1.45zM336.4,601.5h1.45v1.45h-1.45zM365,601.5h1.45v1.45h-1.45zM366.3,601.5h1.45v1.45h-1.45zM367.6,601.5h1.45v1.45h-1.45zM335.1,602.8h1.45v1.45h-1.45zM336.4,602.8h1.45v1.45h-1.45zM337.7,602.8h1.45v1.45h-1.45zM339,602.8h1.45v1.45h-1.45zM366.3,602.8h1.45v1.45h-1.45zM367.6,602.8h1.45v1.45h-1.45zM339,604.1h1.45v1.45h-1.45zM340.3,604.1h1.45v1.45h-1.45zM341.6,604.1h1.45v1.45h-1.45zM359.8,604.1h1.45v1.45h-1.45zM363.7,604.1h1.45v1.45h-1.45zM365,604.1h1.45v1.45h-1.45zM366.3,604.1h1.45v1.45h-1.45zM339,605.4h1.45v1.45h-1.45zM340.3,605.4h1.45v1.45h-1.45zM344.2,605.4h1.45v1.45h-1.45zM358.5,605.4h1.45v1.45h-1.45zM361.1,605.4h1.45v1.45h-1.45zM362.4,605.4h1.45v1.45h-1.45zM363.7,605.4h1.45v1.45h-1.45zM365,605.4h1.45v1.45h-1.45zM341.6,606.7h1.45v1.45h-1.45zM342.9,606.7h1.45v1.45h-1.45zM355.9,606.7h1.45v1.45h-1.45zM357.2,606.7h1.45v1.45h-1.45zM358.5,606.7h1.45v1.45h-1.45zM342.9,608h1.45v1.45h-1.45zM345.5,608h1.45v1.45h-1.45zM352,608h1.45v1.45h-1.45zM353.3,608h1.45v1.45h-1.45zM354.6,608h1.45v1.45h-1.45zM355.9,608h1.45v1.45h-1.45zM357.2,608h1.45v1.45h-1.45zM358.5,608h1.45v1.45h-1.45zM341.6,609.3h1.45v1.45h-1.45zM342.9,609.3h1.45v1.45h-1.45zM345.5,609.3h1.45v1.45h-1.45zM346.8,609.3h1.45v1.45h-1.45zM348.1,609.3h1.45v1.45h-1.45zM349.4,609.3h1.45v1.45h-1.45zM350.7,609.3h1.45v1.45h-1.45zM352,609.3h1.45v1.45h-1.45zM353.3,609.3h1.45v1.45h-1.45zM354.6,609.3h1.45v1.45h-1.45zM355.9,609.3h1.45v1.45h-1.45zM344.2,610.6h1.45v1.45h-1.45zM353.3,610.6h1.45v1.45h-1.45zM354.6,610.6h1.45v1.45h-1.45z" fill="#8E2CF2"/>
<path d="M345.5,574.2h1.45v1.45h-1.45zM349.4,574.2h1.45v1.45h-1.45zM350.7,574.2h1.45v1.45h-1.45zM361.1,574.2h1.45v1.45h-1.45zM337.7,575.5h1.45v1.45h-1.45zM339,575.5h1.45v1.45h-1.45zM340.3,575.5h1.45v1.45h-1.45zM341.6,575.5h1.45v1.45h-1.45zM342.9,575.5h1.45v1.45h-1.45zM344.2,575.5h1.45v1.45h-1.45zM353.3,575.5h1.45v1.45h-1.45zM355.9,575.5h1.45v1.45h-1.45zM358.5,575.5h1.45v1.45h-1.45zM359.8,575.5h1.45v1.45h-1.45zM361.1,575.5h1.45v1.45h-1.45zM336.4,576.8h1.45v1.45h-1.45zM354.6,576.8h1.45v1.45h-1.45zM359.8,576.8h1.45v1.45h-1.45zM336.4,578.1h1.45v1.45h-1.45zM359.8,578.1h1.45v1.45h-1.45zM361.1,578.1h1.45v1.45h-1.45zM362.4,578.1h1.45v1.45h-1.45zM335.1,579.4h1.45v1.45h-1.45zM336.4,579.4h1.45v1.45h-1.45zM337.7,579.4h1.45v1.45h-1.45zM362.4,579.4h1.45v1.45h-1.45zM363.7,579.4h1.45v1.45h-1.45zM335.1,580.7h1.45v1.45h-1.45zM336.4,580.7h1.45v1.45h-1.45zM362.4,580.7h1.45v1.45h-1.45zM363.7,580.7h1.45v1.45h-1.45zM365,580.7h1.45v1.45h-1.45zM333.8,582h1.45v1.45h-1.45zM335.1,582h1.45v1.45h-1.45zM363.7,582h1.45v1.45h-1.45zM365,582h1.45v1.45h-1.45zM333.8,583.3h1.45v1.45h-1.45zM335.1,583.3h1.45v1.45h-1.45zM366.3,583.3h1.45v1.45h-1.45zM367.6,583.3h1.45v1.45h-1.45zM333.8,584.6h1.45v1.45h-1.45zM367.6,584.6h1.45v1.45h-1.45zM332.5,585.9h1.45v1.45h-1.45zM367.6,585.9h1.45v1.45h-1.45zM332.5,587.2h1.45v1.45h-1.45zM367.6,587.2h1.45v1.45h-1.45zM331.2,588.5h1.45v1.45h-1.45zM332.5,588.5h1.45v1.45h-1.45zM367.6,588.5h1.45v1.45h-1.45zM331.2,589.8h1.45v1.45h-1.45zM332.5,589.8h1.45v1.45h-1.45zM333.8,589.8h1.45v1.45h-1.45zM332.5,591.1h1.45v1.45h-1.45zM367.6,591.1h1.45v1.45h-1.45zM332.5,592.4h1.45v1.45h-1.45zM365,592.4h1.45v1.45h-1.45zM366.3,592.4h1.45v1.45h-1.45zM332.5,593.7h1.45v1.45h-1.45zM365,593.7h1.45v1.45h-1.45zM366.3,593.7h1.45v1.45h-1.45zM367.6,593.7h1.45v1.45h-1.45zM332.5,595h1.45v1.45h-1.45zM367.6,595h1.45v1.45h-1.45zM331.2,596.3h1.45v1.45h-1.45zM366.3,596.3h1.45v1.45h-1.45zM367.6,596.3h1.45v1.45h-1.45zM366.3,597.6h1.45v1.45h-1.45zM367.6,597.6h1.45v1.45h-1.45zM331.2,598.9h1.45v1.45h-1.45zM332.5,598.9h1.45v1.45h-1.45zM333.8,598.9h1.45v1.45h-1.45zM335.1,598.9h1.45v1.45h-1.45zM336.4,598.9h1.45v1.45h-1.45zM366.3,598.9h1.45v1.45h-1.45zM337.7,600.2h1.45v1.45h-1.45zM365,600.2h1.45v1.45h-1.45zM366.3,600.2h1.45v1.45h-1.45zM337.7,601.5h1.45v1.45h-1.45zM339,601.5h1.45v1.45h-1.45zM340.3,602.8h1.45v1.45h-1.45zM341.6,602.8h1.45v1.45h-1.45zM359.8,602.8h1.45v1.45h-1.45zM363.7,602.8h1.45v1.45h-1.45zM342.9,604.1h1.45v1.45h-1.45zM358.5,604.1h1.45v1.45h-1.45zM361.1,604.1h1.45v1.45h-1.45zM362.4,604.1h1.45v1.45h-1.45zM345.5,605.4h1.45v1.45h-1.45zM354.6,605.4h1.45v1.45h-1.45zM355.9,605.4h1.45v1.45h-1.45zM357.2,605.4h1.45v1.45h-1.45zM345.5,606.7h1.45v1.45h-1.45zM348.1,606.7h1.45v1.45h-1.45zM349.4,606.7h1.45v1.45h-1.45zM350.7,606.7h1.45v1.45h-1.45zM352,606.7h1.45v1.45h-1.45zM353.3,606.7h1.45v1.45h-1.45zM354.6,606.7h1.45v1.45h-1.45zM341.6,608h1.45v1.45h-1.45zM346.8,608h1.45v1.45h-1.45zM348.1,608h1.45v1.45h-1.45zM349.4,608h1.45v1.45h-1.45zM350.7,608h1.45v1.45h-1.45z" fill="#3A36F2"/>
<path d="M346.8,574.2h1.45v1.45h-1.45zM348.1,574.2h1.45v1.45h-1.45zM345.5,575.5h1.45v1.45h-1.45zM346.8,575.5h1.45v1.45h-1.45zM352,575.5h1.45v1.45h-1.45zM357.2,575.5h1.45v1.45h-1.45zM337.7,576.8h1.45v1.45h-1.45zM355.9,576.8h1.45v1.45h-1.45zM358.5,576.8h1.45v1.45h-1.45zM337.7,578.1h1.45v1.45h-1.45zM339,579.4h1.45v1.45h-1.45zM359.8,579.4h1.45v1.45h-1.45zM361.1,579.4h1.45v1.45h-1.45zM337.7,580.7h1.45v1.45h-1.45zM361.1,580.7h1.45v1.45h-1.45zM336.4,582h1.45v1.45h-1.45zM362.4,582h1.45v1.45h-1.45zM336.4,583.3h1.45v1.45h-1.45zM362.4,583.3h1.45v1.45h-1.45zM363.7,583.3h1.45v1.45h-1.45zM365,583.3h1.45v1.45h-1.45zM335.1,584.6h1.45v1.45h-1.45zM336.4,584.6h1.45v1.45h-1.45zM337.7,584.6h1.45v1.45h-1.45zM339,584.6h1.45v1.45h-1.45zM362.4,584.6h1.45v1.45h-1.45zM366.3,584.6h1.45v1.45h-1.45zM333.8,585.9h1.45v1.45h-1.45zM335.1,585.9h1.45v1.45h-1.45zM336.4,585.9h1.45v1.45h-1.45zM362.4,585.9h1.45v1.45h-1.45zM336.4,587.2h1.45v1.45h-1.45zM333.8,588.5h1.45v1.45h-1.45zM366.3,588.5h1.45v1.45h-1.45zM366.3,589.8h1.45v1.45h-1.45zM333.8,591.1h1.45v1.45h-1.45zM365,591.1h1.45v1.45h-1.45zM366.3,591.1h1.45v1.45h-1.45zM333.8,592.4h1.45v1.45h-1.45zM335.1,592.4h1.45v1.45h-1.45zM336.4,592.4h1.45v1.45h-1.45zM362.4,592.4h1.45v1.45h-1.45zM363.7,592.4h1.45v1.45h-1.45zM367.6,592.4h1.45v1.45h-1.45zM333.8,593.7h1.45v1.45h-1.45zM362.4,593.7h1.45v1.45h-1.45zM363.7,593.7h1.45v1.45h-1.45zM362.4,595h1.45v1.45h-1.45zM363.7,595h1.45v1.45h-1.45zM365,595h1.45v1.45h-1.45zM366.3,595h1.45v1.45h-1.45zM332.5,596.3h1.45v1.45h-1.45zM333.8,596.3h1.45v1.45h-1.45zM365,596.3h1.45v1.45h-1.45zM331.2,597.6h1.45v1.45h-1.45zM332.5,597.6h1.45v1.45h-1.45zM333.8,597.6h1.45v1.45h-1.45zM335.1,597.6h1.45v1.45h-1.45zM365,597.6h1.45v1.45h-1.45zM337.7,598.9h1.45v1.45h-1.45zM365,598.9h1.45v1.45h-1.45zM339,600.2h1.45v1.45h-1.45zM359.8,600.2h1.45v1.45h-1.45zM340.3,601.5h1.45v1.45h-1.45zM359.8,601.5h1.45v1.45h-1.45zM363.7,601.5h1.45v1.45h-1.45zM346.8,602.8h1.45v1.45h-1.45zM348.1,602.8h1.45v1.45h-1.45zM361.1,602.8h1.45v1.45h-1.45zM344.2,604.1h1.45v1.45h-1.45zM345.5,604.1h1.45v1.45h-1.45zM348.1,604.1h1.45v1.45h-1.45zM349.4,604.1h1.45v1.45h-1.45zM354.6,604.1h1.45v1.45h-1.45zM355.9,604.1h1.45v1.45h-1.45zM357.2,604.1h1.45v1.45h-1.45zM348.1,605.4h1.45v1.45h-1.45zM349.4,605.4h1.45v1.45h-1.45zM353.3,605.4h1.45v1.45h-1.45zM346.8,606.7h1.45v1.45h-1.45z" fill="#1C8CF4"/>
<path d="M348.1,575.5h1.45v1.45h-1.45zM349.4,575.5h1.45v1.45h-1.45zM350.7,575.5h1.45v1.45h-1.45zM339,576.8h1.45v1.45h-1.45zM340.3,576.8h1.45v1.45h-1.45zM341.6,576.8h1.45v1.45h-1.45zM342.9,576.8h1.45v1.45h-1.45zM344.2,576.8h1.45v1.45h-1.45zM345.5,576.8h1.45v1.45h-1.45zM346.8,576.8h1.45v1.45h-1.45zM353.3,576.8h1.45v1.45h-1.45zM357.2,576.8h1.45v1.45h-1.45zM339,578.1h1.45v1.45h-1.45zM340.3,578.1h1.45v1.45h-1.45zM341.6,578.1h1.45v1.45h-1.45zM342.9,578.1h1.45v1.45h-1.45zM344.2,578.1h1.45v1.45h-1.45zM345.5,578.1h1.45v1.45h-1.45zM346.8,578.1h1.45v1.45h-1.45zM358.5,578.1h1.45v1.45h-1.45zM340.3,579.4h1.45v1.45h-1.45zM342.9,579.4h1.45v1.45h-1.45zM344.2,579.4h1.45v1.45h-1.45zM345.5,579.4h1.45v1.45h-1.45zM346.8,579.4h1.45v1.45h-1.45zM358.5,579.4h1.45v1.45h-1.45zM339,580.7h1.45v1.45h-1.45zM344.2,580.7h1.45v1.45h-1.45zM358.5,580.7h1.45v1.45h-1.45zM359.8,580.7h1.45v1.45h-1.45zM337.7,582h1.45v1.45h-1.45zM344.2,582h1.45v1.45h-1.45zM349.4,582h1.45v1.45h-1.45zM357.2,582h1.45v1.45h-1.45zM361.1,582h1.45v1.45h-1.45zM337.7,583.3h1.45v1.45h-1.45zM339,583.3h1.45v1.45h-1.45zM361.1,583.3h1.45v1.45h-1.45zM363.7,584.6h1.45v1.45h-1.45zM365,584.6h1.45v1.45h-1.45zM337.7,585.9h1.45v1.45h-1.45zM339,585.9h1.45v1.45h-1.45zM363.7,585.9h1.45v1.45h-1.45zM366.3,585.9h1.45v1.45h-1.45zM335.1,587.2h1.45v1.45h-1.45zM337.7,587.2h1.45v1.45h-1.45zM357.2,587.2h1.45v1.45h-1.45zM358.5,587.2h1.45v1.45h-1.45zM359.8,587.2h1.45v1.45h-1.45zM361.1,587.2h1.45v1.45h-1.45zM362.4,587.2h1.45v1.45h-1.45zM366.3,587.2h1.45v1.45h-1.45zM335.1,588.5h1.45v1.45h-1.45zM357.2,588.5h1.45v1.45h-1.45zM362.4,588.5h1.45v1.45h-1.45zM335.1,589.8h1.45v1.45h-1.45zM341.6,589.8h1.45v1.45h-1.45zM357.2,589.8h1.45v1.45h-1.45zM335.1,591.1h1.45v1.45h-1.45zM362.4,591.1h1.45v1.45h-1.45zM363.7,591.1h1.45v1.45h-1.45zM361.1,592.4h1.45v1.45h-1.45zM335.1,593.7h1.45v1.45h-1.45zM336.4,593.7h1.45v1.45h-1.45zM333.8,595h1.45v1.45h-1.45zM352,595h1.45v1.45h-1.45zM335.1,596.3h1.45v1.45h-1.45zM362.4,596.3h1.45v1.45h-1.45zM363.7,596.3h1.45v1.45h-1.45zM336.4,597.6h1.45v1.45h-1.45zM337.7,597.6h1.45v1.45h-1.45zM339,597.6h1.45v1.45h-1.45zM340.3,597.6h1.45v1.45h-1.45zM363.7,597.6h1.45v1.45h-1.45zM339,598.9h1.45v1.45h-1.45zM359.8,598.9h1.45v1.45h-1.45zM363.7,598.9h1.45v1.45h-1.45zM353.3,600.2h1.45v1.45h-1.45zM354.6,600.2h1.45v1.45h-1.45zM358.5,600.2h1.45v1.45h-1.45zM361.1,600.2h1.45v1.45h-1.45zM363.7,600.2h1.45v1.45h-1.45zM358.5,601.5h1.45v1.45h-1.45zM361.1,601.5h1.45v1.45h-1.45zM362.4,601.5h1.45v1.45h-1.45zM342.9,602.8h1.45v1.45h-1.45zM349.4,602.8h1.45v1.45h-1.45zM350.7,602.8h1.45v1.45h-1.45zM352,602.8h1.45v1.45h-1.45zM353.3,602.8h1.45v1.45h-1.45zM354.6,602.8h1.45v1.45h-1.45zM358.5,602.8h1.45v1.45h-1.45zM362.4,602.8h1.45v1.45h-1.45zM346.8,604.1h1.45v1.45h-1.45zM350.7,604.1h1.45v1.45h-1.45zM352,604.1h1.45v1.45h-1.45zM353.3,604.1h1.45v1.45h-1.45zM346.8,605.4h1.45v1.45h-1.45zM350.7,605.4h1.45v1.45h-1.45zM352,605.4h1.45v1.45h-1.45z" fill="#18C8E8"/>
<path d="M348.1,576.8h1.45v1.45h-1.45zM349.4,576.8h1.45v1.45h-1.45zM350.7,576.8h1.45v1.45h-1.45zM352,576.8h1.45v1.45h-1.45zM348.1,578.1h1.45v1.45h-1.45zM350.7,578.1h1.45v1.45h-1.45zM352,578.1h1.45v1.45h-1.45zM353.3,578.1h1.45v1.45h-1.45zM354.6,578.1h1.45v1.45h-1.45zM355.9,578.1h1.45v1.45h-1.45zM357.2,578.1h1.45v1.45h-1.45zM341.6,579.4h1.45v1.45h-1.45zM348.1,579.4h1.45v1.45h-1.45zM355.9,579.4h1.45v1.45h-1.45zM357.2,579.4h1.45v1.45h-1.45zM340.3,580.7h1.45v1.45h-1.45zM341.6,580.7h1.45v1.45h-1.45zM342.9,580.7h1.45v1.45h-1.45zM345.5,580.7h1.45v1.45h-1.45zM346.8,580.7h1.45v1.45h-1.45zM348.1,580.7h1.45v1.45h-1.45zM349.4,580.7h1.45v1.45h-1.45zM350.7,580.7h1.45v1.45h-1.45zM355.9,580.7h1.45v1.45h-1.45zM357.2,580.7h1.45v1.45h-1.45zM339,582h1.45v1.45h-1.45zM340.3,582h1.45v1.45h-1.45zM342.9,582h1.45v1.45h-1.45zM345.5,582h1.45v1.45h-1.45zM348.1,582h1.45v1.45h-1.45zM350.7,582h1.45v1.45h-1.45zM352,582h1.45v1.45h-1.45zM353.3,582h1.45v1.45h-1.45zM354.6,582h1.45v1.45h-1.45zM355.9,582h1.45v1.45h-1.45zM358.5,582h1.45v1.45h-1.45zM359.8,582h1.45v1.45h-1.45zM340.3,583.3h1.45v1.45h-1.45zM342.9,583.3h1.45v1.45h-1.45zM344.2,583.3h1.45v1.45h-1.45zM349.4,583.3h1.45v1.45h-1.45zM350.7,583.3h1.45v1.45h-1.45zM353.3,583.3h1.45v1.45h-1.45zM354.6,583.3h1.45v1.45h-1.45zM355.9,583.3h1.45v1.45h-1.45zM357.2,583.3h1.45v1.45h-1.45zM358.5,583.3h1.45v1.45h-1.45zM359.8,583.3h1.45v1.45h-1.45zM340.3,584.6h1.45v1.45h-1.45zM344.2,584.6h1.45v1.45h-1.45zM354.6,584.6h1.45v1.45h-1.45zM355.9,584.6h1.45v1.45h-1.45zM357.2,584.6h1.45v1.45h-1.45zM358.5,584.6h1.45v1.45h-1.45zM361.1,584.6h1.45v1.45h-1.45zM340.3,585.9h1.45v1.45h-1.45zM341.6,585.9h1.45v1.45h-1.45zM350.7,585.9h1.45v1.45h-1.45zM352,585.9h1.45v1.45h-1.45zM353.3,585.9h1.45v1.45h-1.45zM354.6,585.9h1.45v1.45h-1.45zM355.9,585.9h1.45v1.45h-1.45zM357.2,585.9h1.45v1.45h-1.45zM358.5,585.9h1.45v1.45h-1.45zM359.8,585.9h1.45v1.45h-1.45zM361.1,585.9h1.45v1.45h-1.45zM365,585.9h1.45v1.45h-1.45zM333.8,587.2h1.45v1.45h-1.45zM339,587.2h1.45v1.45h-1.45zM340.3,587.2h1.45v1.45h-1.45zM341.6,587.2h1.45v1.45h-1.45zM346.8,587.2h1.45v1.45h-1.45zM350.7,587.2h1.45v1.45h-1.45zM352,587.2h1.45v1.45h-1.45zM353.3,587.2h1.45v1.45h-1.45zM354.6,587.2h1.45v1.45h-1.45zM355.9,587.2h1.45v1.45h-1.45zM363.7,587.2h1.45v1.45h-1.45zM365,587.2h1.45v1.45h-1.45zM336.4,588.5h1.45v1.45h-1.45zM337.7,588.5h1.45v1.45h-1.45zM339,588.5h1.45v1.45h-1.45zM340.3,588.5h1.45v1.45h-1.45zM341.6,588.5h1.45v1.45h-1.45zM346.8,588.5h1.45v1.45h-1.45zM348.1,588.5h1.45v1.45h-1.45zM355.9,588.5h1.45v1.45h-1.45zM358.5,588.5h1.45v1.45h-1.45zM359.8,588.5h1.45v1.45h-1.45zM361.1,588.5h1.45v1.45h-1.45zM363.7,588.5h1.45v1.45h-1.45zM365,588.5h1.45v1.45h-1.45zM340.3,589.8h1.45v1.45h-1.45zM342.9,589.8h1.45v1.45h-1.45zM346.8,589.8h1.45v1.45h-1.45zM348.1,589.8h1.45v1.45h-1.45zM355.9,589.8h1.45v1.45h-1.45zM358.5,589.8h1.45v1.45h-1.45zM361.1,589.8h1.45v1.45h-1.45zM362.4,589.8h1.45v1.45h-1.45zM363.7,589.8h1.45v1.45h-1.45zM365,589.8h1.45v1.45h-1.45zM336.4,591.1h1.45v1.45h-1.45zM337.7,591.1h1.45v1.45h-1.45zM340.3,591.1h1.45v1.45h-1.45zM341.6,591.1h1.45v1.45h-1.45zM342.9,591.1h1.45v1.45h-1.45zM346.8,591.1h1.45v1.45h-1.45zM348.1,591.1h1.45v1.45h-1.45zM357.2,591.1h1.45v1.45h-1.45zM358.5,591.1h1.45v1.45h-1.45zM359.8,591.1h1.45v1.45h-1.45zM361.1,591.1h1.45v1.45h-1.45zM337.7,592.4h1.45v1.45h-1.45zM341.6,592.4h1.45v1.45h-1.45zM358.5,592.4h1.45v1.45h-1.45zM359.8,592.4h1.45v1.45h-1.45zM337.7,593.7h1.45v1.45h-1.45zM341.6,593.7h1.45v1.45h-1.45zM352,593.7h1.45v1.45h-1.45zM353.3,593.7h1.45v1.45h-1.45zM354.6,593.7h1.45v1.45h-1.45zM361.1,593.7h1.45v1.45h-1.45zM335.1,595h1.45v1.45h-1.45zM336.4,595h1.45v1.45h-1.45zM341.6,595h1.45v1.45h-1.45zM353.3,595h1.45v1.45h-1.45zM354.6,595h1.45v1.45h-1.45zM361.1,595h1.45v1.45h-1.45zM336.4,596.3h1.45v1.45h-1.45zM337.7,596.3h1.45v1.45h-1.45zM339,596.3h1.45v1.45h-1.45zM340.3,596.3h1.45v1.45h-1.45zM341.6,596.3h1.45v1.45h-1.45zM352,596.3h1.45v1.45h-1.45zM353.3,596.3h1.45v1.45h-1.45zM354.6,596.3h1.45v1.45h-1.45zM361.1,596.3h1.45v1.45h-1.45zM341.6,597.6h1.45v1.45h-1.45zM342.9,597.6h1.45v1.45h-1.45zM346.8,597.6h1.45v1.45h-1.45zM348.1,597.6h1.45v1.45h-1.45zM349.4,597.6h1.45v1.45h-1.45zM350.7,597.6h1.45v1.45h-1.45zM359.8,597.6h1.45v1.45h-1.45zM361.1,597.6h1.45v1.45h-1.45zM362.4,597.6h1.45v1.45h-1.45zM340.3,598.9h1.45v1.45h-1.45zM341.6,598.9h1.45v1.45h-1.45zM348.1,598.9h1.45v1.45h-1.45zM349.4,598.9h1.45v1.45h-1.45zM350.7,598.9h1.45v1.45h-1.45zM353.3,598.9h1.45v1.45h-1.45zM354.6,598.9h1.45v1.45h-1.45zM358.5,598.9h1.45v1.45h-1.45zM361.1,598.9h1.45v1.45h-1.45zM362.4,598.9h1.45v1.45h-1.45zM340.3,600.2h1.45v1.45h-1.45zM350.7,600.2h1.45v1.45h-1.45zM352,600.2h1.45v1.45h-1.45zM355.9,600.2h1.45v1.45h-1.45zM357.2,600.2h1.45v1.45h-1.45zM362.4,600.2h1.45v1.45h-1.45zM341.6,601.5h1.45v1.45h-1.45zM342.9,601.5h1.45v1.45h-1.45zM345.5,601.5h1.45v1.45h-1.45zM346.8,601.5h1.45v1.45h-1.45zM348.1,601.5h1.45v1.45h-1.45zM349.4,601.5h1.45v1.45h-1.45zM350.7,601.5h1.45v1.45h-1.45zM352,601.5h1.45v1.45h-1.45zM353.3,601.5h1.45v1.45h-1.45zM354.6,601.5h1.45v1.45h-1.45zM355.9,601.5h1.45v1.45h-1.45zM357.2,601.5h1.45v1.45h-1.45zM345.5,602.8h1.45v1.45h-1.45zM355.9,602.8h1.45v1.45h-1.45zM357.2,602.8h1.45v1.45h-1.45z" fill="#2EDC62"/>
<path d="M349.4,578.1h1.45v1.45h-1.45zM349.4,579.4h1.45v1.45h-1.45zM350.7,579.4h1.45v1.45h-1.45zM352,579.4h1.45v1.45h-1.45zM353.3,579.4h1.45v1.45h-1.45zM354.6,579.4h1.45v1.45h-1.45zM352,580.7h1.45v1.45h-1.45zM353.3,580.7h1.45v1.45h-1.45zM354.6,580.7h1.45v1.45h-1.45zM341.6,582h1.45v1.45h-1.45zM341.6,583.3h1.45v1.45h-1.45zM345.5,583.3h1.45v1.45h-1.45zM348.1,583.3h1.45v1.45h-1.45zM352,583.3h1.45v1.45h-1.45zM341.6,584.6h1.45v1.45h-1.45zM342.9,584.6h1.45v1.45h-1.45zM345.5,584.6h1.45v1.45h-1.45zM346.8,584.6h1.45v1.45h-1.45zM348.1,584.6h1.45v1.45h-1.45zM349.4,584.6h1.45v1.45h-1.45zM350.7,584.6h1.45v1.45h-1.45zM352,584.6h1.45v1.45h-1.45zM353.3,584.6h1.45v1.45h-1.45zM359.8,584.6h1.45v1.45h-1.45zM342.9,585.9h1.45v1.45h-1.45zM344.2,585.9h1.45v1.45h-1.45zM345.5,585.9h1.45v1.45h-1.45zM346.8,585.9h1.45v1.45h-1.45zM348.1,585.9h1.45v1.45h-1.45zM349.4,585.9h1.45v1.45h-1.45zM342.9,587.2h1.45v1.45h-1.45zM345.5,587.2h1.45v1.45h-1.45zM348.1,587.2h1.45v1.45h-1.45zM349.4,587.2h1.45v1.45h-1.45zM342.9,588.5h1.45v1.45h-1.45zM345.5,588.5h1.45v1.45h-1.45zM349.4,588.5h1.45v1.45h-1.45zM350.7,588.5h1.45v1.45h-1.45zM352,588.5h1.45v1.45h-1.45zM353.3,588.5h1.45v1.45h-1.45zM354.6,588.5h1.45v1.45h-1.45zM336.4,589.8h1.45v1.45h-1.45zM337.7,589.8h1.45v1.45h-1.45zM339,589.8h1.45v1.45h-1.45zM345.5,589.8h1.45v1.45h-1.45zM349.4,589.8h1.45v1.45h-1.45zM359.8,589.8h1.45v1.45h-1.45zM339,591.1h1.45v1.45h-1.45zM345.5,591.1h1.45v1.45h-1.45zM349.4,591.1h1.45v1.45h-1.45zM355.9,591.1h1.45v1.45h-1.45zM339,592.4h1.45v1.45h-1.45zM340.3,592.4h1.45v1.45h-1.45zM342.9,592.4h1.45v1.45h-1.45zM344.2,592.4h1.45v1.45h-1.45zM345.5,592.4h1.45v1.45h-1.45zM346.8,592.4h1.45v1.45h-1.45zM348.1,592.4h1.45v1.45h-1.45zM354.6,592.4h1.45v1.45h-1.45zM355.9,592.4h1.45v1.45h-1.45zM357.2,592.4h1.45v1.45h-1.45zM339,593.7h1.45v1.45h-1.45zM340.3,593.7h1.45v1.45h-1.45zM342.9,593.7h1.45v1.45h-1.45zM350.7,593.7h1.45v1.45h-1.45zM355.9,593.7h1.45v1.45h-1.45zM357.2,593.7h1.45v1.45h-1.45zM358.5,593.7h1.45v1.45h-1.45zM359.8,593.7h1.45v1.45h-1.45zM337.7,595h1.45v1.45h-1.45zM340.3,595h1.45v1.45h-1.45zM342.9,595h1.45v1.45h-1.45zM350.7,595h1.45v1.45h-1.45zM355.9,595h1.45v1.45h-1.45zM342.9,596.3h1.45v1.45h-1.45zM346.8,596.3h1.45v1.45h-1.45zM348.1,596.3h1.45v1.45h-1.45zM349.4,596.3h1.45v1.45h-1.45zM350.7,596.3h1.45v1.45h-1.45zM355.9,596.3h1.45v1.45h-1.45zM358.5,596.3h1.45v1.45h-1.45zM359.8,596.3h1.45v1.45h-1.45zM344.2,597.6h1.45v1.45h-1.45zM345.5,597.6h1.45v1.45h-1.45zM353.3,597.6h1.45v1.45h-1.45zM354.6,597.6h1.45v1.45h-1.45zM358.5,597.6h1.45v1.45h-1.45zM342.9,598.9h1.45v1.45h-1.45zM344.2,598.9h1.45v1.45h-1.45zM345.5,598.9h1.45v1.45h-1.45zM346.8,598.9h1.45v1.45h-1.45zM352,598.9h1.45v1.45h-1.45zM355.9,598.9h1.45v1.45h-1.45zM357.2,598.9h1.45v1.45h-1.45zM341.6,600.2h1.45v1.45h-1.45zM342.9,600.2h1.45v1.45h-1.45zM344.2,600.2h1.45v1.45h-1.45zM345.5,600.2h1.45v1.45h-1.45zM346.8,600.2h1.45v1.45h-1.45zM348.1,600.2h1.45v1.45h-1.45zM349.4,600.2h1.45v1.45h-1.45zM344.2,601.5h1.45v1.45h-1.45zM344.2,602.8h1.45v1.45h-1.45z" fill="#B6EE2A"/>
<path d="M346.8,582h1.45v1.45h-1.45zM346.8,583.3h1.45v1.45h-1.45zM344.2,587.2h1.45v1.45h-1.45zM344.2,588.5h1.45v1.45h-1.45zM344.2,589.8h1.45v1.45h-1.45zM350.7,589.8h1.45v1.45h-1.45zM352,589.8h1.45v1.45h-1.45zM344.2,591.1h1.45v1.45h-1.45zM349.4,592.4h1.45v1.45h-1.45zM350.7,592.4h1.45v1.45h-1.45zM352,592.4h1.45v1.45h-1.45zM353.3,592.4h1.45v1.45h-1.45zM344.2,593.7h1.45v1.45h-1.45zM345.5,593.7h1.45v1.45h-1.45zM346.8,593.7h1.45v1.45h-1.45zM348.1,593.7h1.45v1.45h-1.45zM349.4,593.7h1.45v1.45h-1.45zM339,595h1.45v1.45h-1.45zM344.2,595h1.45v1.45h-1.45zM357.2,595h1.45v1.45h-1.45zM358.5,595h1.45v1.45h-1.45zM359.8,595h1.45v1.45h-1.45zM344.2,596.3h1.45v1.45h-1.45zM345.5,596.3h1.45v1.45h-1.45zM357.2,596.3h1.45v1.45h-1.45zM352,597.6h1.45v1.45h-1.45zM355.9,597.6h1.45v1.45h-1.45z" fill="#F2D21E"/>
<path d="M353.3,589.8h1.45v1.45h-1.45zM350.7,591.1h1.45v1.45h-1.45zM352,591.1h1.45v1.45h-1.45zM353.3,591.1h1.45v1.45h-1.45zM354.6,591.1h1.45v1.45h-1.45zM345.5,595h1.45v1.45h-1.45zM346.8,595h1.45v1.45h-1.45zM348.1,595h1.45v1.45h-1.45zM349.4,595h1.45v1.45h-1.45zM357.2,597.6h1.45v1.45h-1.45z" fill="#F2801A"/>
<path d="M354.6,589.8h1.45v1.45h-1.45z" fill="#EE3A12"/>
</g>
<g filter="url(#hb0)">
<path d="M407,576.6h1.45v1.45h-1.45zM412.2,576.6h1.45v1.45h-1.45zM413.5,576.6h1.45v1.45h-1.45zM414.8,576.6h1.45v1.45h-1.45zM405.7,577.9h1.45v1.45h-1.45zM407,577.9h1.45v1.45h-1.45zM408.3,577.9h1.45v1.45h-1.45zM409.6,577.9h1.45v1.45h-1.45zM410.9,577.9h1.45v1.45h-1.45zM412.2,577.9h1.45v1.45h-1.45zM413.5,577.9h1.45v1.45h-1.45zM414.8,577.9h1.45v1.45h-1.45zM416.1,577.9h1.45v1.45h-1.45zM417.4,577.9h1.45v1.45h-1.45zM418.7,577.9h1.45v1.45h-1.45zM420,577.9h1.45v1.45h-1.45zM421.3,577.9h1.45v1.45h-1.45zM404.4,579.2h1.45v1.45h-1.45zM405.7,579.2h1.45v1.45h-1.45zM407,579.2h1.45v1.45h-1.45zM408.3,579.2h1.45v1.45h-1.45zM409.6,579.2h1.45v1.45h-1.45zM410.9,579.2h1.45v1.45h-1.45zM412.2,579.2h1.45v1.45h-1.45zM413.5,579.2h1.45v1.45h-1.45zM414.8,579.2h1.45v1.45h-1.45zM416.1,579.2h1.45v1.45h-1.45zM417.4,579.2h1.45v1.45h-1.45zM418.7,579.2h1.45v1.45h-1.45zM420,579.2h1.45v1.45h-1.45zM421.3,579.2h1.45v1.45h-1.45zM422.6,579.2h1.45v1.45h-1.45zM404.4,580.5h1.45v1.45h-1.45zM405.7,580.5h1.45v1.45h-1.45zM407,580.5h1.45v1.45h-1.45zM408.3,580.5h1.45v1.45h-1.45zM409.6,580.5h1.45v1.45h-1.45zM410.9,580.5h1.45v1.45h-1.45zM412.2,580.5h1.45v1.45h-1.45zM413.5,580.5h1.45v1.45h-1.45zM414.8,580.5h1.45v1.45h-1.45zM416.1,580.5h1.45v1.45h-1.45zM417.4,580.5h1.45v1.45h-1.45zM418.7,580.5h1.45v1.45h-1.45zM420,580.5h1.45v1.45h-1.45zM421.3,580.5h1.45v1.45h-1.45zM422.6,580.5h1.45v1.45h-1.45zM423.9,580.5h1.45v1.45h-1.45zM404.4,581.8h1.45v1.45h-1.45zM405.7,581.8h1.45v1.45h-1.45zM407,581.8h1.45v1.45h-1.45zM408.3,581.8h1.45v1.45h-1.45zM409.6,581.8h1.45v1.45h-1.45zM410.9,581.8h1.45v1.45h-1.45zM412.2,581.8h1.45v1.45h-1.45zM413.5,581.8h1.45v1.45h-1.45zM414.8,581.8h1.45v1.45h-1.45zM416.1,581.8h1.45v1.45h-1.45zM417.4,581.8h1.45v1.45h-1.45zM418.7,581.8h1.45v1.45h-1.45zM420,581.8h1.45v1.45h-1.45zM421.3,581.8h1.45v1.45h-1.45zM422.6,581.8h1.45v1.45h-1.45zM423.9,581.8h1.45v1.45h-1.45zM425.2,581.8h1.45v1.45h-1.45zM404.4,583.1h1.45v1.45h-1.45zM405.7,583.1h1.45v1.45h-1.45zM407,583.1h1.45v1.45h-1.45zM408.3,583.1h1.45v1.45h-1.45zM409.6,583.1h1.45v1.45h-1.45zM410.9,583.1h1.45v1.45h-1.45zM412.2,583.1h1.45v1.45h-1.45zM413.5,583.1h1.45v1.45h-1.45zM414.8,583.1h1.45v1.45h-1.45zM416.1,583.1h1.45v1.45h-1.45zM417.4,583.1h1.45v1.45h-1.45zM418.7,583.1h1.45v1.45h-1.45zM420,583.1h1.45v1.45h-1.45zM421.3,583.1h1.45v1.45h-1.45zM422.6,583.1h1.45v1.45h-1.45zM423.9,583.1h1.45v1.45h-1.45zM425.2,583.1h1.45v1.45h-1.45zM403.1,584.4h1.45v1.45h-1.45zM404.4,584.4h1.45v1.45h-1.45zM405.7,584.4h1.45v1.45h-1.45zM407,584.4h1.45v1.45h-1.45zM408.3,584.4h1.45v1.45h-1.45zM410.9,584.4h1.45v1.45h-1.45zM412.2,584.4h1.45v1.45h-1.45zM413.5,584.4h1.45v1.45h-1.45zM414.8,584.4h1.45v1.45h-1.45zM416.1,584.4h1.45v1.45h-1.45zM417.4,584.4h1.45v1.45h-1.45zM418.7,584.4h1.45v1.45h-1.45zM420,584.4h1.45v1.45h-1.45zM421.3,584.4h1.45v1.45h-1.45zM422.6,584.4h1.45v1.45h-1.45zM423.9,584.4h1.45v1.45h-1.45zM425.2,584.4h1.45v1.45h-1.45zM426.5,584.4h1.45v1.45h-1.45zM403.1,585.7h1.45v1.45h-1.45zM404.4,585.7h1.45v1.45h-1.45zM405.7,585.7h1.45v1.45h-1.45zM407,585.7h1.45v1.45h-1.45zM408.3,585.7h1.45v1.45h-1.45zM409.6,585.7h1.45v1.45h-1.45zM410.9,585.7h1.45v1.45h-1.45zM412.2,585.7h1.45v1.45h-1.45zM413.5,585.7h1.45v1.45h-1.45zM414.8,585.7h1.45v1.45h-1.45zM416.1,585.7h1.45v1.45h-1.45zM417.4,585.7h1.45v1.45h-1.45zM418.7,585.7h1.45v1.45h-1.45zM420,585.7h1.45v1.45h-1.45zM421.3,585.7h1.45v1.45h-1.45zM422.6,585.7h1.45v1.45h-1.45zM423.9,585.7h1.45v1.45h-1.45zM425.2,585.7h1.45v1.45h-1.45zM404.4,587h1.45v1.45h-1.45zM405.7,587h1.45v1.45h-1.45zM407,587h1.45v1.45h-1.45zM408.3,587h1.45v1.45h-1.45zM409.6,587h1.45v1.45h-1.45zM410.9,587h1.45v1.45h-1.45zM412.2,587h1.45v1.45h-1.45zM413.5,587h1.45v1.45h-1.45zM414.8,587h1.45v1.45h-1.45zM416.1,587h1.45v1.45h-1.45zM417.4,587h1.45v1.45h-1.45zM418.7,587h1.45v1.45h-1.45zM420,587h1.45v1.45h-1.45zM421.3,587h1.45v1.45h-1.45zM422.6,587h1.45v1.45h-1.45zM423.9,587h1.45v1.45h-1.45zM425.2,587h1.45v1.45h-1.45zM405.7,588.3h1.45v1.45h-1.45zM407,588.3h1.45v1.45h-1.45zM408.3,588.3h1.45v1.45h-1.45zM409.6,588.3h1.45v1.45h-1.45zM410.9,588.3h1.45v1.45h-1.45zM412.2,588.3h1.45v1.45h-1.45zM413.5,588.3h1.45v1.45h-1.45zM414.8,588.3h1.45v1.45h-1.45zM416.1,588.3h1.45v1.45h-1.45zM417.4,588.3h1.45v1.45h-1.45zM418.7,588.3h1.45v1.45h-1.45zM420,588.3h1.45v1.45h-1.45zM421.3,588.3h1.45v1.45h-1.45zM422.6,588.3h1.45v1.45h-1.45zM423.9,588.3h1.45v1.45h-1.45zM400.5,589.6h1.45v1.45h-1.45zM401.8,589.6h1.45v1.45h-1.45zM403.1,589.6h1.45v1.45h-1.45zM407,589.6h1.45v1.45h-1.45zM408.3,589.6h1.45v1.45h-1.45zM409.6,589.6h1.45v1.45h-1.45zM410.9,589.6h1.45v1.45h-1.45zM412.2,589.6h1.45v1.45h-1.45zM413.5,589.6h1.45v1.45h-1.45zM414.8,589.6h1.45v1.45h-1.45zM416.1,589.6h1.45v1.45h-1.45zM417.4,589.6h1.45v1.45h-1.45zM418.7,589.6h1.45v1.45h-1.45zM422.6,589.6h1.45v1.45h-1.45zM399.2,590.9h1.45v1.45h-1.45zM400.5,590.9h1.45v1.45h-1.45zM401.8,590.9h1.45v1.45h-1.45zM403.1,590.9h1.45v1.45h-1.45zM404.4,590.9h1.45v1.45h-1.45zM405.7,590.9h1.45v1.45h-1.45zM407,590.9h1.45v1.45h-1.45zM408.3,590.9h1.45v1.45h-1.45zM409.6,590.9h1.45v1.45h-1.45zM410.9,590.9h1.45v1.45h-1.45zM412.2,590.9h1.45v1.45h-1.45zM413.5,590.9h1.45v1.45h-1.45zM414.8,590.9h1.45v1.45h-1.45zM416.1,590.9h1.45v1.45h-1.45zM417.4,590.9h1.45v1.45h-1.45zM418.7,590.9h1.45v1.45h-1.45zM397.9,592.2h1.45v1.45h-1.45zM399.2,592.2h1.45v1.45h-1.45zM400.5,592.2h1.45v1.45h-1.45zM401.8,592.2h1.45v1.45h-1.45zM403.1,592.2h1.45v1.45h-1.45zM404.4,592.2h1.45v1.45h-1.45zM405.7,592.2h1.45v1.45h-1.45zM407,592.2h1.45v1.45h-1.45zM408.3,592.2h1.45v1.45h-1.45zM409.6,592.2h1.45v1.45h-1.45zM414.8,592.2h1.45v1.45h-1.45zM416.1,592.2h1.45v1.45h-1.45zM417.4,592.2h1.45v1.45h-1.45zM397.9,593.5h1.45v1.45h-1.45zM399.2,593.5h1.45v1.45h-1.45zM400.5,593.5h1.45v1.45h-1.45zM401.8,593.5h1.45v1.45h-1.45zM403.1,593.5h1.45v1.45h-1.45zM404.4,593.5h1.45v1.45h-1.45zM405.7,593.5h1.45v1.45h-1.45zM407,593.5h1.45v1.45h-1.45zM414.8,593.5h1.45v1.45h-1.45zM397.9,594.8h1.45v1.45h-1.45zM399.2,594.8h1.45v1.45h-1.45zM400.5,594.8h1.45v1.45h-1.45zM401.8,594.8h1.45v1.45h-1.45zM403.1,594.8h1.45v1.45h-1.45zM404.4,594.8h1.45v1.45h-1.45zM405.7,594.8h1.45v1.45h-1.45zM407,594.8h1.45v1.45h-1.45zM414.8,594.8h1.45v1.45h-1.45zM396.6,596.1h1.45v1.45h-1.45zM397.9,596.1h1.45v1.45h-1.45zM399.2,596.1h1.45v1.45h-1.45zM400.5,596.1h1.45v1.45h-1.45zM401.8,596.1h1.45v1.45h-1.45zM403.1,596.1h1.45v1.45h-1.45zM404.4,596.1h1.45v1.45h-1.45zM405.7,596.1h1.45v1.45h-1.45zM407,596.1h1.45v1.45h-1.45zM408.3,596.1h1.45v1.45h-1.45zM409.6,596.1h1.45v1.45h-1.45zM410.9,596.1h1.45v1.45h-1.45zM412.2,596.1h1.45v1.45h-1.45zM413.5,596.1h1.45v1.45h-1.45zM396.6,597.4h1.45v1.45h-1.45zM397.9,597.4h1.45v1.45h-1.45zM399.2,597.4h1.45v1.45h-1.45zM400.5,597.4h1.45v1.45h-1.45zM401.8,597.4h1.45v1.45h-1.45zM403.1,597.4h1.45v1.45h-1.45zM404.4,597.4h1.45v1.45h-1.45zM405.7,597.4h1.45v1.45h-1.45zM407,597.4h1.45v1.45h-1.45zM408.3,597.4h1.45v1.45h-1.45zM409.6,597.4h1.45v1.45h-1.45zM397.9,598.7h1.45v1.45h-1.45zM399.2,598.7h1.45v1.45h-1.45zM400.5,598.7h1.45v1.45h-1.45zM401.8,598.7h1.45v1.45h-1.45zM403.1,598.7h1.45v1.45h-1.45zM404.4,598.7h1.45v1.45h-1.45zM405.7,598.7h1.45v1.45h-1.45zM407,598.7h1.45v1.45h-1.45zM401.8,600h1.45v1.45h-1.45zM403.1,600h1.45v1.45h-1.45zM404.4,600h1.45v1.45h-1.45z" fill="#8E2CF2"/>
<path d="M409.6,584.4h1.45v1.45h-1.45zM410.9,592.2h1.45v1.45h-1.45zM412.2,592.2h1.45v1.45h-1.45zM413.5,592.2h1.45v1.45h-1.45zM408.3,593.5h1.45v1.45h-1.45zM413.5,593.5h1.45v1.45h-1.45zM408.3,594.8h1.45v1.45h-1.45zM412.2,594.8h1.45v1.45h-1.45zM413.5,594.8h1.45v1.45h-1.45z" fill="#3A36F2"/>
<path d="M409.6,593.5h1.45v1.45h-1.45zM410.9,593.5h1.45v1.45h-1.45zM412.2,593.5h1.45v1.45h-1.45zM409.6,594.8h1.45v1.45h-1.45zM410.9,594.8h1.45v1.45h-1.45z" fill="#1C8CF4"/>
</g>
<text x="372.6" y="498.7" font-size="9.4" text-anchor="start" fill="#FFFFFF" >Empty</text>
<text x="300.2" y="525.2" font-size="9.7" text-anchor="start" fill="#FFFFFF" font-style="italic" >proCssANS3</text>
<text x="402.4" y="523.8" font-size="9.7" text-anchor="start" fill="#FFFFFF" font-style="italic" >proCsaANS3</text>
<text x="300.2" y="624.8" font-size="9.7" text-anchor="start" fill="#FFFFFF" font-style="italic" >proCtANS3</text>
<text x="391" y="624.4" font-size="9.7" text-anchor="start" fill="#FFFFFF" font-style="italic" >proCtANS3-192</text>
<line x1="525.4" y1="468.64" x2="525.4" y2="618.05" stroke="#000" stroke-width="0.9" />
<line x1="524.95" y1="617.6" x2="674.5" y2="617.6" stroke="#000" stroke-width="0.9" />
<line x1="522.4" y1="617.6" x2="525.4" y2="617.6" stroke="#000" stroke-width="0.9" />
<text x="521.8" y="621.1" font-size="10.0" text-anchor="end" fill="#222" >0.00</text>
<line x1="522.4" y1="580.36" x2="525.4" y2="580.36" stroke="#000" stroke-width="0.9" />
<text x="521.8" y="583.86" font-size="10.0" text-anchor="end" fill="#222" >0.02</text>
<line x1="522.4" y1="543.12" x2="525.4" y2="543.12" stroke="#000" stroke-width="0.9" />
<text x="521.8" y="546.62" font-size="10.0" text-anchor="end" fill="#222" >0.04</text>
<line x1="522.4" y1="505.88" x2="525.4" y2="505.88" stroke="#000" stroke-width="0.9" />
<text x="521.8" y="509.38" font-size="10.0" text-anchor="end" fill="#222" >0.06</text>
<line x1="522.4" y1="468.64" x2="525.4" y2="468.64" stroke="#000" stroke-width="0.9" />
<text x="521.8" y="472.14" font-size="10.0" text-anchor="end" fill="#222" >0.08</text>
<line x1="523.6" y1="598.98" x2="525.4" y2="598.98" stroke="#000" stroke-width="0.8" />
<line x1="523.6" y1="561.74" x2="525.4" y2="561.74" stroke="#000" stroke-width="0.8" />
<line x1="523.6" y1="524.5" x2="525.4" y2="524.5" stroke="#000" stroke-width="0.8" />
<line x1="523.6" y1="487.26" x2="525.4" y2="487.26" stroke="#000" stroke-width="0.8" />
<text transform="translate(494.6,551.2) rotate(-90)" font-size="10.2" text-anchor="middle" fill="#111" >LUC/REN ratio</text>
<rect x="533.2" y="528.6" width="15.4" height="89" fill="#92C6E0" stroke="#222" stroke-width="0.9" />
<line x1="540.9" y1="507.18" x2="540.9" y2="528.6" stroke="#000" stroke-width="0.9" />
<line x1="537.1" y1="507.18" x2="544.7" y2="507.18" stroke="#000" stroke-width="0.9" />
<circle cx="536.7" cy="536.42" r="1.35" fill="#000" />
<circle cx="544.5" cy="537.16" r="1.35" fill="#000" />
<circle cx="540.7" cy="543.12" r="1.35" fill="#000" />
<circle cx="540.7" cy="496.57" r="1.35" fill="#000" />
<text x="540.9" y="493.3" font-size="10.0" text-anchor="middle" fill="#222" >a</text>
<line x1="540.9" y1="617.6" x2="540.9" y2="620.4" stroke="#000" stroke-width="0.9" />
<text transform="translate(546.9,627.2) rotate(-47)" font-size="9.8" text-anchor="end" fill="#222" font-style="italic" >proCtANS3</text>
<rect x="562.8" y="589.67" width="15.4" height="27.93" fill="#7EB891" stroke="#222" stroke-width="0.9" />
<line x1="570.5" y1="581.48" x2="570.5" y2="589.67" stroke="#000" stroke-width="0.9" />
<line x1="566.7" y1="581.48" x2="574.3" y2="581.48" stroke="#000" stroke-width="0.9" />
<circle cx="564.7" cy="593.77" r="1.35" fill="#000" />
<circle cx="568.9" cy="585.95" r="1.35" fill="#000" />
<circle cx="570.7" cy="580.92" r="1.35" fill="#000" />
<circle cx="570.7" cy="598.42" r="1.35" fill="#000" />
<text x="570.5" y="575.98" font-size="10.0" text-anchor="middle" fill="#222" >b</text>
<line x1="570.5" y1="617.6" x2="570.5" y2="620.4" stroke="#000" stroke-width="0.9" />
<text transform="translate(576.5,627.2) rotate(-47)" font-size="9.8" text-anchor="end" fill="#222" font-style="italic" >proCsaANS3</text>
<rect x="592.3" y="590.6" width="15.4" height="27" fill="#DFBE86" stroke="#222" stroke-width="0.9" />
<line x1="600" y1="582.59" x2="600" y2="590.6" stroke="#000" stroke-width="0.9" />
<line x1="596.2" y1="582.59" x2="603.8" y2="582.59" stroke="#000" stroke-width="0.9" />
<circle cx="597.8" cy="589.67" r="1.35" fill="#000" />
<circle cx="602.2" cy="589.67" r="1.35" fill="#000" />
<circle cx="599.8" cy="603.08" r="1.35" fill="#000" />
<circle cx="602.2" cy="585.01" r="1.35" fill="#000" />
<text x="600" y="577.09" font-size="10.0" text-anchor="middle" fill="#222" >b</text>
<line x1="600" y1="617.6" x2="600" y2="620.4" stroke="#000" stroke-width="0.9" />
<text transform="translate(606,627.2) rotate(-47)" font-size="9.8" text-anchor="end" fill="#222" font-style="italic" >proCssANS3</text>
<rect x="622.2" y="604.94" width="15.4" height="12.66" fill="#8794B4" stroke="#222" stroke-width="0.9" />
<line x1="629.9" y1="600.84" x2="629.9" y2="604.94" stroke="#000" stroke-width="0.9" />
<line x1="626.1" y1="600.84" x2="633.7" y2="600.84" stroke="#000" stroke-width="0.9" />
<circle cx="626.1" cy="605.5" r="1.35" fill="#000" />
<circle cx="633.1" cy="605.5" r="1.35" fill="#000" />
<circle cx="629.9" cy="602.7" r="1.35" fill="#000" />
<circle cx="629.9" cy="599.35" r="1.35" fill="#000" />
<text x="629.9" y="595.34" font-size="10.0" text-anchor="middle" fill="#222" >c</text>
<line x1="629.9" y1="617.6" x2="629.9" y2="620.4" stroke="#000" stroke-width="0.9" />
<text transform="translate(635.9,627.2) rotate(-47)" font-size="9.8" text-anchor="end" fill="#222" font-style="italic" >proCtANS3-192</text>
<rect x="651.6" y="612.2" width="15.4" height="5.4" fill="#B8B8B8" stroke="#222" stroke-width="0.9" />
<circle cx="657.1" cy="612.2" r="1.35" fill="#000" />
<circle cx="661.1" cy="612.2" r="1.35" fill="#000" />
<circle cx="659.3" cy="612.01" r="1.35" fill="#000" />
<text x="659.3" y="606.33" font-size="10.0" text-anchor="middle" fill="#222" >c</text>
<line x1="659.3" y1="617.6" x2="659.3" y2="620.4" stroke="#000" stroke-width="0.9" />
<text transform="translate(665.3,627.2) rotate(-47)" font-size="9.8" text-anchor="end" fill="#222" >Empty</text>
</svg>
</body></html>
